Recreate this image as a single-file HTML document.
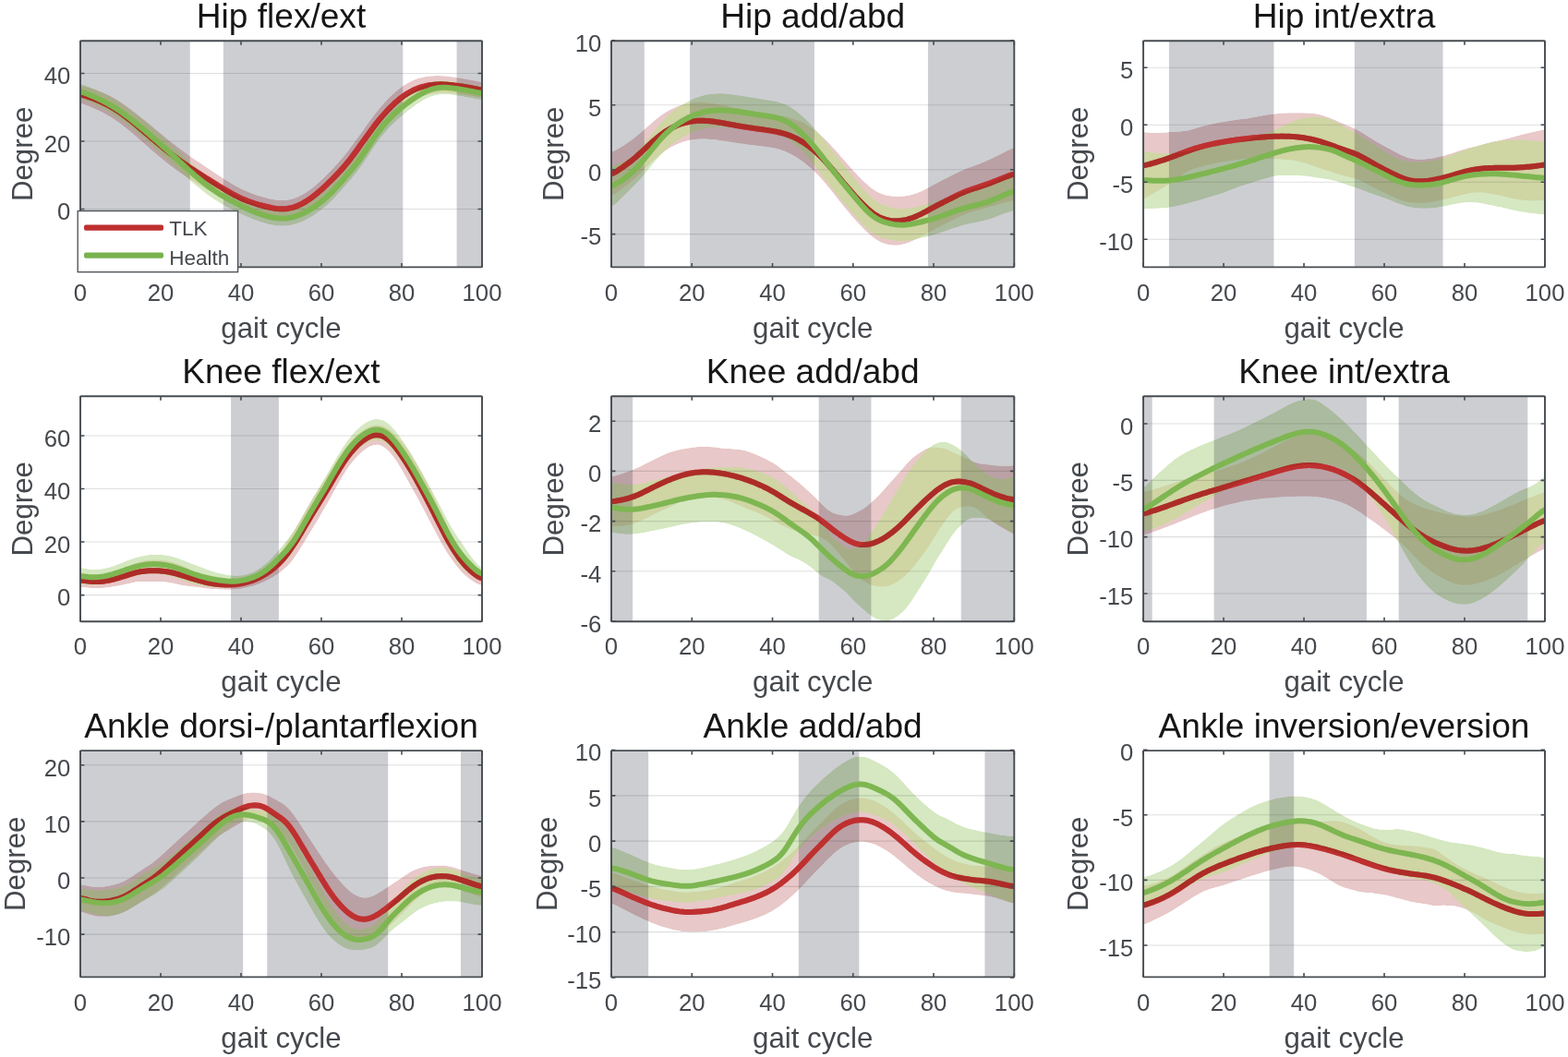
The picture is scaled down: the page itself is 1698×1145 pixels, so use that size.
<!DOCTYPE html><html><head><meta charset="utf-8"><title>Gait kinematics</title>
<style>html,body{margin:0;padding:0;background:#fff;}svg{display:block;}text{font-family:'Liberation Sans', Arial, Helvetica, sans-serif;}</style></head><body>
<svg xmlns="http://www.w3.org/2000/svg" width="1698" height="1145" viewBox="0 0 1698 1145">
<rect x="0" y="0" width="1698" height="1145" fill="#fff"/>
<clipPath id="c0"><rect x="87" y="44.3" width="435" height="245.1"/></clipPath>
<g clip-path="url(#c0)">
<rect x="87" y="44.3" width="435" height="245.1" fill="#fff"/>
<rect x="87" y="44.3" width="118.75" height="245.1" fill="rgb(205,206,210)"/>
<rect x="241.86" y="44.3" width="194.44" height="245.1" fill="rgb(205,206,210)"/>
<rect x="494.6" y="44.3" width="27.4" height="245.1" fill="rgb(205,206,210)"/>
<line x1="87" y1="226.5" x2="522" y2="226.5" stroke="#262626" stroke-opacity="0.15" stroke-width="1.1"/>
<line x1="87" y1="153" x2="522" y2="153" stroke="#262626" stroke-opacity="0.15" stroke-width="1.1"/>
<line x1="87" y1="79.5" x2="522" y2="79.5" stroke="#262626" stroke-opacity="0.15" stroke-width="1.1"/>
<defs><path id="br0" d="M87,92.93L89.17,93.24L91.35,93.68L93.53,94.23L95.7,94.83L97.88,95.48L100.05,96.15L102.22,96.86L104.4,97.6L106.58,98.38L108.75,99.2L110.92,100.07L113.1,100.99L115.28,101.97L117.45,103.01L119.62,104.11L121.8,105.27L123.97,106.5L126.15,107.8L128.32,109.15L130.5,110.56L132.68,112.02L134.85,113.52L137.03,115.06L139.2,116.64L141.38,118.25L143.55,119.89L145.72,121.56L147.9,123.26L150.07,124.97L152.25,126.7L154.43,128.45L156.6,130.21L158.78,131.99L160.95,133.77L163.12,135.56L165.3,137.35L167.47,139.15L169.65,140.95L171.82,142.75L174,144.55L176.18,146.35L178.35,148.14L180.53,149.92L182.7,151.68L184.88,153.43L187.05,155.15L189.22,156.86L191.4,158.54L193.57,160.19L195.75,161.82L197.93,163.43L200.1,165.02L202.28,166.58L204.45,168.13L206.62,169.65L208.8,171.16L210.97,172.66L213.15,174.14L215.32,175.6L217.5,177.05L219.68,178.5L221.85,179.95L224.03,181.4L226.2,182.85L228.38,184.3L230.55,185.76L232.72,187.21L234.9,188.67L237.07,190.12L239.25,191.55L241.43,192.98L243.6,194.38L245.78,195.77L247.95,197.12L250.12,198.44L252.3,199.72L254.47,200.96L256.65,202.15L258.82,203.3L261,204.38L263.18,205.42L265.35,206.41L267.52,207.36L269.7,208.26L271.88,209.12L274.05,209.94L276.23,210.71L278.4,211.46L280.57,212.16L282.75,212.83L284.93,213.47L287.1,214.08L289.27,214.65L291.45,215.19L293.62,215.68L295.8,216.12L297.98,216.49L300.15,216.78L302.32,216.99L304.5,217.09L306.68,217.08L308.85,216.95L311.02,216.7L313.2,216.33L315.38,215.83L317.55,215.2L319.73,214.46L321.9,213.59L324.07,212.6L326.25,211.49L328.43,210.28L330.6,208.95L332.77,207.53L334.95,206L337.12,204.39L339.3,202.68L341.48,200.9L343.65,199.03L345.82,197.1L348,195.11L350.18,193.05L352.35,190.93L354.52,188.76L356.7,186.54L358.88,184.27L361.05,181.96L363.23,179.61L365.4,177.22L367.57,174.77L369.75,172.26L371.93,169.68L374.1,167.02L376.27,164.28L378.45,161.46L380.62,158.56L382.8,155.61L384.98,152.6L387.15,149.56L389.32,146.5L391.5,143.44L393.68,140.38L395.85,137.34L398.02,134.31L400.2,131.32L402.38,128.38L404.55,125.51L406.73,122.7L408.9,119.96L411.07,117.31L413.25,114.74L415.43,112.25L417.6,109.86L419.77,107.55L421.95,105.34L424.12,103.22L426.3,101.19L428.48,99.27L430.65,97.44L432.82,95.71L435,94.08L437.18,92.56L439.35,91.16L441.52,89.88L443.7,88.71L445.88,87.65L448.05,86.7L450.23,85.86L452.4,85.11L454.57,84.46L456.75,83.9L458.93,83.42L461.1,83.02L463.27,82.7L465.45,82.45L467.62,82.26L469.8,82.14L471.98,82.08L474.15,82.06L476.32,82.1L478.5,82.17L480.68,82.29L482.85,82.46L485.02,82.67L487.2,82.91L489.38,83.19L491.55,83.49L493.73,83.81L495.9,84.16L498.07,84.52L500.25,84.9L502.43,85.29L504.6,85.69L506.77,86.09L508.95,86.51L511.12,86.93L513.3,87.35L515.48,87.76L517.65,88.14L519.83,88.47L522,88.73L522,105.63L519.83,105.38L517.65,105.07L515.48,104.71L513.3,104.34L511.12,103.96L508.95,103.59L506.77,103.24L504.6,102.9L502.43,102.57L500.25,102.26L498.07,101.97L495.9,101.7L493.73,101.45L491.55,101.22L489.38,101.02L487.2,100.85L485.02,100.71L482.85,100.61L480.68,100.56L478.5,100.55L476.32,100.6L474.15,100.72L471.98,100.92L469.8,101.19L467.62,101.53L465.45,101.96L463.27,102.47L461.1,103.05L458.93,103.72L456.75,104.48L454.57,105.31L452.4,106.24L450.23,107.25L448.05,108.35L445.88,109.54L443.7,110.82L441.52,112.2L439.35,113.66L437.18,115.22L435,116.86L432.82,118.6L430.65,120.44L428.48,122.38L426.3,124.41L424.12,126.54L421.95,128.77L419.77,131.08L417.6,133.48L415.43,135.96L413.25,138.53L411.07,141.18L408.9,143.91L406.73,146.71L404.55,149.58L402.38,152.51L400.2,155.5L398.02,158.52L395.85,161.57L393.68,164.63L391.5,167.7L389.32,170.74L387.15,173.74L384.98,176.69L382.8,179.57L380.62,182.37L378.45,185.09L376.27,187.72L374.1,190.25L371.93,192.68L369.75,195.02L367.57,197.29L365.4,199.49L363.23,201.64L361.05,203.74L358.88,205.81L356.7,207.85L354.52,209.86L352.35,211.84L350.18,213.78L348,215.69L345.82,217.54L343.65,219.33L341.48,221.04L339.3,222.68L337.12,224.23L334.95,225.7L332.77,227.08L330.6,228.36L328.43,229.55L326.25,230.63L324.07,231.6L321.9,232.47L319.73,233.23L317.55,233.88L315.38,234.42L313.2,234.84L311.02,235.16L308.85,235.36L306.68,235.46L304.5,235.46L302.32,235.37L300.15,235.2L297.98,234.94L295.8,234.63L293.62,234.27L291.45,233.86L289.27,233.43L287.1,232.96L284.93,232.48L282.75,231.97L280.57,231.43L278.4,230.86L276.23,230.27L274.05,229.63L271.88,228.97L269.7,228.26L267.52,227.5L265.35,226.71L263.18,225.86L261,224.96L258.82,224.02L256.65,223.03L254.47,222.01L252.3,220.95L250.12,219.85L247.95,218.72L245.78,217.57L243.6,216.39L241.43,215.19L239.25,213.97L237.07,212.74L234.9,211.5L232.72,210.24L230.55,208.99L228.38,207.72L226.2,206.46L224.03,205.18L221.85,203.9L219.68,202.61L217.5,201.31L215.32,200L213.15,198.68L210.97,197.34L208.8,196L206.62,194.64L204.45,193.26L202.28,191.87L200.1,190.44L197.93,189L195.75,187.52L193.57,186.02L191.4,184.48L189.22,182.91L187.05,181.31L184.88,179.67L182.7,178L180.53,176.3L178.35,174.56L176.18,172.8L174,171.01L171.82,169.2L169.65,167.36L167.47,165.5L165.3,163.62L163.12,161.72L160.95,159.81L158.78,157.9L156.6,155.98L154.43,154.05L152.25,152.13L150.07,150.22L147.9,148.32L145.72,146.43L143.55,144.57L141.38,142.73L139.2,140.92L137.03,139.14L134.85,137.41L132.68,135.72L130.5,134.08L128.32,132.49L126.15,130.95L123.97,129.47L121.8,128.05L119.62,126.68L117.45,125.38L115.28,124.13L113.1,122.94L110.92,121.81L108.75,120.72L106.58,119.67L104.4,118.66L102.22,117.69L100.05,116.75L97.88,115.83L95.7,114.95L93.53,114.09L91.35,113.3L89.17,112.6L87,112.04Z"/><path id="bg0" d="M87,91.22L89.17,91.7L91.35,92.33L93.53,93.09L95.7,93.91L97.88,94.77L100.05,95.65L102.22,96.56L104.4,97.49L106.58,98.45L108.75,99.44L110.92,100.46L113.1,101.53L115.28,102.63L117.45,103.78L119.62,104.98L121.8,106.22L123.97,107.51L126.15,108.85L128.32,110.24L130.5,111.67L132.68,113.14L134.85,114.64L137.03,116.18L139.2,117.75L141.38,119.35L143.55,120.97L145.72,122.63L147.9,124.31L150.07,126.02L152.25,127.74L154.43,129.49L156.6,131.26L158.78,133.06L160.95,134.87L163.12,136.7L165.3,138.55L167.47,140.42L169.65,142.31L171.82,144.22L174,146.16L176.18,148.11L178.35,150.07L180.53,152.04L182.7,154.02L184.88,156.01L187.05,158.01L189.22,160.02L191.4,162.03L193.57,164.04L195.75,166.06L197.93,168.07L200.1,170.07L202.28,172.07L204.45,174.05L206.62,176.02L208.8,177.96L210.97,179.89L213.15,181.78L215.32,183.65L217.5,185.49L219.68,187.29L221.85,189.06L224.03,190.79L226.2,192.48L228.38,194.13L230.55,195.73L232.72,197.28L234.9,198.79L237.07,200.25L239.25,201.67L241.43,203.05L243.6,204.39L245.78,205.7L247.95,206.97L250.12,208.21L252.3,209.42L254.47,210.61L256.65,211.77L258.82,212.91L261,214.03L263.18,215.14L265.35,216.22L267.52,217.29L269.7,218.33L271.88,219.34L274.05,220.33L276.23,221.28L278.4,222.19L280.57,223.05L282.75,223.87L284.93,224.64L287.1,225.36L289.27,226.01L291.45,226.6L293.62,227.12L295.8,227.57L297.98,227.93L300.15,228.22L302.32,228.41L304.5,228.51L306.68,228.51L308.85,228.4L311.02,228.19L313.2,227.88L315.38,227.45L317.55,226.92L319.73,226.27L321.9,225.52L324.07,224.66L326.25,223.71L328.43,222.65L330.6,221.5L332.77,220.27L334.95,218.95L337.12,217.56L339.3,216.1L341.48,214.56L343.65,212.96L345.82,211.28L348,209.53L350.18,207.71L352.35,205.79L354.52,203.79L356.7,201.69L358.88,199.5L361.05,197.22L363.23,194.85L365.4,192.42L367.57,189.92L369.75,187.39L371.93,184.84L374.1,182.27L376.27,179.7L378.45,177.11L380.62,174.5L382.8,171.85L384.98,169.11L387.15,166.29L389.32,163.35L391.5,160.29L393.68,157.12L395.85,153.86L398.02,150.54L400.2,147.21L402.38,143.91L404.55,140.69L406.73,137.56L408.9,134.56L411.07,131.69L413.25,128.94L415.43,126.32L417.6,123.82L419.77,121.43L421.95,119.15L424.12,116.97L426.3,114.88L428.48,112.87L430.65,110.94L432.82,109.09L435,107.29L437.18,105.57L439.35,103.92L441.52,102.34L443.7,100.82L445.88,99.37L448.05,97.99L450.23,96.67L452.4,95.43L454.57,94.27L456.75,93.19L458.93,92.2L461.1,91.29L463.27,90.47L465.45,89.74L467.62,89.12L469.8,88.59L471.98,88.17L474.15,87.84L476.32,87.62L478.5,87.48L480.68,87.44L482.85,87.48L485.02,87.6L487.2,87.79L489.38,88.03L491.55,88.31L493.73,88.62L495.9,88.95L498.07,89.3L500.25,89.67L502.43,90.05L504.6,90.44L506.77,90.84L508.95,91.25L511.12,91.67L513.3,92.09L515.48,92.5L517.65,92.89L519.83,93.23L522,93.49L522,108.19L519.83,107.93L517.65,107.59L515.48,107.2L513.3,106.79L511.12,106.37L508.95,105.95L506.77,105.54L504.6,105.14L502.43,104.75L500.25,104.37L498.07,104L495.9,103.65L493.73,103.32L491.55,103.01L489.38,102.73L487.2,102.49L485.02,102.3L482.85,102.18L480.68,102.14L478.5,102.18L476.32,102.34L474.15,102.64L471.98,103.07L469.8,103.63L467.62,104.33L465.45,105.16L463.27,106.11L461.1,107.16L458.93,108.32L456.75,109.58L454.57,110.92L452.4,112.34L450.23,113.83L448.05,115.39L445.88,117L443.7,118.66L441.52,120.36L439.35,122.09L437.18,123.86L435,125.67L432.82,127.52L430.65,129.44L428.48,131.42L426.3,133.49L424.12,135.63L421.95,137.86L419.77,140.2L417.6,142.63L415.43,145.17L413.25,147.84L411.07,150.62L408.9,153.53L406.73,156.56L404.55,159.72L402.38,162.97L400.2,166.28L398.02,169.63L395.85,172.96L393.68,176.23L391.5,179.4L389.32,182.45L387.15,185.37L384.98,188.16L382.8,190.85L380.62,193.45L378.45,196L376.27,198.51L374.1,201.01L371.93,203.49L369.75,205.95L367.57,208.39L365.4,210.78L363.23,213.12L361.05,215.39L358.88,217.57L356.7,219.67L354.52,221.67L352.35,223.59L350.18,225.42L348,227.17L345.82,228.84L343.65,230.44L341.48,231.95L339.3,233.39L337.12,234.76L334.95,236.06L332.77,237.28L330.6,238.41L328.43,239.46L326.25,240.43L324.07,241.3L321.9,242.07L319.73,242.74L317.55,243.31L315.38,243.78L313.2,244.15L311.02,244.42L308.85,244.6L306.68,244.68L304.5,244.68L302.32,244.59L300.15,244.41L297.98,244.16L295.8,243.83L293.62,243.44L291.45,242.98L289.27,242.45L287.1,241.87L284.93,241.24L282.75,240.56L280.57,239.83L278.4,239.05L276.23,238.24L274.05,237.39L271.88,236.5L269.7,235.59L267.52,234.65L265.35,233.68L263.18,232.69L261,231.67L258.82,230.65L256.65,229.61L254.47,228.55L252.3,227.48L250.12,226.39L247.95,225.28L245.78,224.13L243.6,222.96L241.43,221.75L239.25,220.5L237.07,219.21L234.9,217.87L232.72,216.48L230.55,215.05L228.38,213.55L226.2,212.01L224.03,210.41L221.85,208.77L219.68,207.07L217.5,205.33L215.32,203.55L213.15,201.74L210.97,199.9L208.8,198.03L206.62,196.13L204.45,194.22L202.28,192.28L200.1,190.33L197.93,188.38L195.75,186.41L193.57,184.43L191.4,182.46L189.22,180.48L187.05,178.5L184.88,176.53L182.7,174.56L180.53,172.6L178.35,170.64L176.18,168.68L174,166.74L171.82,164.79L169.65,162.85L167.47,160.91L165.3,158.97L163.12,157.04L160.95,155.11L158.78,153.19L156.6,151.28L154.43,149.38L152.25,147.5L150.07,145.63L147.9,143.78L145.72,141.95L143.55,140.15L141.38,138.38L139.2,136.63L137.03,134.93L134.85,133.26L132.68,131.63L130.5,130.04L128.32,128.5L126.15,127.01L123.97,125.56L121.8,124.15L119.62,122.8L117.45,121.49L115.28,120.23L113.1,119.02L110.92,117.85L108.75,116.71L106.58,115.61L104.4,114.54L102.22,113.5L100.05,112.48L97.88,111.49L95.7,110.52L93.53,109.59L91.35,108.72L89.17,107.98L87,107.39Z"/>
<mask id="mA0" maskUnits="userSpaceOnUse" x="0" y="0" width="1698" height="1145"><use href="#br0" fill="#fff"/><use href="#bg0" fill="#000"/></mask>
<mask id="mB0" maskUnits="userSpaceOnUse" x="0" y="0" width="1698" height="1145"><use href="#bg0" fill="#fff"/><use href="#br0" fill="#000"/></mask>
<clipPath id="cC0"><use href="#br0"/></clipPath></defs>
<use href="#br0" fill="rgb(232,200,200)" mask="url(#mA0)" style="mix-blend-mode:multiply"/>
<path d="M87,102.48L89.17,102.92L91.35,103.49L93.53,104.16L95.7,104.89L97.88,105.66L100.05,106.45L102.22,107.28L104.4,108.13L106.58,109.02L108.75,109.96L110.92,110.94L113.1,111.97L115.28,113.05L117.45,114.19L119.62,115.4L121.8,116.66L123.97,117.99L126.15,119.38L128.32,120.82L130.5,122.32L132.68,123.87L134.85,125.46L137.03,127.1L139.2,128.78L141.38,130.49L143.55,132.23L145.72,134L147.9,135.79L150.07,137.6L152.25,139.42L154.43,141.25L156.6,143.1L158.78,144.94L160.95,146.79L163.12,148.64L165.3,150.48L167.47,152.32L169.65,154.16L171.82,155.98L174,157.78L176.18,159.58L178.35,161.35L180.53,163.11L182.7,164.84L184.88,166.55L187.05,168.23L189.22,169.88L191.4,171.51L193.57,173.11L195.75,174.67L197.93,176.21L200.1,177.73L202.28,179.22L204.45,180.7L206.62,182.15L208.8,183.58L210.97,185L213.15,186.41L215.32,187.8L217.5,189.18L219.68,190.56L221.85,191.93L224.03,193.29L226.2,194.65L228.38,196.01L230.55,197.37L232.72,198.73L234.9,200.08L237.07,201.43L239.25,202.76L241.43,204.08L243.6,205.39L245.78,206.67L247.95,207.92L250.12,209.15L252.3,210.34L254.47,211.49L256.65,212.59L258.82,213.66L261,214.67L263.18,215.64L265.35,216.56L267.52,217.43L269.7,218.26L271.88,219.04L274.05,219.78L276.23,220.49L278.4,221.16L280.57,221.79L282.75,222.4L284.93,222.97L287.1,223.52L289.27,224.04L291.45,224.52L293.62,224.97L295.8,225.37L297.98,225.72L300.15,225.99L302.32,226.18L304.5,226.28L306.68,226.27L308.85,226.16L311.02,225.93L313.2,225.58L315.38,225.12L317.55,224.54L319.73,223.85L321.9,223.03L324.07,222.1L326.25,221.06L328.43,219.91L330.6,218.66L332.77,217.3L334.95,215.85L337.12,214.31L339.3,212.68L341.48,210.97L343.65,209.18L345.82,207.32L348,205.4L350.18,203.42L352.35,201.39L354.52,199.31L356.7,197.19L358.88,195.04L361.05,192.85L363.23,190.62L365.4,188.35L367.57,186.03L369.75,183.64L371.93,181.18L374.1,178.63L376.27,176L378.45,173.27L380.62,170.47L382.8,167.59L384.98,164.64L387.15,161.65L389.32,158.62L391.5,155.57L393.68,152.51L395.85,149.45L398.02,146.42L400.2,143.41L402.38,140.45L404.55,137.54L406.73,134.7L408.9,131.94L411.07,129.24L413.25,126.64L415.43,124.11L417.6,121.67L419.77,119.32L421.95,117.05L424.12,114.88L426.3,112.8L428.48,110.82L430.65,108.94L432.82,107.15L435,105.47L437.18,103.89L439.35,102.41L441.52,101.04L443.7,99.77L445.88,98.6L448.05,97.53L450.23,96.56L452.4,95.68L454.57,94.89L456.75,94.19L458.93,93.57L461.1,93.04L463.27,92.58L465.45,92.2L467.62,91.9L469.8,91.66L471.98,91.5L474.15,91.39L476.32,91.35L478.5,91.36L480.68,91.43L482.85,91.54L485.02,91.69L487.2,91.88L489.38,92.1L491.55,92.36L493.73,92.63L495.9,92.93L498.07,93.25L500.25,93.58L502.43,93.93L504.6,94.29L506.77,94.67L508.95,95.05L511.12,95.45L513.3,95.84L515.48,96.24L517.65,96.61L519.83,96.93L522,97.18" fill="none" stroke="rgb(191,48,48)" stroke-width="6.0" stroke-linejoin="round"/>
<use href="#bg0" fill="rgb(213,232,193)" mask="url(#mB0)" style="mix-blend-mode:multiply"/>
<use href="#bg0" fill="rgb(207,213,163)" clip-path="url(#cC0)" style="mix-blend-mode:multiply"/>
<path d="M87,102.48L89.17,102.92L91.35,103.49L93.53,104.16L95.7,104.89L97.88,105.66L100.05,106.45L102.22,107.28L104.4,108.13L106.58,109.02L108.75,109.96L110.92,110.94L113.1,111.97L115.28,113.05L117.45,114.19L119.62,115.4L121.8,116.66L123.97,117.99L126.15,119.38L128.32,120.82L130.5,122.32L132.68,123.87L134.85,125.46L137.03,127.1L139.2,128.78L141.38,130.49L143.55,132.23L145.72,134L147.9,135.79L150.07,137.6L152.25,139.42L154.43,141.25L156.6,143.1L158.78,144.94L160.95,146.79L163.12,148.64L165.3,150.48L167.47,152.32L169.65,154.16L171.82,155.98L174,157.78L176.18,159.58L178.35,161.35L180.53,163.11L182.7,164.84L184.88,166.55L187.05,168.23L189.22,169.88L191.4,171.51L193.57,173.11L195.75,174.67L197.93,176.21L200.1,177.73L202.28,179.22L204.45,180.7L206.62,182.15L208.8,183.58L210.97,185L213.15,186.41L215.32,187.8L217.5,189.18L219.68,190.56L221.85,191.93L224.03,193.29L226.2,194.65L228.38,196.01L230.55,197.37L232.72,198.73L234.9,200.08L237.07,201.43L239.25,202.76L241.43,204.08L243.6,205.39L245.78,206.67L247.95,207.92L250.12,209.15L252.3,210.34L254.47,211.49L256.65,212.59L258.82,213.66L261,214.67L263.18,215.64L265.35,216.56L267.52,217.43L269.7,218.26L271.88,219.04L274.05,219.78L276.23,220.49L278.4,221.16L280.57,221.79L282.75,222.4L284.93,222.97L287.1,223.52L289.27,224.04L291.45,224.52L293.62,224.97L295.8,225.37L297.98,225.72L300.15,225.99L302.32,226.18L304.5,226.28L306.68,226.27L308.85,226.16L311.02,225.93L313.2,225.58L315.38,225.12L317.55,224.54L319.73,223.85L321.9,223.03L324.07,222.1L326.25,221.06L328.43,219.91L330.6,218.66L332.77,217.3L334.95,215.85L337.12,214.31L339.3,212.68L341.48,210.97L343.65,209.18L345.82,207.32L348,205.4L350.18,203.42L352.35,201.39L354.52,199.31L356.7,197.19L358.88,195.04L361.05,192.85L363.23,190.62L365.4,188.35L367.57,186.03L369.75,183.64L371.93,181.18L374.1,178.63L376.27,176L378.45,173.27L380.62,170.47L382.8,167.59L384.98,164.64L387.15,161.65L389.32,158.62L391.5,155.57L393.68,152.51L395.85,149.45L398.02,146.42L400.2,143.41L402.38,140.45L404.55,137.54L406.73,134.7L408.9,131.94L411.07,129.24L413.25,126.64L415.43,124.11L417.6,121.67L419.77,119.32L421.95,117.05L424.12,114.88L426.3,112.8L428.48,110.82L430.65,108.94L432.82,107.15L435,105.47L437.18,103.89L439.35,102.41L441.52,101.04L443.7,99.77L445.88,98.6L448.05,97.53L450.23,96.56L452.4,95.68L454.57,94.89L456.75,94.19L458.93,93.57L461.1,93.04L463.27,92.58L465.45,92.2L467.62,91.9L469.8,91.66L471.98,91.5L474.15,91.39L476.32,91.35L478.5,91.36L480.68,91.43L482.85,91.54L485.02,91.69L487.2,91.88L489.38,92.1L491.55,92.36L493.73,92.63L495.9,92.93L498.07,93.25L500.25,93.58L502.43,93.93L504.6,94.29L506.77,94.67L508.95,95.05L511.12,95.45L513.3,95.84L515.48,96.24L517.65,96.61L519.83,96.93L522,97.18" fill="none" stroke="rgb(191,48,48)" stroke-width="6.0" stroke-linejoin="round" stroke-opacity="0.5"/>
<path d="M87,99.3L89.17,99.84L91.35,100.53L93.53,101.34L95.7,102.21L97.88,103.13L100.05,104.07L102.22,105.03L104.4,106.01L106.58,107.03L108.75,108.07L110.92,109.15L113.1,110.27L115.28,111.43L117.45,112.64L119.62,113.89L121.8,115.19L123.97,116.54L126.15,117.93L128.32,119.37L130.5,120.86L132.68,122.38L134.85,123.95L137.03,125.55L139.2,127.19L141.38,128.86L143.55,130.56L145.72,132.29L147.9,134.04L150.07,135.82L152.25,137.62L154.43,139.44L156.6,141.27L158.78,143.12L160.95,144.99L163.12,146.87L165.3,148.76L167.47,150.66L169.65,152.58L171.82,154.51L174,156.45L176.18,158.4L178.35,160.35L180.53,162.32L182.7,164.29L184.88,166.27L187.05,168.26L189.22,170.25L191.4,172.24L193.57,174.24L195.75,176.23L197.93,178.22L200.1,180.2L202.28,182.18L204.45,184.13L206.62,186.07L208.8,187.99L210.97,189.89L213.15,191.76L215.32,193.6L217.5,195.41L219.68,197.18L221.85,198.91L224.03,200.6L226.2,202.25L228.38,203.84L230.55,205.39L232.72,206.88L234.9,208.33L237.07,209.73L239.25,211.09L241.43,212.4L243.6,213.68L245.78,214.92L247.95,216.12L250.12,217.3L252.3,218.45L254.47,219.58L256.65,220.69L258.82,221.78L261,222.85L263.18,223.91L265.35,224.95L267.52,225.97L269.7,226.96L271.88,227.92L274.05,228.86L276.23,229.76L278.4,230.62L280.57,231.44L282.75,232.21L284.93,232.94L287.1,233.61L289.27,234.23L291.45,234.79L293.62,235.28L295.8,235.7L297.98,236.05L300.15,236.32L302.32,236.5L304.5,236.59L306.68,236.6L308.85,236.5L311.02,236.31L313.2,236.01L315.38,235.62L317.55,235.11L319.73,234.51L321.9,233.79L324.07,232.98L326.25,232.07L328.43,231.06L330.6,229.96L332.77,228.77L334.95,227.51L337.12,226.16L339.3,224.74L341.48,223.26L343.65,221.7L345.82,220.06L348,218.35L350.18,216.56L352.35,214.69L354.52,212.73L356.7,210.68L358.88,208.53L361.05,206.3L363.23,203.99L365.4,201.6L367.57,199.16L369.75,196.67L371.93,194.16L374.1,191.64L376.27,189.11L378.45,186.56L380.62,183.98L382.8,181.35L384.98,178.64L387.15,175.83L389.32,172.9L391.5,169.85L393.68,166.67L395.85,163.41L398.02,160.08L400.2,156.75L402.38,153.44L404.55,150.2L406.73,147.06L408.9,144.04L411.07,141.15L413.25,138.39L415.43,135.75L417.6,133.22L419.77,130.81L421.95,128.51L424.12,126.3L426.3,124.18L428.48,122.15L430.65,120.19L432.82,118.3L435,116.48L437.18,114.72L439.35,113.01L441.52,111.35L443.7,109.74L445.88,108.18L448.05,106.69L450.23,105.25L452.4,103.89L454.57,102.6L456.75,101.38L458.93,100.26L461.1,99.22L463.27,98.29L465.45,97.45L467.62,96.73L469.8,96.11L471.98,95.62L474.15,95.24L476.32,94.98L478.5,94.83L480.68,94.79L482.85,94.83L485.02,94.95L487.2,95.14L489.38,95.38L491.55,95.66L493.73,95.97L495.9,96.3L498.07,96.65L500.25,97.02L502.43,97.4L504.6,97.79L506.77,98.19L508.95,98.6L511.12,99.02L513.3,99.44L515.48,99.85L517.65,100.24L519.83,100.58L522,100.84" fill="none" stroke="rgb(126,182,81)" stroke-width="6.0" stroke-linejoin="round"/>
</g>
<rect x="87" y="44.3" width="435" height="245.1" fill="none" stroke="#474c51" stroke-width="1.9" rx="0.8"/>
<path d="M87,289.4v-4.4M87,44.3v4.4M174,289.4v-4.4M174,44.3v4.4M261,289.4v-4.4M261,44.3v4.4M348,289.4v-4.4M348,44.3v4.4M435,289.4v-4.4M435,44.3v4.4M522,289.4v-4.4M522,44.3v4.4M87,226.5h4.4M522,226.5h-4.4M87,153h4.4M522,153h-4.4M87,79.5h4.4M522,79.5h-4.4" stroke="#474c51" stroke-width="1.6" fill="none"/>
<text x="87" y="325.5" font-size="25.7" fill="#45494e" text-anchor="middle">0</text>
<text x="174" y="325.5" font-size="25.7" fill="#45494e" text-anchor="middle">20</text>
<text x="261" y="325.5" font-size="25.7" fill="#45494e" text-anchor="middle">40</text>
<text x="348" y="325.5" font-size="25.7" fill="#45494e" text-anchor="middle">60</text>
<text x="435" y="325.5" font-size="25.7" fill="#45494e" text-anchor="middle">80</text>
<text x="522" y="325.5" font-size="25.7" fill="#45494e" text-anchor="middle">100</text>
<text x="76.3" y="238.3" font-size="25.7" fill="#45494e" text-anchor="end">0</text>
<text x="76.3" y="164.8" font-size="25.7" fill="#45494e" text-anchor="end">20</text>
<text x="76.3" y="91.3" font-size="25.7" fill="#45494e" text-anchor="end">40</text>
<text x="304.5" y="365.5" font-size="31.25" fill="#45494e" text-anchor="middle">gait cycle</text>
<text transform="translate(34.7,166.85) rotate(-90)" font-size="31.25" fill="#45494e" text-anchor="middle">Degree</text>
<text x="304.5" y="30.4" font-size="37.1" fill="#161616" text-anchor="middle">Hip flex/ext</text>
<clipPath id="c1"><rect x="662" y="44.3" width="436.3" height="245.1"/></clipPath>
<g clip-path="url(#c1)">
<rect x="662" y="44.3" width="436.3" height="245.1" fill="#fff"/>
<rect x="662" y="44.3" width="35.78" height="245.1" fill="rgb(205,206,210)"/>
<rect x="747.08" y="44.3" width="134.82" height="245.1" fill="rgb(205,206,210)"/>
<rect x="1004.93" y="44.3" width="93.37" height="245.1" fill="rgb(205,206,210)"/>
<line x1="662" y1="253.6" x2="1098.3" y2="253.6" stroke="#262626" stroke-opacity="0.15" stroke-width="1.1"/>
<line x1="662" y1="183.7" x2="1098.3" y2="183.7" stroke="#262626" stroke-opacity="0.15" stroke-width="1.1"/>
<line x1="662" y1="113.8" x2="1098.3" y2="113.8" stroke="#262626" stroke-opacity="0.15" stroke-width="1.1"/>
<defs><path id="br1" d="M662,164.55L664.18,163.83L666.36,162.85L668.54,161.68L670.73,160.4L672.91,159.06L675.09,157.67L677.27,156.24L679.45,154.76L681.63,153.23L683.82,151.64L686,149.99L688.18,148.28L690.36,146.51L692.54,144.69L694.72,142.82L696.9,140.91L699.09,138.99L701.27,137.05L703.45,135.13L705.63,133.23L707.81,131.36L709.99,129.54L712.17,127.79L714.36,126.11L716.54,124.51L718.72,123L720.9,121.59L723.08,120.28L725.26,119.07L727.44,117.95L729.63,116.92L731.81,115.97L733.99,115.12L736.17,114.35L738.35,113.66L740.53,113.05L742.72,112.52L744.9,112.07L747.08,111.68L749.26,111.37L751.44,111.14L753.62,110.97L755.8,110.88L757.99,110.85L760.17,110.89L762.35,111L764.53,111.16L766.71,111.37L768.89,111.63L771.08,111.93L773.26,112.27L775.44,112.63L777.62,113.02L779.8,113.44L781.98,113.87L784.16,114.31L786.35,114.77L788.53,115.24L790.71,115.7L792.89,116.17L795.07,116.64L797.25,117.1L799.43,117.55L801.62,117.98L803.8,118.41L805.98,118.83L808.16,119.23L810.34,119.62L812.52,120L814.7,120.37L816.89,120.73L819.07,121.08L821.25,121.43L823.43,121.76L825.61,122.1L827.79,122.43L829.98,122.76L832.16,123.1L834.34,123.44L836.52,123.8L838.7,124.17L840.88,124.53L843.06,124.89L845.25,125.27L847.43,125.67L849.61,126.11L851.79,126.59L853.97,127.12L856.15,127.72L858.33,128.38L860.52,129.11L862.7,129.91L864.88,130.79L867.06,131.76L869.24,132.8L871.42,133.93L873.61,135.16L875.79,136.48L877.97,137.9L880.15,139.43L882.33,141.06L884.51,142.78L886.69,144.59L888.88,146.49L891.06,148.49L893.24,150.57L895.42,152.74L897.6,154.98L899.78,157.28L901.96,159.65L904.15,162.06L906.33,164.51L908.51,167.01L910.69,169.53L912.87,172.06L915.05,174.58L917.24,177.09L919.42,179.57L921.6,182.01L923.78,184.42L925.96,186.79L928.14,189.11L930.32,191.38L932.51,193.59L934.69,195.74L936.87,197.81L939.05,199.79L941.23,201.65L943.41,203.4L945.6,204.99L947.78,206.44L949.96,207.71L952.14,208.82L954.32,209.77L956.5,210.55L958.68,211.2L960.87,211.71L963.05,212.1L965.23,212.39L967.41,212.57L969.59,212.67L971.77,212.71L973.95,212.69L976.14,212.6L978.32,212.43L980.5,212.18L982.68,211.85L984.86,211.43L987.04,210.93L989.22,210.33L991.41,209.64L993.59,208.86L995.77,207.98L997.95,207.01L1000.13,205.96L1002.31,204.82L1004.5,203.63L1006.68,202.44L1008.86,201.24L1011.04,200.07L1013.22,198.91L1015.4,197.77L1017.58,196.65L1019.77,195.54L1021.95,194.44L1024.13,193.34L1026.31,192.23L1028.49,191.11L1030.67,189.99L1032.86,188.88L1035.04,187.78L1037.22,186.7L1039.4,185.66L1041.58,184.67L1043.76,183.74L1045.94,182.86L1048.13,182.03L1050.31,181.22L1052.49,180.42L1054.67,179.63L1056.85,178.83L1059.03,178.02L1061.21,177.18L1063.4,176.32L1065.58,175.43L1067.76,174.51L1069.94,173.55L1072.12,172.57L1074.3,171.55L1076.48,170.5L1078.67,169.42L1080.85,168.33L1083.03,167.22L1085.21,166.1L1087.39,164.97L1089.57,163.86L1091.76,162.77L1093.94,161.74L1096.12,160.81L1098.3,160.03L1098.3,217.35L1096.12,217.59L1093.94,217.98L1091.76,218.48L1089.57,219.05L1087.39,219.66L1085.21,220.28L1083.03,220.91L1080.85,221.55L1078.67,222.19L1076.48,222.82L1074.3,223.45L1072.12,224.07L1069.94,224.68L1067.76,225.28L1065.58,225.88L1063.4,226.47L1061.21,227.06L1059.03,227.65L1056.85,228.26L1054.67,228.88L1052.49,229.53L1050.31,230.23L1048.13,230.98L1045.94,231.79L1043.76,232.67L1041.58,233.6L1039.4,234.59L1037.22,235.63L1035.04,236.71L1032.86,237.81L1030.67,238.92L1028.49,240.04L1026.31,241.16L1024.13,242.27L1021.95,243.37L1019.77,244.47L1017.58,245.58L1015.4,246.7L1013.22,247.84L1011.04,249L1008.86,250.17L1006.68,251.37L1004.5,252.56L1002.31,253.75L1000.13,254.93L997.95,256.12L995.77,257.3L993.59,258.45L991.41,259.55L989.22,260.59L987.04,261.56L984.86,262.46L982.68,263.27L980.5,263.98L978.32,264.58L976.14,265.06L973.95,265.43L971.77,265.66L969.59,265.75L967.41,265.69L965.23,265.5L963.05,265.18L960.87,264.72L958.68,264.13L956.5,263.39L954.32,262.5L952.14,261.43L949.96,260.2L947.78,258.79L945.6,257.22L943.41,255.49L941.23,253.62L939.05,251.63L936.87,249.53L934.69,247.36L932.51,245.11L930.32,242.8L928.14,240.44L925.96,238.02L923.78,235.56L921.6,233.04L919.42,230.48L917.24,227.87L915.05,225.23L912.87,222.55L910.69,219.85L908.51,217.13L906.33,214.37L904.15,211.6L901.96,208.84L899.78,206.08L897.6,203.36L895.42,200.67L893.24,198.05L891.06,195.49L888.88,193.02L886.69,190.65L884.51,188.38L882.33,186.22L880.15,184.16L877.97,182.2L875.79,180.31L873.61,178.5L871.42,176.75L869.24,175.08L867.06,173.48L864.88,171.96L862.7,170.52L860.52,169.16L858.33,167.9L856.15,166.72L853.97,165.64L851.79,164.65L849.61,163.76L847.43,162.95L845.25,162.23L843.06,161.59L840.88,161.04L838.7,160.56L836.52,160.15L834.34,159.8L832.16,159.47L829.98,159.16L827.79,158.87L825.61,158.58L823.43,158.31L821.25,158.03L819.07,157.76L816.89,157.49L814.7,157.22L812.52,156.94L810.34,156.66L808.16,156.38L805.98,156.08L803.8,155.78L801.62,155.47L799.43,155.15L797.25,154.82L795.07,154.49L792.89,154.15L790.71,153.8L788.53,153.46L786.35,153.12L784.16,152.78L781.98,152.46L779.8,152.14L777.62,151.85L775.44,151.57L773.26,151.31L771.08,151.08L768.89,150.88L766.71,150.72L764.53,150.6L762.35,150.53L760.17,150.52L757.99,150.57L755.8,150.69L753.62,150.88L751.44,151.14L749.26,151.47L747.08,151.87L744.9,152.35L742.72,152.91L740.53,153.54L738.35,154.25L736.17,155.04L733.99,155.92L731.81,156.89L729.63,157.94L727.44,159.09L725.26,160.33L723.08,161.67L720.9,163.11L718.72,164.66L716.54,166.3L714.36,168.05L712.17,169.88L709.99,171.8L707.81,173.78L705.63,175.83L703.45,177.92L701.27,180.04L699.09,182.17L696.9,184.31L694.72,186.43L692.54,188.52L690.36,190.58L688.18,192.58L686,194.54L683.82,196.43L681.63,198.27L679.45,200.06L677.27,201.8L675.09,203.5L672.91,205.17L670.73,206.79L668.54,208.35L666.36,209.8L664.18,211.07L662,212.08Z"/><path id="bg1" d="M662,179.29L664.18,179.08L666.36,178.64L668.54,178.02L670.73,177.27L672.91,176.41L675.09,175.44L677.27,174.35L679.45,173.1L681.63,171.68L683.82,170.05L686,168.2L688.18,166.1L690.36,163.81L692.54,161.4L694.72,158.88L696.9,156.27L699.09,153.6L701.27,150.87L703.45,148.13L705.63,145.38L707.81,142.65L709.99,139.96L712.17,137.33L714.36,134.78L716.54,132.33L718.72,129.98L720.9,127.75L723.08,125.62L725.26,123.61L727.44,121.71L729.63,119.91L731.81,118.21L733.99,116.61L736.17,115.1L738.35,113.68L740.53,112.35L742.72,111.1L744.9,109.92L747.08,108.83L749.26,107.81L751.44,106.86L753.62,106L755.8,105.2L757.99,104.48L760.17,103.83L762.35,103.26L764.53,102.77L766.71,102.34L768.89,102L771.08,101.72L773.26,101.52L775.44,101.38L777.62,101.31L779.8,101.3L781.98,101.34L784.16,101.44L786.35,101.58L788.53,101.77L790.71,101.99L792.89,102.24L795.07,102.52L797.25,102.82L799.43,103.14L801.62,103.48L803.8,103.82L805.98,104.18L808.16,104.54L810.34,104.9L812.52,105.27L814.7,105.64L816.89,106.01L819.07,106.37L821.25,106.72L823.43,107.07L825.61,107.41L827.79,107.75L829.98,108.09L832.16,108.43L834.34,108.8L836.52,109.19L838.7,109.63L840.88,110.1L843.06,110.64L845.25,111.26L847.43,111.97L849.61,112.79L851.79,113.73L853.97,114.81L856.15,116.03L858.33,117.4L860.52,118.91L862.7,120.54L864.88,122.29L867.06,124.14L869.24,126.09L871.42,128.12L873.61,130.23L875.79,132.42L877.97,134.7L880.15,137.06L882.33,139.5L884.51,142.03L886.69,144.62L888.88,147.27L891.06,149.98L893.24,152.71L895.42,155.47L897.6,158.23L899.78,161L901.96,163.75L904.15,166.5L906.33,169.25L908.51,171.98L910.69,174.72L912.87,177.45L915.05,180.19L917.24,182.94L919.42,185.69L921.6,188.44L923.78,191.19L925.96,193.92L928.14,196.64L930.32,199.32L932.51,201.95L934.69,204.51L936.87,206.99L939.05,209.35L941.23,211.57L943.41,213.62L945.6,215.49L947.78,217.16L949.96,218.64L952.14,219.94L954.32,221.06L956.5,222.03L958.68,222.87L960.87,223.6L963.05,224.23L965.23,224.78L967.41,225.24L969.59,225.63L971.77,225.93L973.95,226.13L976.14,226.22L978.32,226.21L980.5,226.09L982.68,225.88L984.86,225.57L987.04,225.19L989.22,224.75L991.41,224.26L993.59,223.75L995.77,223.23L997.95,222.7L1000.13,222.17L1002.31,221.63L1004.5,221.07L1006.68,220.49L1008.86,219.88L1011.04,219.24L1013.22,218.55L1015.4,217.82L1017.58,217.05L1019.77,216.25L1021.95,215.42L1024.13,214.58L1026.31,213.73L1028.49,212.87L1030.67,212.03L1032.86,211.19L1035.04,210.37L1037.22,209.58L1039.4,208.81L1041.58,208.07L1043.76,207.37L1045.94,206.69L1048.13,206.05L1050.31,205.42L1052.49,204.81L1054.67,204.21L1056.85,203.6L1059.03,202.98L1061.21,202.33L1063.4,201.66L1065.58,200.95L1067.76,200.18L1069.94,199.36L1072.12,198.48L1074.3,197.53L1076.48,196.52L1078.67,195.46L1080.85,194.35L1083.03,193.23L1085.21,192.11L1087.39,191L1089.57,189.93L1091.76,188.92L1093.94,188L1096.12,187.2L1098.3,186.55L1098.3,228.49L1096.12,228.81L1093.94,229.3L1091.76,229.92L1089.57,230.63L1087.39,231.42L1085.21,232.24L1083.03,233.1L1080.85,233.96L1078.67,234.82L1076.48,235.64L1074.3,236.42L1072.12,237.15L1069.94,237.82L1067.76,238.43L1065.58,238.99L1063.4,239.52L1061.21,240.01L1059.03,240.48L1056.85,240.93L1054.67,241.38L1052.49,241.83L1050.31,242.3L1048.13,242.78L1045.94,243.29L1043.76,243.84L1041.58,244.43L1039.4,245.05L1037.22,245.71L1035.04,246.4L1032.86,247.12L1030.67,247.87L1028.49,248.63L1026.31,249.41L1024.13,250.18L1021.95,250.96L1019.77,251.72L1017.58,252.46L1015.4,253.17L1013.22,253.85L1011.04,254.49L1008.86,255.1L1006.68,255.67L1004.5,256.21L1002.31,256.73L1000.13,257.25L997.95,257.76L995.77,258.26L993.59,258.77L991.41,259.26L989.22,259.73L987.04,260.16L984.86,260.54L982.68,260.83L980.5,261.04L978.32,261.16L976.14,261.17L973.95,261.1L971.77,260.95L969.59,260.74L967.41,260.46L965.23,260.14L963.05,259.75L960.87,259.31L958.68,258.8L956.5,258.19L954.32,257.47L952.14,256.61L949.96,255.59L947.78,254.4L945.6,253.02L943.41,251.45L941.23,249.7L939.05,247.79L936.87,245.74L934.69,243.57L932.51,241.31L930.32,238.97L928.14,236.58L925.96,234.14L923.78,231.67L921.6,229.17L919.42,226.65L917.24,224.11L915.05,221.56L912.87,218.98L910.69,216.39L908.51,213.77L906.33,211.12L904.15,208.43L901.96,205.69L899.78,202.91L897.6,200.08L895.42,197.21L893.24,194.31L891.06,191.4L888.88,188.49L886.69,185.59L884.51,182.74L882.33,179.93L880.15,177.19L877.97,174.51L875.79,171.9L873.61,169.37L871.42,166.91L869.24,164.53L867.06,162.24L864.88,160.04L862.7,157.95L860.52,155.99L858.33,154.16L856.15,152.49L853.97,150.99L851.79,149.64L849.61,148.46L847.43,147.43L845.25,146.55L843.06,145.79L840.88,145.14L838.7,144.6L836.52,144.14L834.34,143.75L832.16,143.4L829.98,143.08L827.79,142.77L825.61,142.47L823.43,142.17L821.25,141.87L819.07,141.56L816.89,141.26L814.7,140.95L812.52,140.65L810.34,140.35L808.16,140.05L805.98,139.76L803.8,139.47L801.62,139.2L799.43,138.93L797.25,138.68L795.07,138.44L792.89,138.23L790.71,138.03L788.53,137.87L786.35,137.74L784.16,137.64L781.98,137.59L779.8,137.58L777.62,137.62L775.44,137.71L773.26,137.86L771.08,138.07L768.89,138.34L766.71,138.67L764.53,139.06L762.35,139.52L760.17,140.05L757.99,140.64L755.8,141.3L753.62,142.02L751.44,142.82L749.26,143.68L747.08,144.61L744.9,145.61L742.72,146.69L740.53,147.84L738.35,149.07L736.17,150.38L733.99,151.78L731.81,153.27L729.63,154.86L727.44,156.55L725.26,158.34L723.08,160.24L720.9,162.26L718.72,164.39L716.54,166.64L714.36,168.99L712.17,171.45L709.99,173.99L707.81,176.59L705.63,179.25L703.45,181.93L701.27,184.61L699.09,187.28L696.9,189.91L694.72,192.48L692.54,194.97L690.36,197.37L688.18,199.65L686,201.88L683.82,204.11L681.63,206.32L679.45,208.51L677.27,210.68L675.09,212.83L672.91,214.94L670.73,217.02L668.54,219.03L666.36,220.92L664.18,222.61L662,224.03Z"/>
<mask id="mA1" maskUnits="userSpaceOnUse" x="0" y="0" width="1698" height="1145"><use href="#br1" fill="#fff"/><use href="#bg1" fill="#000"/></mask>
<mask id="mB1" maskUnits="userSpaceOnUse" x="0" y="0" width="1698" height="1145"><use href="#bg1" fill="#fff"/><use href="#br1" fill="#000"/></mask>
<clipPath id="cC1"><use href="#br1"/></clipPath></defs>
<use href="#br1" fill="rgb(232,200,200)" mask="url(#mA1)" style="mix-blend-mode:multiply"/>
<path d="M662,188.31L664.18,187.45L666.36,186.33L668.54,185.02L670.73,183.6L672.91,182.11L675.09,180.59L677.27,179.02L679.45,177.41L681.63,175.75L683.82,174.04L686,172.26L688.18,170.43L690.36,168.54L692.54,166.6L694.72,164.62L696.9,162.61L699.09,160.58L701.27,158.55L703.45,156.53L705.63,154.53L707.81,152.57L709.99,150.67L712.17,148.83L714.36,147.08L716.54,145.41L718.72,143.83L720.9,142.35L723.08,140.98L725.26,139.7L727.44,138.52L729.63,137.43L731.81,136.43L733.99,135.52L736.17,134.7L738.35,133.96L740.53,133.3L742.72,132.72L744.9,132.21L747.08,131.78L749.26,131.42L751.44,131.14L753.62,130.93L755.8,130.78L757.99,130.71L760.17,130.71L762.35,130.77L764.53,130.88L766.71,131.05L768.89,131.26L771.08,131.51L773.26,131.79L775.44,132.1L777.62,132.44L779.8,132.79L781.98,133.16L784.16,133.55L786.35,133.94L788.53,134.35L790.71,134.75L792.89,135.16L795.07,135.56L797.25,135.96L799.43,136.35L801.62,136.73L803.8,137.1L805.98,137.45L808.16,137.8L810.34,138.14L812.52,138.47L814.7,138.79L816.89,139.11L819.07,139.42L821.25,139.73L823.43,140.04L825.61,140.34L827.79,140.65L829.98,140.96L832.16,141.28L834.34,141.62L836.52,141.98L838.7,142.36L840.88,142.78L843.06,143.24L845.25,143.75L847.43,144.31L849.61,144.93L851.79,145.62L853.97,146.38L856.15,147.22L858.33,148.14L860.52,149.13L862.7,150.21L864.88,151.38L867.06,152.62L869.24,153.94L871.42,155.34L873.61,156.83L875.79,158.39L877.97,160.05L880.15,161.8L882.33,163.64L884.51,165.58L886.69,167.62L888.88,169.76L891.06,171.99L893.24,174.31L895.42,176.71L897.6,179.17L899.78,181.68L901.96,184.24L904.15,186.83L906.33,189.44L908.51,192.07L910.69,194.69L912.87,197.31L915.05,199.91L917.24,202.48L919.42,205.02L921.6,207.53L923.78,209.99L925.96,212.41L928.14,214.77L930.32,217.09L932.51,219.35L934.69,221.55L936.87,223.67L939.05,225.71L941.23,227.63L943.41,229.44L945.6,231.11L947.78,232.61L949.96,233.96L952.14,235.13L954.32,236.13L956.5,236.97L958.68,237.67L960.87,238.22L963.05,238.64L965.23,238.94L967.41,239.13L969.59,239.21L971.77,239.19L973.95,239.06L976.14,238.83L978.32,238.5L980.5,238.08L982.68,237.56L984.86,236.95L987.04,236.25L989.22,235.46L991.41,234.59L993.59,233.65L995.77,232.64L997.95,231.57L1000.13,230.44L1002.31,229.28L1004.5,228.1L1006.68,226.9L1008.86,225.71L1011.04,224.53L1013.22,223.37L1015.4,222.23L1017.58,221.11L1019.77,220L1021.95,218.9L1024.13,217.8L1026.31,216.69L1028.49,215.58L1030.67,214.46L1032.86,213.34L1035.04,212.24L1037.22,211.17L1039.4,210.13L1041.58,209.14L1043.76,208.21L1045.94,207.33L1048.13,206.5L1050.31,205.72L1052.49,204.98L1054.67,204.26L1056.85,203.54L1059.03,202.84L1061.21,202.12L1063.4,201.39L1065.58,200.65L1067.76,199.89L1069.94,199.12L1072.12,198.32L1074.3,197.5L1076.48,196.66L1078.67,195.81L1080.85,194.94L1083.03,194.06L1085.21,193.19L1087.39,192.32L1089.57,191.46L1091.76,190.63L1093.94,189.86L1096.12,189.2L1098.3,188.69" fill="none" stroke="rgb(191,48,48)" stroke-width="6.0" stroke-linejoin="round"/>
<use href="#bg1" fill="rgb(213,232,193)" mask="url(#mB1)" style="mix-blend-mode:multiply"/>
<use href="#bg1" fill="rgb(207,213,163)" clip-path="url(#cC1)" style="mix-blend-mode:multiply"/>
<path d="M662,188.31L664.18,187.45L666.36,186.33L668.54,185.02L670.73,183.6L672.91,182.11L675.09,180.59L677.27,179.02L679.45,177.41L681.63,175.75L683.82,174.04L686,172.26L688.18,170.43L690.36,168.54L692.54,166.6L694.72,164.62L696.9,162.61L699.09,160.58L701.27,158.55L703.45,156.53L705.63,154.53L707.81,152.57L709.99,150.67L712.17,148.83L714.36,147.08L716.54,145.41L718.72,143.83L720.9,142.35L723.08,140.98L725.26,139.7L727.44,138.52L729.63,137.43L731.81,136.43L733.99,135.52L736.17,134.7L738.35,133.96L740.53,133.3L742.72,132.72L744.9,132.21L747.08,131.78L749.26,131.42L751.44,131.14L753.62,130.93L755.8,130.78L757.99,130.71L760.17,130.71L762.35,130.77L764.53,130.88L766.71,131.05L768.89,131.26L771.08,131.51L773.26,131.79L775.44,132.1L777.62,132.44L779.8,132.79L781.98,133.16L784.16,133.55L786.35,133.94L788.53,134.35L790.71,134.75L792.89,135.16L795.07,135.56L797.25,135.96L799.43,136.35L801.62,136.73L803.8,137.1L805.98,137.45L808.16,137.8L810.34,138.14L812.52,138.47L814.7,138.79L816.89,139.11L819.07,139.42L821.25,139.73L823.43,140.04L825.61,140.34L827.79,140.65L829.98,140.96L832.16,141.28L834.34,141.62L836.52,141.98L838.7,142.36L840.88,142.78L843.06,143.24L845.25,143.75L847.43,144.31L849.61,144.93L851.79,145.62L853.97,146.38L856.15,147.22L858.33,148.14L860.52,149.13L862.7,150.21L864.88,151.38L867.06,152.62L869.24,153.94L871.42,155.34L873.61,156.83L875.79,158.39L877.97,160.05L880.15,161.8L882.33,163.64L884.51,165.58L886.69,167.62L888.88,169.76L891.06,171.99L893.24,174.31L895.42,176.71L897.6,179.17L899.78,181.68L901.96,184.24L904.15,186.83L906.33,189.44L908.51,192.07L910.69,194.69L912.87,197.31L915.05,199.91L917.24,202.48L919.42,205.02L921.6,207.53L923.78,209.99L925.96,212.41L928.14,214.77L930.32,217.09L932.51,219.35L934.69,221.55L936.87,223.67L939.05,225.71L941.23,227.63L943.41,229.44L945.6,231.11L947.78,232.61L949.96,233.96L952.14,235.13L954.32,236.13L956.5,236.97L958.68,237.67L960.87,238.22L963.05,238.64L965.23,238.94L967.41,239.13L969.59,239.21L971.77,239.19L973.95,239.06L976.14,238.83L978.32,238.5L980.5,238.08L982.68,237.56L984.86,236.95L987.04,236.25L989.22,235.46L991.41,234.59L993.59,233.65L995.77,232.64L997.95,231.57L1000.13,230.44L1002.31,229.28L1004.5,228.1L1006.68,226.9L1008.86,225.71L1011.04,224.53L1013.22,223.37L1015.4,222.23L1017.58,221.11L1019.77,220L1021.95,218.9L1024.13,217.8L1026.31,216.69L1028.49,215.58L1030.67,214.46L1032.86,213.34L1035.04,212.24L1037.22,211.17L1039.4,210.13L1041.58,209.14L1043.76,208.21L1045.94,207.33L1048.13,206.5L1050.31,205.72L1052.49,204.98L1054.67,204.26L1056.85,203.54L1059.03,202.84L1061.21,202.12L1063.4,201.39L1065.58,200.65L1067.76,199.89L1069.94,199.12L1072.12,198.32L1074.3,197.5L1076.48,196.66L1078.67,195.81L1080.85,194.94L1083.03,194.06L1085.21,193.19L1087.39,192.32L1089.57,191.46L1091.76,190.63L1093.94,189.86L1096.12,189.2L1098.3,188.69" fill="none" stroke="rgb(191,48,48)" stroke-width="6.0" stroke-linejoin="round" stroke-opacity="0.5"/>
<path d="M662,201.66L664.18,200.85L666.36,199.78L668.54,198.52L670.73,197.14L672.91,195.68L675.09,194.14L677.27,192.52L679.45,190.81L681.63,189L683.82,187.08L686,185.04L688.18,182.87L690.36,180.59L692.54,178.18L694.72,175.68L696.9,173.09L699.09,170.44L701.27,167.74L703.45,165.03L705.63,162.31L707.81,159.62L709.99,156.97L712.17,154.39L714.36,151.89L716.54,149.48L718.72,147.19L720.9,145L723.08,142.93L725.26,140.98L727.44,139.13L729.63,137.38L731.81,135.74L733.99,134.2L736.17,132.74L738.35,131.38L740.53,130.09L742.72,128.89L744.9,127.77L747.08,126.72L749.26,125.74L751.44,124.84L753.62,124.01L755.8,123.25L757.99,122.56L760.17,121.94L762.35,121.39L764.53,120.91L766.71,120.51L768.89,120.17L771.08,119.89L773.26,119.69L775.44,119.55L777.62,119.46L779.8,119.44L781.98,119.47L784.16,119.54L786.35,119.66L788.53,119.82L790.71,120.01L792.89,120.23L795.07,120.48L797.25,120.75L799.43,121.04L801.62,121.34L803.8,121.65L805.98,121.97L808.16,122.29L810.34,122.63L812.52,122.96L814.7,123.3L816.89,123.63L819.07,123.96L821.25,124.29L823.43,124.62L825.61,124.94L827.79,125.26L829.98,125.58L832.16,125.92L834.34,126.27L836.52,126.67L838.7,127.11L840.88,127.62L843.06,128.21L845.25,128.9L847.43,129.7L849.61,130.62L851.79,131.69L853.97,132.9L856.15,134.26L858.33,135.78L860.52,137.45L862.7,139.25L864.88,141.17L867.06,143.19L869.24,145.31L871.42,147.51L873.61,149.8L875.79,152.16L877.97,154.61L880.15,157.12L882.33,159.72L884.51,162.38L886.69,165.11L888.88,167.88L891.06,170.69L893.24,173.51L895.42,176.34L897.6,179.16L899.78,181.96L901.96,184.72L904.15,187.47L906.33,190.18L908.51,192.87L910.69,195.55L912.87,198.22L915.05,200.88L917.24,203.53L919.42,206.17L921.6,208.81L923.78,211.43L925.96,214.03L928.14,216.61L930.32,219.14L932.51,221.63L934.69,224.04L936.87,226.36L939.05,228.57L941.23,230.63L943.41,232.54L945.6,234.25L947.78,235.78L949.96,237.12L952.14,238.27L954.32,239.26L956.5,240.11L958.68,240.83L960.87,241.45L963.05,241.99L965.23,242.46L967.41,242.85L969.59,243.18L971.77,243.44L973.95,243.61L976.14,243.7L978.32,243.68L980.5,243.57L982.68,243.36L984.86,243.05L987.04,242.68L989.22,242.24L991.41,241.76L993.59,241.26L995.77,240.75L997.95,240.23L1000.13,239.71L1002.31,239.18L1004.5,238.64L1006.68,238.08L1008.86,237.49L1011.04,236.86L1013.22,236.2L1015.4,235.49L1017.58,234.75L1019.77,233.98L1021.95,233.19L1024.13,232.38L1026.31,231.57L1028.49,230.75L1030.67,229.95L1032.86,229.16L1035.04,228.39L1037.22,227.64L1039.4,226.93L1041.58,226.25L1043.76,225.6L1045.94,224.99L1048.13,224.41L1050.31,223.86L1052.49,223.32L1054.67,222.79L1056.85,222.26L1059.03,221.73L1061.21,221.17L1063.4,220.59L1065.58,219.97L1067.76,219.31L1069.94,218.59L1072.12,217.82L1074.3,216.98L1076.48,216.08L1078.67,215.14L1080.85,214.16L1083.03,213.17L1085.21,212.18L1087.39,211.21L1089.57,210.28L1091.76,209.42L1093.94,208.65L1096.12,208.01L1098.3,207.52" fill="none" stroke="rgb(126,182,81)" stroke-width="6.0" stroke-linejoin="round"/>
</g>
<rect x="662" y="44.3" width="436.3" height="245.1" fill="none" stroke="#474c51" stroke-width="1.9" rx="0.8"/>
<path d="M662,289.4v-4.4M662,44.3v4.4M749.26,289.4v-4.4M749.26,44.3v4.4M836.52,289.4v-4.4M836.52,44.3v4.4M923.78,289.4v-4.4M923.78,44.3v4.4M1011.04,289.4v-4.4M1011.04,44.3v4.4M1098.3,289.4v-4.4M1098.3,44.3v4.4M662,253.6h4.4M1098.3,253.6h-4.4M662,183.7h4.4M1098.3,183.7h-4.4M662,113.8h4.4M1098.3,113.8h-4.4M662,43.9h4.4M1098.3,43.9h-4.4" stroke="#474c51" stroke-width="1.6" fill="none"/>
<text x="662" y="325.5" font-size="25.7" fill="#45494e" text-anchor="middle">0</text>
<text x="749.26" y="325.5" font-size="25.7" fill="#45494e" text-anchor="middle">20</text>
<text x="836.52" y="325.5" font-size="25.7" fill="#45494e" text-anchor="middle">40</text>
<text x="923.78" y="325.5" font-size="25.7" fill="#45494e" text-anchor="middle">60</text>
<text x="1011.04" y="325.5" font-size="25.7" fill="#45494e" text-anchor="middle">80</text>
<text x="1098.3" y="325.5" font-size="25.7" fill="#45494e" text-anchor="middle">100</text>
<text x="651.3" y="265.4" font-size="25.7" fill="#45494e" text-anchor="end">-5</text>
<text x="651.3" y="195.5" font-size="25.7" fill="#45494e" text-anchor="end">0</text>
<text x="651.3" y="125.6" font-size="25.7" fill="#45494e" text-anchor="end">5</text>
<text x="651.3" y="55.7" font-size="25.7" fill="#45494e" text-anchor="end">10</text>
<text x="880.15" y="365.5" font-size="31.25" fill="#45494e" text-anchor="middle">gait cycle</text>
<text transform="translate(610.1,166.85) rotate(-90)" font-size="31.25" fill="#45494e" text-anchor="middle">Degree</text>
<text x="880.15" y="30.4" font-size="37.1" fill="#161616" text-anchor="middle">Hip add/abd</text>
<clipPath id="c2"><rect x="1238.1" y="44.3" width="434.9" height="245.1"/></clipPath>
<g clip-path="url(#c2)">
<rect x="1238.1" y="44.3" width="434.9" height="245.1" fill="#fff"/>
<rect x="1265.93" y="44.3" width="113.51" height="245.1" fill="rgb(205,206,210)"/>
<rect x="1466.86" y="44.3" width="95.68" height="245.1" fill="rgb(205,206,210)"/>
<line x1="1238.1" y1="259.3" x2="1673" y2="259.3" stroke="#262626" stroke-opacity="0.15" stroke-width="1.1"/>
<line x1="1238.1" y1="197.3" x2="1673" y2="197.3" stroke="#262626" stroke-opacity="0.15" stroke-width="1.1"/>
<line x1="1238.1" y1="135.3" x2="1673" y2="135.3" stroke="#262626" stroke-opacity="0.15" stroke-width="1.1"/>
<line x1="1238.1" y1="73.3" x2="1673" y2="73.3" stroke="#262626" stroke-opacity="0.15" stroke-width="1.1"/>
<defs><path id="br2" d="M1238.1,142.89L1240.27,143.24L1242.45,143.46L1244.62,143.6L1246.8,143.69L1248.97,143.74L1251.15,143.76L1253.32,143.76L1255.5,143.72L1257.67,143.66L1259.84,143.57L1262.02,143.44L1264.19,143.28L1266.37,143.12L1268.54,142.99L1270.72,142.88L1272.89,142.76L1275.07,142.64L1277.24,142.49L1279.42,142.3L1281.59,142.06L1283.76,141.76L1285.94,141.39L1288.11,140.93L1290.29,140.36L1292.46,139.68L1294.64,138.99L1296.81,138.32L1298.99,137.69L1301.16,137.08L1303.34,136.5L1305.51,135.95L1307.68,135.42L1309.86,134.92L1312.03,134.44L1314.21,133.97L1316.38,133.53L1318.56,133.1L1320.73,132.68L1322.91,132.29L1325.08,131.9L1327.25,131.53L1329.43,131.17L1331.6,130.82L1333.78,130.49L1335.95,130.16L1338.13,129.85L1340.3,129.55L1342.48,129.27L1344.65,128.99L1346.82,128.73L1349,128.45L1351.17,128.14L1353.35,127.79L1355.52,127.43L1357.7,127.04L1359.87,126.64L1362.05,126.24L1364.22,125.84L1366.4,125.44L1368.57,125.05L1370.74,124.68L1372.92,124.33L1375.09,124.01L1377.27,123.73L1379.44,123.48L1381.62,123.25L1383.79,123.04L1385.97,122.85L1388.14,122.68L1390.32,122.54L1392.49,122.42L1394.66,122.32L1396.84,122.25L1399.01,122.2L1401.19,122.18L1403.36,122.19L1405.54,122.21L1407.71,122.24L1409.89,122.27L1412.06,122.32L1414.23,122.39L1416.41,122.49L1418.58,122.63L1420.76,122.82L1422.93,123.06L1425.11,123.36L1427.28,123.74L1429.46,124.2L1431.63,124.75L1433.8,125.4L1435.98,126.14L1438.15,126.94L1440.33,127.78L1442.5,128.67L1444.68,129.59L1446.85,130.53L1449.03,131.48L1451.2,132.43L1453.38,133.38L1455.55,134.3L1457.72,135.22L1459.9,136.13L1462.07,137.06L1464.25,138.01L1466.42,139.03L1468.6,140.11L1470.77,141.27L1472.95,142.51L1475.12,143.82L1477.3,145.17L1479.47,146.54L1481.64,147.91L1483.82,149.27L1485.99,150.61L1488.17,151.93L1490.34,153.23L1492.52,154.5L1494.69,155.76L1496.87,156.99L1499.04,158.22L1501.21,159.43L1503.39,160.62L1505.56,161.81L1507.74,162.97L1509.91,164.12L1512.09,165.25L1514.26,166.34L1516.44,167.41L1518.61,168.41L1520.78,169.34L1522.96,170.18L1525.13,170.91L1527.31,171.52L1529.48,172L1531.66,172.37L1533.83,172.61L1536.01,172.74L1538.18,172.76L1540.36,172.69L1542.53,172.55L1544.7,172.34L1546.88,172.08L1549.05,171.77L1551.23,171.42L1553.4,171.01L1555.58,170.57L1557.75,170.09L1559.93,169.57L1562.1,169.01L1564.28,168.41L1566.45,167.78L1568.62,167.12L1570.8,166.43L1572.97,165.73L1575.15,165.01L1577.32,164.29L1579.5,163.57L1581.67,162.87L1583.85,162.18L1586.02,161.52L1588.19,160.89L1590.37,160.29L1592.54,159.72L1594.72,159.2L1596.89,158.68L1599.07,158.13L1601.24,157.56L1603.42,156.98L1605.59,156.4L1607.76,155.81L1609.94,155.24L1612.11,154.68L1614.29,154.14L1616.46,153.62L1618.64,153.14L1620.81,152.69L1622.99,152.25L1625.16,151.77L1627.34,151.28L1629.51,150.76L1631.68,150.21L1633.86,149.65L1636.03,149.06L1638.21,148.47L1640.38,147.86L1642.56,147.26L1644.73,146.67L1646.91,146.09L1649.08,145.55L1651.26,145.04L1653.43,144.56L1655.6,144.07L1657.78,143.57L1659.95,143.07L1662.13,142.55L1664.3,142.03L1666.48,141.51L1668.65,141.01L1670.83,140.55L1673,140.18L1673,217.06L1670.83,217.11L1668.65,217.2L1666.48,217.29L1664.3,217.36L1662.13,217.39L1659.95,217.38L1657.78,217.32L1655.6,217.23L1653.43,217.11L1651.26,216.96L1649.08,216.77L1646.91,216.51L1644.73,216.2L1642.56,215.83L1640.38,215.42L1638.21,214.97L1636.03,214.48L1633.86,213.97L1631.68,213.44L1629.51,212.9L1627.34,212.37L1625.16,211.87L1622.99,211.4L1620.81,210.97L1618.64,210.57L1616.46,210.16L1614.29,209.77L1612.11,209.4L1609.94,209.07L1607.76,208.79L1605.59,208.57L1603.42,208.43L1601.24,208.37L1599.07,208.4L1596.89,208.54L1594.72,208.8L1592.54,209.14L1590.37,209.53L1588.19,209.96L1586.02,210.43L1583.85,210.94L1581.67,211.47L1579.5,212.03L1577.32,212.62L1575.15,213.21L1572.97,213.8L1570.8,214.4L1568.62,214.98L1566.45,215.54L1564.28,216.07L1562.1,216.58L1559.93,217.06L1557.75,217.51L1555.58,217.93L1553.4,218.32L1551.23,218.67L1549.05,218.99L1546.88,219.27L1544.7,219.5L1542.53,219.68L1540.36,219.81L1538.18,219.88L1536.01,219.9L1533.83,219.86L1531.66,219.77L1529.48,219.6L1527.31,219.34L1525.13,218.98L1522.96,218.52L1520.78,217.96L1518.61,217.3L1516.44,216.56L1514.26,215.74L1512.09,214.85L1509.91,213.91L1507.74,212.94L1505.56,211.95L1503.39,210.93L1501.21,209.9L1499.04,208.85L1496.87,207.79L1494.69,206.72L1492.52,205.64L1490.34,204.53L1488.17,203.42L1485.99,202.28L1483.82,201.14L1481.64,199.99L1479.47,198.85L1477.3,197.74L1475.12,196.69L1472.95,195.71L1470.77,194.81L1468.6,194L1466.42,193.29L1464.25,192.65L1462.07,192.07L1459.9,191.53L1457.72,190.99L1455.55,190.44L1453.38,189.86L1451.2,189.25L1449.03,188.6L1446.85,187.93L1444.68,187.24L1442.5,186.53L1440.33,185.82L1438.15,185.11L1435.98,184.39L1433.8,183.68L1431.63,182.97L1429.46,182.22L1427.28,181.47L1425.11,180.71L1422.93,179.95L1420.76,179.19L1418.58,178.45L1416.41,177.73L1414.23,177.03L1412.06,176.37L1409.89,175.75L1407.71,175.19L1405.54,174.7L1403.36,174.27L1401.19,173.91L1399.01,173.59L1396.84,173.32L1394.66,173.08L1392.49,172.88L1390.32,172.71L1388.14,172.56L1385.97,172.44L1383.79,172.33L1381.62,172.24L1379.44,172.16L1377.27,172.09L1375.09,172.02L1372.92,171.93L1370.74,171.84L1368.57,171.75L1366.4,171.67L1364.22,171.6L1362.05,171.54L1359.87,171.51L1357.7,171.51L1355.52,171.54L1353.35,171.61L1351.17,171.73L1349,171.9L1346.82,172.13L1344.65,172.39L1342.48,172.67L1340.3,172.95L1338.13,173.25L1335.95,173.56L1333.78,173.89L1331.6,174.22L1329.43,174.57L1327.25,174.93L1325.08,175.3L1322.91,175.69L1320.73,176.08L1318.56,176.5L1316.38,176.93L1314.21,177.37L1312.03,177.84L1309.86,178.32L1307.68,178.82L1305.51,179.35L1303.34,179.9L1301.16,180.48L1298.99,181.09L1296.81,181.72L1294.64,182.39L1292.46,183.08L1290.29,183.86L1288.11,184.8L1285.94,185.9L1283.76,187.12L1281.59,188.46L1279.42,189.88L1277.24,191.36L1275.07,192.88L1272.89,194.42L1270.72,195.96L1268.54,197.47L1266.37,198.93L1264.19,200.32L1262.02,201.67L1259.84,203L1257.67,204.33L1255.5,205.64L1253.32,206.95L1251.15,208.25L1248.97,209.54L1246.8,210.82L1244.62,212.09L1242.45,213.33L1240.27,214.49L1238.1,215.56Z"/><path id="bg2" d="M1238.1,164.43L1240.27,164.62L1242.45,164.84L1244.62,165.07L1246.8,165.29L1248.97,165.5L1251.15,165.69L1253.32,165.86L1255.5,166L1257.67,166.1L1259.84,166.17L1262.02,166.19L1264.19,166.18L1266.37,166.12L1268.54,166.02L1270.72,165.88L1272.89,165.7L1275.07,165.49L1277.24,165.24L1279.42,164.97L1281.59,164.67L1283.76,164.34L1285.94,163.99L1288.11,163.63L1290.29,163.25L1292.46,162.86L1294.64,162.45L1296.81,162.03L1298.99,161.6L1301.16,161.16L1303.34,160.72L1305.51,160.27L1307.68,159.82L1309.86,159.36L1312.03,158.91L1314.21,158.46L1316.38,158.01L1318.56,157.57L1320.73,157.14L1322.91,156.74L1325.08,156.37L1327.25,156.03L1329.43,155.7L1331.6,155.38L1333.78,155.06L1335.95,154.71L1338.13,154.33L1340.3,153.91L1342.48,153.44L1344.65,152.9L1346.82,152.28L1349,151.61L1351.17,150.92L1353.35,150.22L1355.52,149.5L1357.7,148.76L1359.87,148.02L1362.05,147.26L1364.22,146.49L1366.4,145.72L1368.57,144.95L1370.74,144.17L1372.92,143.4L1375.09,142.62L1377.27,141.85L1379.44,141.03L1381.62,140.11L1383.79,139.1L1385.97,138.05L1388.14,136.95L1390.32,135.85L1392.49,134.76L1394.66,133.71L1396.84,132.71L1399.01,131.78L1401.19,130.95L1403.36,130.24L1405.54,129.61L1407.71,129.01L1409.89,128.45L1412.06,127.94L1414.23,127.5L1416.41,127.13L1418.58,126.83L1420.76,126.62L1422.93,126.49L1425.11,126.46L1427.28,126.52L1429.46,126.69L1431.63,126.96L1433.8,127.35L1435.98,127.86L1438.15,128.5L1440.33,129.26L1442.5,130.15L1444.68,131.16L1446.85,132.27L1449.03,133.48L1451.2,134.73L1453.38,136L1455.55,137.25L1457.72,138.47L1459.9,139.67L1462.07,140.85L1464.25,142.03L1466.42,143.22L1468.6,144.43L1470.77,145.68L1472.95,146.97L1475.12,148.29L1477.3,149.63L1479.47,150.99L1481.64,152.35L1483.82,153.73L1485.99,155.13L1488.17,156.56L1490.34,158L1492.52,159.46L1494.69,160.92L1496.87,162.39L1499.04,163.84L1501.21,165.27L1503.39,166.66L1505.56,167.98L1507.74,169.21L1509.91,170.32L1512.09,171.3L1514.26,172.15L1516.44,172.91L1518.61,173.56L1520.78,174.11L1522.96,174.55L1525.13,174.91L1527.31,175.17L1529.48,175.34L1531.66,175.44L1533.83,175.48L1536.01,175.46L1538.18,175.38L1540.36,175.27L1542.53,175.1L1544.7,174.89L1546.88,174.63L1549.05,174.32L1551.23,173.96L1553.4,173.55L1555.58,173.09L1557.75,172.57L1559.93,172L1562.1,171.37L1564.28,170.7L1566.45,169.97L1568.62,169.2L1570.8,168.4L1572.97,167.56L1575.15,166.7L1577.32,165.83L1579.5,164.98L1581.67,164.14L1583.85,163.33L1586.02,162.56L1588.19,161.82L1590.37,161.11L1592.54,160.44L1594.72,159.81L1596.89,159.18L1599.07,158.53L1601.24,157.87L1603.42,157.21L1605.59,156.56L1607.76,155.93L1609.94,155.32L1612.11,154.75L1614.29,154.22L1616.46,153.75L1618.64,153.35L1620.81,153.03L1622.99,152.76L1625.16,152.52L1627.34,152.3L1629.51,152.11L1631.68,151.94L1633.86,151.8L1636.03,151.69L1638.21,151.6L1640.38,151.53L1642.56,151.5L1644.73,151.5L1646.91,151.53L1649.08,151.6L1651.26,151.71L1653.43,151.85L1655.6,151.99L1657.78,152.13L1659.95,152.28L1662.13,152.43L1664.3,152.58L1666.48,152.74L1668.65,152.88L1670.83,153.02L1673,153.13L1673,232.49L1670.83,232.36L1668.65,232.19L1666.48,231.98L1664.3,231.75L1662.13,231.49L1659.95,231.23L1657.78,230.95L1655.6,230.67L1653.43,230.38L1651.26,230.08L1649.08,229.76L1646.91,229.4L1644.73,229.01L1642.56,228.58L1640.38,228.12L1638.21,227.64L1636.03,227.14L1633.86,226.63L1631.68,226.11L1629.51,225.6L1627.34,225.09L1625.16,224.6L1622.99,224.14L1620.81,223.71L1618.64,223.28L1616.46,222.82L1614.29,222.36L1612.11,221.89L1609.94,221.43L1607.76,220.98L1605.59,220.57L1603.42,220.19L1601.24,219.87L1599.07,219.6L1596.89,219.42L1594.72,219.33L1592.54,219.31L1590.37,219.34L1588.19,219.42L1586.02,219.56L1583.85,219.76L1581.67,220.02L1579.5,220.34L1577.32,220.71L1575.15,221.13L1572.97,221.57L1570.8,222.04L1568.62,222.52L1566.45,223L1564.28,223.45L1562.1,223.87L1559.93,224.26L1557.75,224.61L1555.58,224.91L1553.4,225.18L1551.23,225.4L1549.05,225.57L1546.88,225.7L1544.7,225.78L1542.53,225.81L1540.36,225.79L1538.18,225.73L1536.01,225.61L1533.83,225.42L1531.66,225.17L1529.48,224.84L1527.31,224.45L1525.13,223.98L1522.96,223.43L1520.78,222.81L1518.61,222.12L1516.44,221.36L1514.26,220.54L1512.09,219.66L1509.91,218.76L1507.74,217.87L1505.56,216.99L1503.39,216.12L1501.21,215.28L1499.04,214.46L1496.87,213.68L1494.69,212.92L1492.52,212.19L1490.34,211.46L1488.17,210.74L1485.99,209.99L1483.82,209.21L1481.64,208.4L1479.47,207.56L1477.3,206.72L1475.12,205.89L1472.95,205.09L1470.77,204.31L1468.6,203.57L1466.42,202.85L1464.25,202.15L1462.07,201.46L1459.9,200.75L1457.72,200.02L1455.55,199.25L1453.38,198.48L1451.2,197.72L1449.03,197L1446.85,196.34L1444.68,195.75L1442.5,195.23L1440.33,194.8L1438.15,194.41L1435.98,194.07L1433.8,193.75L1431.63,193.43L1429.46,193.09L1427.28,192.74L1425.11,192.39L1422.93,192.04L1420.76,191.7L1418.58,191.38L1416.41,191.1L1414.23,190.84L1412.06,190.63L1409.89,190.46L1407.71,190.34L1405.54,190.27L1403.36,190.26L1401.19,190.24L1399.01,190.19L1396.84,190.12L1394.66,190.04L1392.49,189.98L1390.32,189.96L1388.14,189.98L1385.97,190.07L1383.79,190.25L1381.62,190.53L1379.44,190.93L1377.27,191.45L1375.09,192.06L1372.92,192.69L1370.74,193.32L1368.57,193.97L1366.4,194.62L1364.22,195.28L1362.05,195.95L1359.87,196.62L1357.7,197.3L1355.52,197.97L1353.35,198.64L1351.17,199.31L1349,199.98L1346.82,200.64L1344.65,201.33L1342.48,202.07L1340.3,202.85L1338.13,203.67L1335.95,204.51L1333.78,205.36L1331.6,206.22L1329.43,207.07L1327.25,207.9L1325.08,208.71L1322.91,209.49L1320.73,210.21L1318.56,210.91L1316.38,211.59L1314.21,212.26L1312.03,212.93L1309.86,213.58L1307.68,214.23L1305.51,214.87L1303.34,215.5L1301.16,216.13L1298.99,216.75L1296.81,217.38L1294.64,218L1292.46,218.61L1290.29,219.22L1288.11,219.83L1285.94,220.42L1283.76,221L1281.59,221.56L1279.42,222.1L1277.24,222.61L1275.07,223.09L1272.89,223.54L1270.72,223.96L1268.54,224.33L1266.37,224.67L1264.19,224.96L1262.02,225.2L1259.84,225.4L1257.67,225.56L1255.5,225.69L1253.32,225.78L1251.15,225.84L1248.97,225.88L1246.8,225.89L1244.62,225.9L1242.45,225.9L1240.27,225.9L1238.1,225.93Z"/>
<mask id="mA2" maskUnits="userSpaceOnUse" x="0" y="0" width="1698" height="1145"><use href="#br2" fill="#fff"/><use href="#bg2" fill="#000"/></mask>
<mask id="mB2" maskUnits="userSpaceOnUse" x="0" y="0" width="1698" height="1145"><use href="#bg2" fill="#fff"/><use href="#br2" fill="#000"/></mask>
<clipPath id="cC2"><use href="#br2"/></clipPath></defs>
<use href="#br2" fill="rgb(232,200,200)" mask="url(#mA2)" style="mix-blend-mode:multiply"/>
<path d="M1238.1,179.22L1240.27,178.86L1242.45,178.39L1244.62,177.85L1246.8,177.26L1248.97,176.64L1251.15,176L1253.32,175.35L1255.5,174.68L1257.67,174L1259.84,173.29L1262.02,172.56L1264.19,171.8L1266.37,171.03L1268.54,170.23L1270.72,169.42L1272.89,168.59L1275.07,167.76L1277.24,166.92L1279.42,166.09L1281.59,165.26L1283.76,164.44L1285.94,163.64L1288.11,162.86L1290.29,162.11L1292.46,161.38L1294.64,160.69L1296.81,160.02L1298.99,159.39L1301.16,158.78L1303.34,158.2L1305.51,157.65L1307.68,157.12L1309.86,156.62L1312.03,156.14L1314.21,155.67L1316.38,155.23L1318.56,154.8L1320.73,154.38L1322.91,153.99L1325.08,153.6L1327.25,153.23L1329.43,152.87L1331.6,152.52L1333.78,152.19L1335.95,151.86L1338.13,151.55L1340.3,151.25L1342.48,150.97L1344.65,150.69L1346.82,150.43L1349,150.18L1351.17,149.93L1353.35,149.7L1355.52,149.48L1357.7,149.28L1359.87,149.08L1362.05,148.89L1364.22,148.72L1366.4,148.55L1368.57,148.4L1370.74,148.26L1372.92,148.13L1375.09,148.02L1377.27,147.91L1379.44,147.82L1381.62,147.75L1383.79,147.69L1385.97,147.65L1388.14,147.62L1390.32,147.63L1392.49,147.65L1394.66,147.7L1396.84,147.78L1399.01,147.9L1401.19,148.05L1403.36,148.23L1405.54,148.46L1407.71,148.72L1409.89,149.01L1412.06,149.34L1414.23,149.71L1416.41,150.11L1418.58,150.54L1420.76,151L1422.93,151.5L1425.11,152.03L1427.28,152.6L1429.46,153.21L1431.63,153.86L1433.8,154.54L1435.98,155.27L1438.15,156.02L1440.33,156.8L1442.5,157.6L1444.68,158.41L1446.85,159.23L1449.03,160.04L1451.2,160.84L1453.38,161.62L1455.55,162.37L1457.72,163.1L1459.9,163.83L1462.07,164.56L1464.25,165.33L1466.42,166.16L1468.6,167.06L1470.77,168.04L1472.95,169.11L1475.12,170.25L1477.3,171.46L1479.47,172.69L1481.64,173.95L1483.82,175.2L1485.99,176.45L1488.17,177.67L1490.34,178.88L1492.52,180.07L1494.69,181.24L1496.87,182.39L1499.04,183.54L1501.21,184.66L1503.39,185.78L1505.56,186.88L1507.74,187.96L1509.91,189.02L1512.09,190.05L1514.26,191.04L1516.44,191.98L1518.61,192.86L1520.78,193.65L1522.96,194.35L1525.13,194.94L1527.31,195.43L1529.48,195.8L1531.66,196.07L1533.83,196.24L1536.01,196.32L1538.18,196.32L1540.36,196.25L1542.53,196.11L1544.7,195.92L1546.88,195.68L1549.05,195.38L1551.23,195.04L1553.4,194.67L1555.58,194.25L1557.75,193.8L1559.93,193.31L1562.1,192.79L1564.28,192.24L1566.45,191.66L1568.62,191.05L1570.8,190.41L1572.97,189.77L1575.15,189.11L1577.32,188.45L1579.5,187.8L1581.67,187.17L1583.85,186.56L1586.02,185.97L1588.19,185.42L1590.37,184.91L1592.54,184.43L1594.72,184L1596.89,183.61L1599.07,183.27L1601.24,182.96L1603.42,182.7L1605.59,182.49L1607.76,182.3L1609.94,182.16L1612.11,182.04L1614.29,181.95L1616.46,181.89L1618.64,181.85L1620.81,181.83L1622.99,181.82L1625.16,181.82L1627.34,181.83L1629.51,181.83L1631.68,181.82L1633.86,181.81L1636.03,181.77L1638.21,181.72L1640.38,181.64L1642.56,181.55L1644.73,181.43L1646.91,181.3L1649.08,181.16L1651.26,181L1653.43,180.83L1655.6,180.65L1657.78,180.45L1659.95,180.22L1662.13,179.97L1664.3,179.69L1666.48,179.4L1668.65,179.1L1670.83,178.83L1673,178.62" fill="none" stroke="rgb(191,48,48)" stroke-width="6.0" stroke-linejoin="round"/>
<use href="#bg2" fill="rgb(213,232,193)" mask="url(#mB2)" style="mix-blend-mode:multiply"/>
<use href="#bg2" fill="rgb(207,213,163)" clip-path="url(#cC2)" style="mix-blend-mode:multiply"/>
<path d="M1238.1,179.22L1240.27,178.86L1242.45,178.39L1244.62,177.85L1246.8,177.26L1248.97,176.64L1251.15,176L1253.32,175.35L1255.5,174.68L1257.67,174L1259.84,173.29L1262.02,172.56L1264.19,171.8L1266.37,171.03L1268.54,170.23L1270.72,169.42L1272.89,168.59L1275.07,167.76L1277.24,166.92L1279.42,166.09L1281.59,165.26L1283.76,164.44L1285.94,163.64L1288.11,162.86L1290.29,162.11L1292.46,161.38L1294.64,160.69L1296.81,160.02L1298.99,159.39L1301.16,158.78L1303.34,158.2L1305.51,157.65L1307.68,157.12L1309.86,156.62L1312.03,156.14L1314.21,155.67L1316.38,155.23L1318.56,154.8L1320.73,154.38L1322.91,153.99L1325.08,153.6L1327.25,153.23L1329.43,152.87L1331.6,152.52L1333.78,152.19L1335.95,151.86L1338.13,151.55L1340.3,151.25L1342.48,150.97L1344.65,150.69L1346.82,150.43L1349,150.18L1351.17,149.93L1353.35,149.7L1355.52,149.48L1357.7,149.28L1359.87,149.08L1362.05,148.89L1364.22,148.72L1366.4,148.55L1368.57,148.4L1370.74,148.26L1372.92,148.13L1375.09,148.02L1377.27,147.91L1379.44,147.82L1381.62,147.75L1383.79,147.69L1385.97,147.65L1388.14,147.62L1390.32,147.63L1392.49,147.65L1394.66,147.7L1396.84,147.78L1399.01,147.9L1401.19,148.05L1403.36,148.23L1405.54,148.46L1407.71,148.72L1409.89,149.01L1412.06,149.34L1414.23,149.71L1416.41,150.11L1418.58,150.54L1420.76,151L1422.93,151.5L1425.11,152.03L1427.28,152.6L1429.46,153.21L1431.63,153.86L1433.8,154.54L1435.98,155.27L1438.15,156.02L1440.33,156.8L1442.5,157.6L1444.68,158.41L1446.85,159.23L1449.03,160.04L1451.2,160.84L1453.38,161.62L1455.55,162.37L1457.72,163.1L1459.9,163.83L1462.07,164.56L1464.25,165.33L1466.42,166.16L1468.6,167.06L1470.77,168.04L1472.95,169.11L1475.12,170.25L1477.3,171.46L1479.47,172.69L1481.64,173.95L1483.82,175.2L1485.99,176.45L1488.17,177.67L1490.34,178.88L1492.52,180.07L1494.69,181.24L1496.87,182.39L1499.04,183.54L1501.21,184.66L1503.39,185.78L1505.56,186.88L1507.74,187.96L1509.91,189.02L1512.09,190.05L1514.26,191.04L1516.44,191.98L1518.61,192.86L1520.78,193.65L1522.96,194.35L1525.13,194.94L1527.31,195.43L1529.48,195.8L1531.66,196.07L1533.83,196.24L1536.01,196.32L1538.18,196.32L1540.36,196.25L1542.53,196.11L1544.7,195.92L1546.88,195.68L1549.05,195.38L1551.23,195.04L1553.4,194.67L1555.58,194.25L1557.75,193.8L1559.93,193.31L1562.1,192.79L1564.28,192.24L1566.45,191.66L1568.62,191.05L1570.8,190.41L1572.97,189.77L1575.15,189.11L1577.32,188.45L1579.5,187.8L1581.67,187.17L1583.85,186.56L1586.02,185.97L1588.19,185.42L1590.37,184.91L1592.54,184.43L1594.72,184L1596.89,183.61L1599.07,183.27L1601.24,182.96L1603.42,182.7L1605.59,182.49L1607.76,182.3L1609.94,182.16L1612.11,182.04L1614.29,181.95L1616.46,181.89L1618.64,181.85L1620.81,181.83L1622.99,181.82L1625.16,181.82L1627.34,181.83L1629.51,181.83L1631.68,181.82L1633.86,181.81L1636.03,181.77L1638.21,181.72L1640.38,181.64L1642.56,181.55L1644.73,181.43L1646.91,181.3L1649.08,181.16L1651.26,181L1653.43,180.83L1655.6,180.65L1657.78,180.45L1659.95,180.22L1662.13,179.97L1664.3,179.69L1666.48,179.4L1668.65,179.1L1670.83,178.83L1673,178.62" fill="none" stroke="rgb(191,48,48)" stroke-width="6.0" stroke-linejoin="round" stroke-opacity="0.5"/>
<path d="M1238.1,195.18L1240.27,195.26L1242.45,195.37L1244.62,195.48L1246.8,195.59L1248.97,195.69L1251.15,195.77L1253.32,195.82L1255.5,195.84L1257.67,195.83L1259.84,195.79L1262.02,195.7L1264.19,195.57L1266.37,195.39L1268.54,195.18L1270.72,194.92L1272.89,194.62L1275.07,194.29L1277.24,193.93L1279.42,193.53L1281.59,193.11L1283.76,192.67L1285.94,192.21L1288.11,191.73L1290.29,191.24L1292.46,190.73L1294.64,190.22L1296.81,189.7L1298.99,189.18L1301.16,188.65L1303.34,188.11L1305.51,187.57L1307.68,187.02L1309.86,186.47L1312.03,185.92L1314.21,185.36L1316.38,184.8L1318.56,184.24L1320.73,183.68L1322.91,183.11L1325.08,182.54L1327.25,181.97L1329.43,181.39L1331.6,180.8L1333.78,180.21L1335.95,179.61L1338.13,179L1340.3,178.38L1342.48,177.75L1344.65,177.11L1346.82,176.46L1349,175.79L1351.17,175.12L1353.35,174.43L1355.52,173.73L1357.7,173.03L1359.87,172.32L1362.05,171.61L1364.22,170.89L1366.4,170.17L1368.57,169.46L1370.74,168.75L1372.92,168.04L1375.09,167.34L1377.27,166.65L1379.44,165.98L1381.62,165.32L1383.79,164.68L1385.97,164.06L1388.14,163.47L1390.32,162.91L1392.49,162.37L1394.66,161.88L1396.84,161.41L1399.01,160.99L1401.19,160.6L1403.36,160.25L1405.54,159.94L1407.71,159.67L1409.89,159.46L1412.06,159.29L1414.23,159.17L1416.41,159.11L1418.58,159.11L1420.76,159.16L1422.93,159.26L1425.11,159.42L1427.28,159.63L1429.46,159.89L1431.63,160.19L1433.8,160.55L1435.98,160.97L1438.15,161.46L1440.33,162.03L1442.5,162.69L1444.68,163.45L1446.85,164.31L1449.03,165.24L1451.2,166.23L1453.38,167.24L1455.55,168.25L1457.72,169.24L1459.9,170.21L1462.07,171.15L1464.25,172.09L1466.42,173.03L1468.6,174L1470.77,175L1472.95,176.03L1475.12,177.09L1477.3,178.18L1479.47,179.27L1481.64,180.37L1483.82,181.47L1485.99,182.56L1488.17,183.65L1490.34,184.73L1492.52,185.82L1494.69,186.92L1496.87,188.03L1499.04,189.15L1501.21,190.28L1503.39,191.39L1505.56,192.48L1507.74,193.54L1509.91,194.54L1512.09,195.48L1514.26,196.35L1516.44,197.13L1518.61,197.84L1520.78,198.46L1522.96,198.99L1525.13,199.44L1527.31,199.81L1529.48,200.09L1531.66,200.3L1533.83,200.45L1536.01,200.53L1538.18,200.56L1540.36,200.53L1542.53,200.46L1544.7,200.33L1546.88,200.16L1549.05,199.95L1551.23,199.68L1553.4,199.37L1555.58,199L1557.75,198.59L1559.93,198.13L1562.1,197.62L1564.28,197.07L1566.45,196.48L1568.62,195.86L1570.8,195.22L1572.97,194.57L1575.15,193.91L1577.32,193.27L1579.5,192.66L1581.67,192.08L1583.85,191.55L1586.02,191.06L1588.19,190.62L1590.37,190.23L1592.54,189.88L1594.72,189.57L1596.89,189.3L1599.07,189.07L1601.24,188.87L1603.42,188.7L1605.59,188.57L1607.76,188.46L1609.94,188.38L1612.11,188.32L1614.29,188.29L1616.46,188.29L1618.64,188.31L1620.81,188.37L1622.99,188.45L1625.16,188.56L1627.34,188.7L1629.51,188.85L1631.68,189.03L1633.86,189.22L1636.03,189.41L1638.21,189.62L1640.38,189.83L1642.56,190.04L1644.73,190.25L1646.91,190.47L1649.08,190.68L1651.26,190.9L1653.43,191.11L1655.6,191.33L1657.78,191.54L1659.95,191.75L1662.13,191.96L1664.3,192.16L1666.48,192.36L1668.65,192.54L1670.83,192.69L1673,192.81" fill="none" stroke="rgb(126,182,81)" stroke-width="6.0" stroke-linejoin="round"/>
</g>
<rect x="1238.1" y="44.3" width="434.9" height="245.1" fill="none" stroke="#474c51" stroke-width="1.9" rx="0.8"/>
<path d="M1238.1,289.4v-4.4M1238.1,44.3v4.4M1325.08,289.4v-4.4M1325.08,44.3v4.4M1412.06,289.4v-4.4M1412.06,44.3v4.4M1499.04,289.4v-4.4M1499.04,44.3v4.4M1586.02,289.4v-4.4M1586.02,44.3v4.4M1673,289.4v-4.4M1673,44.3v4.4M1238.1,259.3h4.4M1673,259.3h-4.4M1238.1,197.3h4.4M1673,197.3h-4.4M1238.1,135.3h4.4M1673,135.3h-4.4M1238.1,73.3h4.4M1673,73.3h-4.4" stroke="#474c51" stroke-width="1.6" fill="none"/>
<text x="1238.1" y="325.5" font-size="25.7" fill="#45494e" text-anchor="middle">0</text>
<text x="1325.08" y="325.5" font-size="25.7" fill="#45494e" text-anchor="middle">20</text>
<text x="1412.06" y="325.5" font-size="25.7" fill="#45494e" text-anchor="middle">40</text>
<text x="1499.04" y="325.5" font-size="25.7" fill="#45494e" text-anchor="middle">60</text>
<text x="1586.02" y="325.5" font-size="25.7" fill="#45494e" text-anchor="middle">80</text>
<text x="1673" y="325.5" font-size="25.7" fill="#45494e" text-anchor="middle">100</text>
<text x="1227.4" y="271.1" font-size="25.7" fill="#45494e" text-anchor="end">-10</text>
<text x="1227.4" y="209.1" font-size="25.7" fill="#45494e" text-anchor="end">-5</text>
<text x="1227.4" y="147.1" font-size="25.7" fill="#45494e" text-anchor="end">0</text>
<text x="1227.4" y="85.1" font-size="25.7" fill="#45494e" text-anchor="end">5</text>
<text x="1455.55" y="365.5" font-size="31.25" fill="#45494e" text-anchor="middle">gait cycle</text>
<text transform="translate(1178.4,166.85) rotate(-90)" font-size="31.25" fill="#45494e" text-anchor="middle">Degree</text>
<text x="1455.55" y="30.4" font-size="37.1" fill="#161616" text-anchor="middle">Hip int/extra</text>
<clipPath id="c3"><rect x="87" y="429.3" width="435" height="243.9"/></clipPath>
<g clip-path="url(#c3)">
<rect x="87" y="429.3" width="435" height="243.9" fill="#fff"/>
<rect x="250.12" y="429.3" width="51.76" height="243.9" fill="rgb(205,206,210)"/>
<line x1="87" y1="644.6" x2="522" y2="644.6" stroke="#262626" stroke-opacity="0.15" stroke-width="1.1"/>
<line x1="87" y1="587.07" x2="522" y2="587.07" stroke="#262626" stroke-opacity="0.15" stroke-width="1.1"/>
<line x1="87" y1="529.53" x2="522" y2="529.53" stroke="#262626" stroke-opacity="0.15" stroke-width="1.1"/>
<line x1="87" y1="472" x2="522" y2="472" stroke="#262626" stroke-opacity="0.15" stroke-width="1.1"/>
<defs><path id="br3" d="M87,621.01L89.17,621.31L91.35,621.63L93.53,621.96L95.7,622.27L97.88,622.52L100.05,622.71L102.22,622.83L104.4,622.87L106.58,622.83L108.75,622.72L110.92,622.5L113.1,622.17L115.28,621.74L117.45,621.21L119.62,620.6L121.8,619.92L123.97,619.19L126.15,618.41L128.32,617.59L130.5,616.73L132.68,615.86L134.85,614.96L137.03,614.06L139.2,613.17L141.38,612.28L143.55,611.38L145.72,610.51L147.9,609.7L150.07,608.96L152.25,608.3L154.43,607.75L156.6,607.3L158.78,606.94L160.95,606.68L163.12,606.51L165.3,606.43L167.47,606.43L169.65,606.48L171.82,606.58L174,606.74L176.18,606.97L178.35,607.26L180.53,607.62L182.7,608.05L184.88,608.55L187.05,609.11L189.22,609.73L191.4,610.4L193.57,611.16L195.75,612.04L197.93,613.01L200.1,614.04L202.28,615.11L204.45,616.2L206.62,617.29L208.8,618.37L210.97,619.41L213.15,620.41L215.32,621.34L217.5,622.2L219.68,622.99L221.85,623.77L224.03,624.51L226.2,625.19L228.38,625.83L230.55,626.39L232.72,626.89L234.9,627.32L237.07,627.67L239.25,627.95L241.43,628.16L243.6,628.28L245.78,628.32L247.95,628.31L250.12,628.23L252.3,628.09L254.47,627.86L256.65,627.57L258.82,627.19L261,626.75L263.18,626.25L265.35,625.67L267.52,625.04L269.7,624.33L271.88,623.54L274.05,622.64L276.23,621.62L278.4,620.48L280.57,619.22L282.75,617.84L284.93,616.35L287.1,614.76L289.27,613.06L291.45,611.27L293.62,609.35L295.8,607.26L297.98,604.99L300.15,602.55L302.32,599.91L304.5,597.09L306.68,593.99L308.85,590.58L311.02,586.97L313.2,583.25L315.38,579.54L317.55,575.94L319.73,572.38L321.9,568.73L324.07,565.01L326.25,561.24L328.43,557.44L330.6,553.64L332.77,549.87L334.95,546.13L337.12,542.46L339.3,538.86L341.48,535.33L343.65,531.9L345.82,528.52L348,525.18L350.18,521.84L352.35,518.48L354.52,515.09L356.7,511.64L358.88,508.15L361.05,504.63L363.23,501.12L365.4,497.68L367.57,494.33L369.75,491.1L371.93,488.01L374.1,485.07L376.27,482.29L378.45,479.67L380.62,477.19L382.8,474.85L384.98,472.68L387.15,470.67L389.32,468.83L391.5,467.17L393.68,465.66L395.85,464.33L398.02,463.17L400.2,462.2L402.38,461.44L404.55,460.89L406.73,460.59L408.9,460.54L411.07,460.71L413.25,461.13L415.43,461.8L417.6,462.75L419.77,463.99L421.95,465.5L424.12,467.29L426.3,469.35L428.48,471.57L430.65,473.88L432.82,476.28L435,478.79L437.18,481.43L439.35,484.22L441.52,487.19L443.7,490.37L445.88,493.79L448.05,497.38L450.23,501.08L452.4,504.86L454.57,508.73L456.75,512.69L458.93,516.73L461.1,520.86L463.27,525.09L465.45,529.45L467.62,533.9L469.8,538.43L471.98,543.02L474.15,547.63L476.32,552.23L478.5,556.8L480.68,561.38L482.85,565.93L485.02,570.4L487.2,574.73L489.38,578.9L491.55,582.88L493.73,586.67L495.9,590.3L498.07,593.74L500.25,596.97L502.43,599.98L504.6,602.79L506.77,605.41L508.95,607.89L511.12,610.23L513.3,612.44L515.48,614.48L517.65,616.31L519.83,617.86L522,619.09L522,634.05L519.83,633.55L517.65,632.75L515.48,631.68L513.3,630.41L511.12,628.99L508.95,627.45L506.77,625.79L504.6,624L502.43,622.04L500.25,619.88L498.07,617.52L495.9,614.97L493.73,612.24L491.55,609.35L489.38,606.35L487.2,603.24L485.02,600L482.85,596.59L480.68,592.99L478.5,589.21L476.32,585.25L474.15,581.21L471.98,577.13L469.8,573.04L467.62,568.94L465.45,564.82L463.27,560.69L461.1,556.53L458.93,552.37L456.75,548.24L454.57,544.15L452.4,540.1L450.23,536.1L448.05,532.17L445.88,528.31L443.7,524.44L441.52,520.52L439.35,516.59L437.18,512.69L435,508.85L432.82,505.14L430.65,501.59L428.48,498.27L426.3,495.24L424.12,492.47L421.95,489.95L419.77,487.71L417.6,485.8L415.43,484.23L413.25,483.05L411.07,482.25L408.9,481.87L406.73,481.89L404.55,482.25L402.38,482.92L400.2,483.87L398.02,485.07L395.85,486.5L393.68,488.14L391.5,489.96L389.32,491.97L387.15,494.15L384.98,496.5L382.8,499.02L380.62,501.71L378.45,504.6L376.27,507.68L374.1,510.95L371.93,514.4L369.75,518L367.57,521.73L365.4,525.57L363.23,529.47L361.05,533.4L358.88,537.34L356.7,541.27L354.52,545.18L352.35,549.03L350.18,552.83L348,556.56L345.82,560.24L343.65,563.88L341.48,567.49L339.3,571.07L337.12,574.65L334.95,578.25L332.77,581.85L330.6,585.45L328.43,589.03L326.25,592.56L324.07,596.03L321.9,599.42L319.73,602.7L317.55,605.85L315.38,608.72L313.2,611.21L311.02,613.38L308.85,615.34L306.68,617.17L304.5,618.95L302.32,620.66L300.15,622.21L297.98,623.62L295.8,624.93L293.62,626.18L291.45,627.38L289.27,628.54L287.1,629.62L284.93,630.63L282.75,631.57L280.57,632.43L278.4,633.23L276.23,633.96L274.05,634.63L271.88,635.25L269.7,635.84L267.52,636.38L265.35,636.87L263.18,637.3L261,637.67L258.82,637.99L256.65,638.25L254.47,638.45L252.3,638.6L250.12,638.68L247.95,638.71L245.78,638.69L243.6,638.63L241.43,638.56L239.25,638.48L237.07,638.41L234.9,638.32L232.72,638.22L230.55,638.09L228.38,637.93L226.2,637.74L224.03,637.5L221.85,637.23L219.68,636.92L217.5,636.58L215.32,636.25L213.15,635.96L210.97,635.71L208.8,635.48L206.62,635.26L204.45,635.03L202.28,634.78L200.1,634.49L197.93,634.16L195.75,633.77L193.57,633.34L191.4,632.84L189.22,632.33L187.05,631.86L184.88,631.45L182.7,631.08L180.53,630.77L178.35,630.52L176.18,630.33L174,630.18L171.82,630.08L169.65,630.03L167.47,630.01L165.3,630.02L163.12,630.03L160.95,630.03L158.78,630.01L156.6,630.01L154.43,630.04L152.25,630.12L150.07,630.28L147.9,630.51L145.72,630.82L143.55,631.2L141.38,631.65L139.2,632.16L137.03,632.68L134.85,633.17L132.68,633.64L130.5,634.08L128.32,634.5L126.15,634.89L123.97,635.25L121.8,635.6L119.62,635.92L117.45,636.22L115.28,636.49L113.1,636.73L110.92,636.93L108.75,637.1L106.58,637.22L104.4,637.26L102.22,637.23L100.05,637.13L97.88,636.98L95.7,636.77L93.53,636.54L91.35,636.31L89.17,636.11L87,635.97Z"/><path id="bg3" d="M87,615L89.17,615.35L91.35,615.72L93.53,616.09L95.7,616.42L97.88,616.68L100.05,616.84L102.22,616.9L104.4,616.87L106.58,616.74L108.75,616.52L110.92,616.21L113.1,615.82L115.28,615.33L117.45,614.77L119.62,614.13L121.8,613.42L123.97,612.66L126.15,611.85L128.32,611.01L130.5,610.15L132.68,609.28L134.85,608.41L137.03,607.55L139.2,606.73L141.38,605.93L143.55,605.17L145.72,604.46L147.9,603.79L150.07,603.18L152.25,602.63L154.43,602.15L156.6,601.74L158.78,601.39L160.95,601.11L163.12,600.9L165.3,600.75L167.47,600.67L169.65,600.66L171.82,600.71L174,600.82L176.18,601.01L178.35,601.27L180.53,601.6L182.7,602.01L184.88,602.49L187.05,603.04L189.22,603.66L191.4,604.35L193.57,605.1L195.75,605.89L197.93,606.72L200.1,607.57L202.28,608.42L204.45,609.28L206.62,610.13L208.8,610.96L210.97,611.78L213.15,612.58L215.32,613.38L217.5,614.2L219.68,615.03L221.85,615.86L224.03,616.67L226.2,617.46L228.38,618.21L230.55,618.93L232.72,619.59L234.9,620.21L237.07,620.78L239.25,621.29L241.43,621.77L243.6,622.22L245.78,622.65L247.95,623.02L250.12,623.32L252.3,623.54L254.47,623.66L256.65,623.67L258.82,623.56L261,623.34L263.18,623.01L265.35,622.57L267.52,622.01L269.7,621.34L271.88,620.55L274.05,619.64L276.23,618.6L278.4,617.43L280.57,616.11L282.75,614.64L284.93,613.03L287.1,611.27L289.27,609.38L291.45,607.37L293.62,605.2L295.8,602.87L297.98,600.42L300.15,597.88L302.32,595.31L304.5,592.71L306.68,590.1L308.85,587.47L311.02,584.8L313.2,582.04L315.38,579.11L317.55,575.98L319.73,572.64L321.9,569.12L324.07,565.44L326.25,561.64L328.43,557.76L330.6,553.85L332.77,549.95L334.95,546.09L337.12,542.29L339.3,538.57L341.48,534.9L343.65,531.28L345.82,527.67L348,524.05L350.18,520.39L352.35,516.68L354.52,512.91L356.7,509.1L358.88,505.28L361.05,501.46L363.23,497.69L365.4,493.99L367.57,490.38L369.75,486.9L371.93,483.55L374.1,480.35L376.27,477.32L378.45,474.45L380.62,471.76L382.8,469.26L384.98,466.94L387.15,464.8L389.32,462.85L391.5,461.07L393.68,459.47L395.85,458.04L398.02,456.79L400.2,455.74L402.38,454.9L404.55,454.3L406.73,453.97L408.9,453.92L411.07,454.16L413.25,454.72L415.43,455.59L417.6,456.78L419.77,458.28L421.95,460.08L424.12,462.15L426.3,464.48L428.48,467.02L430.65,469.74L432.82,472.62L435,475.63L437.18,478.77L439.35,482L441.52,485.34L443.7,488.78L445.88,492.32L448.05,495.94L450.23,499.64L452.4,503.41L454.57,507.23L456.75,511.09L458.93,514.99L461.1,518.91L463.27,522.86L465.45,526.83L467.62,530.85L469.8,534.89L471.98,538.98L474.15,543.11L476.32,547.3L478.5,551.51L480.68,555.73L482.85,559.9L485.02,563.99L487.2,567.95L489.38,571.75L491.55,575.36L493.73,578.76L495.9,581.98L498.07,585.03L500.25,588.14L502.43,591.43L504.6,594.76L506.77,598.02L508.95,601.07L511.12,603.9L513.3,606.62L515.48,609.18L517.65,611.51L519.83,613.53L522,615.19L522,627.85L519.83,627.52L517.65,626.82L515.48,625.83L513.3,624.62L511.12,623.26L508.95,621.78L506.77,620.29L504.6,618.79L502.43,617.11L500.25,615.12L498.07,612.65L495.9,609.8L493.73,606.74L491.55,603.45L489.38,599.92L487.2,596.14L485.02,592.14L482.85,587.94L480.68,583.6L478.5,579.17L476.32,574.73L474.15,570.3L471.98,565.92L469.8,561.61L467.62,557.37L465.45,553.21L463.27,549.1L461.1,545.02L458.93,540.98L456.75,536.96L454.57,532.99L452.4,529.05L450.23,525.18L448.05,521.37L445.88,517.64L443.7,513.99L441.52,510.44L439.35,506.99L437.18,503.63L435,500.37L432.82,497.23L430.65,494.2L428.48,491.32L426.3,488.62L424.12,486.13L421.95,483.89L419.77,481.93L417.6,480.28L415.43,478.95L413.25,477.96L411.07,477.3L408.9,476.97L406.73,476.96L404.55,477.24L402.38,477.78L400.2,478.57L398.02,479.58L395.85,480.78L393.68,482.16L391.5,483.72L389.32,485.46L387.15,487.38L384.98,489.49L382.8,491.78L380.62,494.26L378.45,496.93L376.27,499.78L374.1,502.8L371.93,505.99L369.75,509.33L367.57,512.82L365.4,516.42L363.23,520.13L361.05,523.9L358.88,527.72L356.7,531.54L354.52,535.35L352.35,539.12L350.18,542.83L348,546.49L345.82,550.11L343.65,553.71L341.48,557.28L339.3,560.87L337.12,564.5L334.95,568.18L332.77,571.92L330.6,575.71L328.43,579.52L326.25,583.3L324.07,587.01L321.9,590.59L319.73,594L317.55,597.2L315.38,600.19L313.2,602.95L311.02,605.51L308.85,607.86L306.68,609.98L304.5,611.95L302.32,613.8L300.15,615.58L297.98,617.32L295.8,619.02L293.62,620.69L291.45,622.33L289.27,623.89L287.1,625.31L284.93,626.6L282.75,627.76L280.57,628.79L278.4,629.7L276.23,630.51L274.05,631.22L271.88,631.86L269.7,632.44L267.52,632.98L265.35,633.5L263.18,633.99L261,634.46L258.82,634.9L256.65,635.29L254.47,635.63L252.3,635.89L250.12,636.1L247.95,636.23L245.78,636.31L243.6,636.33L241.43,636.31L239.25,636.25L237.07,636.17L234.9,636.1L232.72,636.02L230.55,635.92L228.38,635.78L226.2,635.61L224.03,635.39L221.85,635.1L219.68,634.76L217.5,634.34L215.32,633.85L213.15,633.29L210.97,632.67L208.8,632.03L206.62,631.35L204.45,630.66L202.28,629.94L200.1,629.2L197.93,628.45L195.75,627.69L193.57,626.94L191.4,626.21L189.22,625.51L187.05,624.85L184.88,624.23L182.7,623.67L180.53,623.17L178.35,622.73L176.18,622.35L174,622.04L171.82,621.79L169.65,621.61L167.47,621.5L165.3,621.46L163.12,621.49L160.95,621.58L158.78,621.73L156.6,621.94L154.43,622.21L152.25,622.55L150.07,622.95L147.9,623.41L145.72,623.92L143.55,624.48L141.38,625.08L139.2,625.71L137.03,626.36L134.85,627.02L132.68,627.67L130.5,628.31L128.32,628.94L126.15,629.55L123.97,630.13L121.8,630.68L119.62,631.2L117.45,631.68L115.28,632.12L113.1,632.53L110.92,632.9L108.75,633.21L106.58,633.45L104.4,633.62L102.22,633.72L100.05,633.73L97.88,633.67L95.7,633.53L93.53,633.35L91.35,633.14L89.17,632.96L87,632.84Z"/>
<mask id="mA3" maskUnits="userSpaceOnUse" x="0" y="0" width="1698" height="1145"><use href="#br3" fill="#fff"/><use href="#bg3" fill="#000"/></mask>
<mask id="mB3" maskUnits="userSpaceOnUse" x="0" y="0" width="1698" height="1145"><use href="#bg3" fill="#fff"/><use href="#br3" fill="#000"/></mask>
<clipPath id="cC3"><use href="#br3"/></clipPath></defs>
<use href="#br3" fill="rgb(232,200,200)" mask="url(#mA3)" style="mix-blend-mode:multiply"/>
<path d="M87,628.49L89.17,628.71L91.35,628.97L93.53,629.25L95.7,629.52L97.88,629.75L100.05,629.92L102.22,630.03L104.4,630.06L106.58,630.02L108.75,629.91L110.92,629.72L113.1,629.45L115.28,629.11L117.45,628.71L119.62,628.26L121.8,627.76L123.97,627.22L126.15,626.65L128.32,626.04L130.5,625.41L132.68,624.75L134.85,624.07L137.03,623.37L139.2,622.66L141.38,621.97L143.55,621.29L145.72,620.66L147.9,620.1L150.07,619.62L152.25,619.21L154.43,618.9L156.6,618.65L158.78,618.48L160.95,618.35L163.12,618.27L165.3,618.23L167.47,618.22L169.65,618.25L171.82,618.33L174,618.46L176.18,618.65L178.35,618.89L180.53,619.2L182.7,619.57L184.88,620L187.05,620.48L189.22,621.03L191.4,621.62L193.57,622.25L195.75,622.91L197.93,623.58L200.1,624.26L202.28,624.94L204.45,625.62L206.62,626.28L208.8,626.92L210.97,627.56L213.15,628.18L215.32,628.79L217.5,629.39L219.68,629.96L221.85,630.5L224.03,631L226.2,631.47L228.38,631.88L230.55,632.24L232.72,632.55L234.9,632.82L237.07,633.04L239.25,633.22L241.43,633.36L243.6,633.46L245.78,633.51L247.95,633.51L250.12,633.46L252.3,633.34L254.47,633.16L256.65,632.91L258.82,632.59L261,632.21L263.18,631.77L265.35,631.27L267.52,630.71L269.7,630.09L271.88,629.4L274.05,628.63L276.23,627.79L278.4,626.85L280.57,625.83L282.75,624.7L284.93,623.49L287.1,622.19L289.27,620.8L291.45,619.33L293.62,617.76L295.8,616.1L297.98,614.31L300.15,612.38L302.32,610.29L304.5,608.02L306.68,605.58L308.85,602.96L311.02,600.18L313.2,597.23L315.38,594.13L317.55,590.9L319.73,587.54L321.9,584.07L324.07,580.52L326.25,576.9L328.43,573.23L330.6,569.55L332.77,565.86L334.95,562.19L337.12,558.56L339.3,554.96L341.48,551.41L343.65,547.89L345.82,544.38L348,540.87L350.18,537.33L352.35,533.76L354.52,530.13L356.7,526.46L358.88,522.74L361.05,519.01L363.23,515.3L365.4,511.62L367.57,508.03L369.75,504.55L371.93,501.2L374.1,498.01L376.27,494.99L378.45,492.13L380.62,489.45L382.8,486.94L384.98,484.59L387.15,482.41L389.32,480.4L391.5,478.56L393.68,476.9L395.85,475.42L398.02,474.12L400.2,473.04L402.38,472.18L404.55,471.57L406.73,471.24L408.9,471.21L411.07,471.48L413.25,472.09L415.43,473.02L417.6,474.28L419.77,475.85L421.95,477.73L424.12,479.88L426.3,482.29L428.48,484.92L430.65,487.73L432.82,490.71L435,493.82L437.18,497.06L439.35,500.4L441.52,503.85L443.7,507.4L445.88,511.05L448.05,514.78L450.23,518.59L452.4,522.48L454.57,526.44L456.75,530.47L458.93,534.55L461.1,538.69L463.27,542.89L465.45,547.13L467.62,551.42L469.8,555.74L471.98,560.08L474.15,564.42L476.32,568.74L478.5,573L480.68,577.19L482.85,581.26L485.02,585.2L487.2,588.99L489.38,592.63L491.55,596.11L493.73,599.45L495.9,602.63L498.07,605.63L500.25,608.43L502.43,611.01L504.6,613.39L506.77,615.6L508.95,617.67L511.12,619.61L513.3,621.42L515.48,623.08L517.65,624.53L519.83,625.71L522,626.57" fill="none" stroke="rgb(191,48,48)" stroke-width="6.0" stroke-linejoin="round"/>
<use href="#bg3" fill="rgb(213,232,193)" mask="url(#mB3)" style="mix-blend-mode:multiply"/>
<use href="#bg3" fill="rgb(207,213,163)" clip-path="url(#cC3)" style="mix-blend-mode:multiply"/>
<path d="M87,628.49L89.17,628.71L91.35,628.97L93.53,629.25L95.7,629.52L97.88,629.75L100.05,629.92L102.22,630.03L104.4,630.06L106.58,630.02L108.75,629.91L110.92,629.72L113.1,629.45L115.28,629.11L117.45,628.71L119.62,628.26L121.8,627.76L123.97,627.22L126.15,626.65L128.32,626.04L130.5,625.41L132.68,624.75L134.85,624.07L137.03,623.37L139.2,622.66L141.38,621.97L143.55,621.29L145.72,620.66L147.9,620.1L150.07,619.62L152.25,619.21L154.43,618.9L156.6,618.65L158.78,618.48L160.95,618.35L163.12,618.27L165.3,618.23L167.47,618.22L169.65,618.25L171.82,618.33L174,618.46L176.18,618.65L178.35,618.89L180.53,619.2L182.7,619.57L184.88,620L187.05,620.48L189.22,621.03L191.4,621.62L193.57,622.25L195.75,622.91L197.93,623.58L200.1,624.26L202.28,624.94L204.45,625.62L206.62,626.28L208.8,626.92L210.97,627.56L213.15,628.18L215.32,628.79L217.5,629.39L219.68,629.96L221.85,630.5L224.03,631L226.2,631.47L228.38,631.88L230.55,632.24L232.72,632.55L234.9,632.82L237.07,633.04L239.25,633.22L241.43,633.36L243.6,633.46L245.78,633.51L247.95,633.51L250.12,633.46L252.3,633.34L254.47,633.16L256.65,632.91L258.82,632.59L261,632.21L263.18,631.77L265.35,631.27L267.52,630.71L269.7,630.09L271.88,629.4L274.05,628.63L276.23,627.79L278.4,626.85L280.57,625.83L282.75,624.7L284.93,623.49L287.1,622.19L289.27,620.8L291.45,619.33L293.62,617.76L295.8,616.1L297.98,614.31L300.15,612.38L302.32,610.29L304.5,608.02L306.68,605.58L308.85,602.96L311.02,600.18L313.2,597.23L315.38,594.13L317.55,590.9L319.73,587.54L321.9,584.07L324.07,580.52L326.25,576.9L328.43,573.23L330.6,569.55L332.77,565.86L334.95,562.19L337.12,558.56L339.3,554.96L341.48,551.41L343.65,547.89L345.82,544.38L348,540.87L350.18,537.33L352.35,533.76L354.52,530.13L356.7,526.46L358.88,522.74L361.05,519.01L363.23,515.3L365.4,511.62L367.57,508.03L369.75,504.55L371.93,501.2L374.1,498.01L376.27,494.99L378.45,492.13L380.62,489.45L382.8,486.94L384.98,484.59L387.15,482.41L389.32,480.4L391.5,478.56L393.68,476.9L395.85,475.42L398.02,474.12L400.2,473.04L402.38,472.18L404.55,471.57L406.73,471.24L408.9,471.21L411.07,471.48L413.25,472.09L415.43,473.02L417.6,474.28L419.77,475.85L421.95,477.73L424.12,479.88L426.3,482.29L428.48,484.92L430.65,487.73L432.82,490.71L435,493.82L437.18,497.06L439.35,500.4L441.52,503.85L443.7,507.4L445.88,511.05L448.05,514.78L450.23,518.59L452.4,522.48L454.57,526.44L456.75,530.47L458.93,534.55L461.1,538.69L463.27,542.89L465.45,547.13L467.62,551.42L469.8,555.74L471.98,560.08L474.15,564.42L476.32,568.74L478.5,573L480.68,577.19L482.85,581.26L485.02,585.2L487.2,588.99L489.38,592.63L491.55,596.11L493.73,599.45L495.9,602.63L498.07,605.63L500.25,608.43L502.43,611.01L504.6,613.39L506.77,615.6L508.95,617.67L511.12,619.61L513.3,621.42L515.48,623.08L517.65,624.53L519.83,625.71L522,626.57" fill="none" stroke="rgb(191,48,48)" stroke-width="6.0" stroke-linejoin="round" stroke-opacity="0.5"/>
<path d="M87,623.92L89.17,624.15L91.35,624.43L93.53,624.72L95.7,624.98L97.88,625.17L100.05,625.29L102.22,625.31L104.4,625.25L106.58,625.09L108.75,624.86L110.92,624.55L113.1,624.17L115.28,623.73L117.45,623.22L119.62,622.66L121.8,622.05L123.97,621.39L126.15,620.7L128.32,619.98L130.5,619.23L132.68,618.47L134.85,617.71L137.03,616.96L139.2,616.22L141.38,615.51L143.55,614.83L145.72,614.19L147.9,613.6L150.07,613.07L152.25,612.59L154.43,612.18L156.6,611.84L158.78,611.56L160.95,611.34L163.12,611.19L165.3,611.11L167.47,611.09L169.65,611.14L171.82,611.25L174,611.43L176.18,611.68L178.35,612L180.53,612.39L182.7,612.84L184.88,613.36L187.05,613.94L189.22,614.59L191.4,615.28L193.57,616.02L195.75,616.79L197.93,617.58L200.1,618.38L202.28,619.18L204.45,619.97L206.62,620.74L208.8,621.49L210.97,622.22L213.15,622.93L215.32,623.62L217.5,624.27L219.68,624.89L221.85,625.48L224.03,626.03L226.2,626.53L228.38,627L230.55,627.42L232.72,627.81L234.9,628.16L237.07,628.48L239.25,628.77L241.43,629.04L243.6,629.28L245.78,629.48L247.95,629.63L250.12,629.71L252.3,629.72L254.47,629.64L256.65,629.48L258.82,629.23L261,628.9L263.18,628.5L265.35,628.03L267.52,627.49L269.7,626.89L271.88,626.2L274.05,625.43L276.23,624.55L278.4,623.56L280.57,622.45L282.75,621.2L284.93,619.81L287.1,618.29L289.27,616.63L291.45,614.85L293.62,612.95L295.8,610.95L297.98,608.87L300.15,606.73L302.32,604.55L304.5,602.33L306.68,600.04L308.85,597.66L311.02,595.16L313.2,592.5L315.38,589.65L317.55,586.59L319.73,583.32L321.9,579.86L324.07,576.22L326.25,572.47L328.43,568.64L330.6,564.78L332.77,560.94L334.95,557.13L337.12,553.4L339.3,549.72L341.48,546.09L343.65,542.49L345.82,538.89L348,535.27L350.18,531.61L352.35,527.9L354.52,524.13L356.7,520.32L358.88,516.5L361.05,512.68L363.23,508.91L365.4,505.2L367.57,501.6L369.75,498.11L371.93,494.77L374.1,491.58L376.27,488.55L378.45,485.69L380.62,483.01L382.8,480.52L384.98,478.21L387.15,476.09L389.32,474.15L391.5,472.4L393.68,470.82L395.85,469.41L398.02,468.18L400.2,467.16L402.38,466.34L404.55,465.77L406.73,465.46L408.9,465.44L411.07,465.73L413.25,466.34L415.43,467.27L417.6,468.53L419.77,470.1L421.95,471.98L424.12,474.14L426.3,476.55L428.48,479.17L430.65,481.97L432.82,484.92L435,488L437.18,491.2L439.35,494.5L441.52,497.89L443.7,501.39L445.88,504.98L448.05,508.65L450.23,512.41L452.4,516.23L454.57,520.11L456.75,524.03L458.93,527.98L461.1,531.97L463.27,535.98L465.45,540.02L467.62,544.11L469.8,548.25L471.98,552.45L474.15,556.71L476.32,561.01L478.5,565.34L480.68,569.66L482.85,573.92L485.02,578.06L487.2,582.05L489.38,585.83L491.55,589.4L493.73,592.75L495.9,595.89L498.07,598.84L500.25,601.63L502.43,604.27L504.6,606.77L506.77,609.16L508.95,611.42L511.12,613.58L513.3,615.62L515.48,617.5L517.65,619.17L519.83,620.52L522,621.52" fill="none" stroke="rgb(126,182,81)" stroke-width="6.0" stroke-linejoin="round"/>
</g>
<rect x="87" y="429.3" width="435" height="243.9" fill="none" stroke="#474c51" stroke-width="1.9" rx="0.8"/>
<path d="M87,673.2v-4.4M87,429.3v4.4M174,673.2v-4.4M174,429.3v4.4M261,673.2v-4.4M261,429.3v4.4M348,673.2v-4.4M348,429.3v4.4M435,673.2v-4.4M435,429.3v4.4M522,673.2v-4.4M522,429.3v4.4M87,644.6h4.4M522,644.6h-4.4M87,587.07h4.4M522,587.07h-4.4M87,529.53h4.4M522,529.53h-4.4M87,472h4.4M522,472h-4.4" stroke="#474c51" stroke-width="1.6" fill="none"/>
<text x="87" y="709.3" font-size="25.7" fill="#45494e" text-anchor="middle">0</text>
<text x="174" y="709.3" font-size="25.7" fill="#45494e" text-anchor="middle">20</text>
<text x="261" y="709.3" font-size="25.7" fill="#45494e" text-anchor="middle">40</text>
<text x="348" y="709.3" font-size="25.7" fill="#45494e" text-anchor="middle">60</text>
<text x="435" y="709.3" font-size="25.7" fill="#45494e" text-anchor="middle">80</text>
<text x="522" y="709.3" font-size="25.7" fill="#45494e" text-anchor="middle">100</text>
<text x="76.3" y="656.4" font-size="25.7" fill="#45494e" text-anchor="end">0</text>
<text x="76.3" y="598.87" font-size="25.7" fill="#45494e" text-anchor="end">20</text>
<text x="76.3" y="541.33" font-size="25.7" fill="#45494e" text-anchor="end">40</text>
<text x="76.3" y="483.8" font-size="25.7" fill="#45494e" text-anchor="end">60</text>
<text x="304.5" y="749.3" font-size="31.25" fill="#45494e" text-anchor="middle">gait cycle</text>
<text transform="translate(34.7,551.25) rotate(-90)" font-size="31.25" fill="#45494e" text-anchor="middle">Degree</text>
<text x="304.5" y="415.4" font-size="37.1" fill="#161616" text-anchor="middle">Knee flex/ext</text>
<clipPath id="c4"><rect x="662" y="429.3" width="436.3" height="243.9"/></clipPath>
<g clip-path="url(#c4)">
<rect x="662" y="429.3" width="436.3" height="243.9" fill="#fff"/>
<rect x="662" y="429.3" width="23.12" height="243.9" fill="rgb(205,206,210)"/>
<rect x="886.69" y="429.3" width="56.72" height="243.9" fill="rgb(205,206,210)"/>
<rect x="1040.71" y="429.3" width="57.59" height="243.9" fill="rgb(205,206,210)"/>
<line x1="662" y1="618.8" x2="1098.3" y2="618.8" stroke="#262626" stroke-opacity="0.15" stroke-width="1.1"/>
<line x1="662" y1="564.6" x2="1098.3" y2="564.6" stroke="#262626" stroke-opacity="0.15" stroke-width="1.1"/>
<line x1="662" y1="510.4" x2="1098.3" y2="510.4" stroke="#262626" stroke-opacity="0.15" stroke-width="1.1"/>
<line x1="662" y1="456.2" x2="1098.3" y2="456.2" stroke="#262626" stroke-opacity="0.15" stroke-width="1.1"/>
<defs><path id="br4" d="M662,516.37L664.18,515.85L666.36,515.27L668.54,514.64L670.73,513.98L672.91,513.28L675.09,512.56L677.27,511.81L679.45,511.03L681.63,510.21L683.82,509.36L686,508.48L688.18,507.57L690.36,506.62L692.54,505.63L694.72,504.58L696.9,503.49L699.09,502.37L701.27,501.24L703.45,500.11L705.63,498.99L707.81,497.88L709.99,496.79L712.17,495.73L714.36,494.69L716.54,493.67L718.72,492.68L720.9,491.74L723.08,490.87L725.26,490.08L727.44,489.36L729.63,488.7L731.81,488.1L733.99,487.55L736.17,487.05L738.35,486.6L740.53,486.18L742.72,485.8L744.9,485.44L747.08,485.1L749.26,484.78L751.44,484.49L753.62,484.25L755.8,484.07L757.99,483.95L760.17,483.87L762.35,483.84L764.53,483.86L766.71,483.92L768.89,484.02L771.08,484.16L773.26,484.34L775.44,484.57L777.62,484.83L779.8,485.14L781.98,485.43L784.16,485.66L786.35,485.84L788.53,485.99L790.71,486.12L792.89,486.25L795.07,486.39L797.25,486.56L799.43,486.77L801.62,487.04L803.8,487.4L805.98,487.85L808.16,488.43L810.34,489.14L812.52,489.95L814.7,490.78L816.89,491.66L819.07,492.56L821.25,493.5L823.43,494.47L825.61,495.47L827.79,496.51L829.98,497.59L832.16,498.71L834.34,499.88L836.52,501.1L838.7,502.41L840.88,503.84L843.06,505.39L845.25,507.01L847.43,508.7L849.61,510.42L851.79,512.15L853.97,513.88L856.15,515.58L858.33,517.26L860.52,518.95L862.7,520.72L864.88,522.56L867.06,524.44L869.24,526.37L871.42,528.31L873.61,530.27L875.79,532.24L877.97,534.21L880.15,536.16L882.33,538.2L884.51,540.38L886.69,542.66L888.88,544.96L891.06,547.21L893.24,549.35L895.42,551.28L897.6,552.93L899.78,554.3L901.96,555.4L904.15,556.26L906.33,556.93L908.51,557.44L910.69,557.87L912.87,558.25L915.05,558.53L917.24,558.5L919.42,558.2L921.6,557.63L923.78,556.85L925.96,555.89L928.14,554.81L930.32,553.67L932.51,552.48L934.69,551.13L936.87,549.64L939.05,548L941.23,546.23L943.41,544.35L945.6,542.37L947.78,540.32L949.96,538.19L952.14,535.94L954.32,533.58L956.5,531.14L958.68,528.65L960.87,526.14L963.05,523.65L965.23,521.23L967.41,518.88L969.59,516.46L971.77,513.98L973.95,511.46L976.14,508.91L978.32,506.38L980.5,503.89L982.68,501.49L984.86,499.23L987.04,497.16L989.22,495.26L991.41,493.53L993.59,491.92L995.77,490.43L997.95,489.02L1000.13,487.7L1002.31,486.46L1004.5,485.54L1006.68,484.97L1008.86,484.66L1011.04,484.57L1013.22,484.64L1015.4,484.8L1017.58,485.01L1019.77,485.23L1021.95,485.66L1024.13,486.36L1026.31,487.28L1028.49,488.34L1030.67,489.47L1032.86,490.59L1035.04,491.6L1037.22,492.43L1039.4,493.28L1041.58,494.23L1043.76,495.25L1045.94,496.31L1048.13,497.37L1050.31,498.41L1052.49,499.41L1054.67,500.33L1056.85,501.11L1059.03,501.7L1061.21,502.15L1063.4,502.48L1065.58,502.74L1067.76,502.97L1069.94,503.21L1072.12,503.52L1074.3,503.85L1076.48,504.14L1078.67,504.37L1080.85,504.56L1083.03,504.7L1085.21,504.79L1087.39,504.83L1089.57,504.81L1091.76,504.74L1093.94,504.61L1096.12,504.39L1098.3,504.08L1098.3,578.34L1096.12,577.46L1093.94,576.49L1091.76,575.43L1089.57,574.29L1087.39,573.1L1085.21,571.84L1083.03,570.53L1080.85,569.16L1078.67,567.73L1076.48,566.26L1074.3,564.73L1072.12,563.14L1069.94,561.43L1067.76,559.57L1065.58,557.64L1063.4,555.7L1061.21,553.84L1059.03,552.16L1056.85,550.73L1054.67,549.65L1052.49,548.92L1050.31,548.49L1048.13,548.32L1045.94,548.38L1043.76,548.67L1041.58,549.15L1039.4,549.81L1037.22,550.63L1035.04,551.74L1032.86,553.35L1030.67,555.41L1028.49,557.85L1026.31,560.58L1024.13,563.52L1021.95,566.58L1019.77,569.67L1017.58,572.8L1015.4,576.17L1013.22,579.69L1011.04,583.28L1008.86,586.86L1006.68,590.37L1004.5,593.73L1002.31,596.86L1000.13,599.77L997.95,602.69L995.77,605.6L993.59,608.47L991.41,611.28L989.22,613.99L987.04,616.56L984.86,618.98L982.68,621.22L980.5,623.28L978.32,625.18L976.14,626.91L973.95,628.47L971.77,629.89L969.59,631.17L967.41,632.35L965.23,633.44L963.05,634.29L960.87,634.9L958.68,635.28L956.5,635.46L954.32,635.46L952.14,635.31L949.96,635.06L947.78,634.73L945.6,634.24L943.41,633.58L941.23,632.74L939.05,631.71L936.87,630.49L934.69,629.07L932.51,627.47L930.32,625.7L928.14,623.63L925.96,621.28L923.78,618.7L921.6,615.95L919.42,613.11L917.24,610.28L915.05,607.54L912.87,604.99L910.69,602.45L908.51,599.87L906.33,597.28L904.15,594.73L901.96,592.27L899.78,589.94L897.6,587.82L895.42,585.98L893.24,584.47L891.06,583.24L888.88,582.26L886.69,581.46L884.51,580.78L882.33,580.16L880.15,579.52L877.97,578.91L875.79,578.39L873.61,577.94L871.42,577.53L869.24,577.12L867.06,576.69L864.88,576.21L862.7,575.64L860.52,574.97L858.33,574.17L856.15,573.27L853.97,572.34L851.79,571.37L849.61,570.35L847.43,569.28L845.25,568.18L843.06,567.03L840.88,565.86L838.7,564.66L836.52,563.43L834.34,562.21L832.16,561.04L829.98,559.92L827.79,558.84L825.61,557.8L823.43,556.8L821.25,555.83L819.07,554.89L816.89,553.99L814.7,553.11L812.52,552.28L810.34,551.47L808.16,550.65L805.98,549.76L803.8,548.83L801.62,547.87L799.43,546.89L797.25,545.9L795.07,544.93L792.89,543.98L790.71,543.08L788.53,542.24L786.35,541.48L784.16,540.82L781.98,540.28L779.8,539.88L777.62,539.58L775.44,539.32L773.26,539.12L771.08,538.95L768.89,538.84L766.71,538.77L764.53,538.75L762.35,538.78L760.17,538.86L757.99,538.98L755.8,539.17L753.62,539.4L751.44,539.7L749.26,540.06L747.08,540.51L744.9,541.07L742.72,541.72L740.53,542.46L738.35,543.29L736.17,544.18L733.99,545.12L731.81,546.11L729.63,547.13L727.44,548.18L725.26,549.23L723.08,550.27L720.9,551.3L718.72,552.3L716.54,553.29L714.36,554.29L712.17,555.32L709.99,556.36L707.81,557.42L705.63,558.49L703.45,559.57L701.27,560.65L699.09,561.73L696.9,562.79L694.72,563.82L692.54,564.8L690.36,565.73L688.18,566.59L686,567.34L683.82,567.99L681.63,568.53L679.45,568.99L677.27,569.35L675.09,569.64L672.91,569.86L670.73,570.01L668.54,570.11L666.36,570.15L664.18,570.13L662,570.03Z"/><path id="bg4" d="M662,522.38L664.18,522.71L666.36,523.09L668.54,523.49L670.73,523.88L672.91,524.24L675.09,524.53L677.27,524.76L679.45,524.92L681.63,525L683.82,525L686,524.92L688.18,524.75L690.36,524.51L692.54,524.19L694.72,523.8L696.9,523.35L699.09,522.86L701.27,522.34L703.45,521.81L705.63,521.26L707.81,520.71L709.99,520.16L712.17,519.6L714.36,519.04L716.54,518.48L718.72,517.9L720.9,517.31L723.08,516.71L725.26,516.11L727.44,515.5L729.63,514.89L731.81,514.3L733.99,513.72L736.17,513.16L738.35,512.62L740.53,512.1L742.72,511.59L744.9,511.1L747.08,510.62L749.26,510.15L751.44,509.69L753.62,509.25L755.8,508.82L757.99,508.41L760.17,508.03L762.35,507.68L764.53,507.36L766.71,507.09L768.89,506.85L771.08,506.65L773.26,506.48L775.44,506.35L777.62,506.25L779.8,506.19L781.98,506.13L784.16,506.07L786.35,506.01L788.53,505.97L790.71,505.94L792.89,505.94L795.07,505.97L797.25,506.05L799.43,506.18L801.62,506.37L803.8,506.62L805.98,506.95L808.16,507.36L810.34,507.86L812.52,508.42L814.7,509L816.89,509.62L819.07,510.26L821.25,510.93L823.43,511.63L825.61,512.37L827.79,513.16L829.98,514.02L832.16,514.95L834.34,515.99L836.52,517.15L838.7,518.45L840.88,519.87L843.06,521.43L845.25,523.09L847.43,524.82L849.61,526.6L851.79,528.41L853.97,530.22L856.15,532.12L858.33,534.15L860.52,536.25L862.7,538.35L864.88,540.41L867.06,542.36L869.24,544.23L871.42,546.09L873.61,547.99L875.79,549.97L877.97,552.06L880.15,554.27L882.33,556.61L884.51,559.05L886.69,561.58L888.88,564.31L891.06,567.28L893.24,570.38L895.42,573.5L897.6,576.54L899.78,579.4L901.96,581.98L904.15,584.16L906.33,586.01L908.51,587.81L910.69,589.57L912.87,591.29L915.05,592.81L917.24,593.85L919.42,594.44L921.6,594.59L923.78,594.35L925.96,593.76L928.14,592.89L930.32,591.81L932.51,590.44L934.69,588.54L936.87,586.18L939.05,583.46L941.23,580.45L943.41,577.25L945.6,573.95L947.78,570.66L949.96,567.42L952.14,564.03L954.32,560.51L956.5,556.89L958.68,553.19L960.87,549.44L963.05,545.69L965.23,541.99L967.41,538.37L969.59,534.64L971.77,530.86L973.95,527.07L976.14,523.32L978.32,519.66L980.5,516.12L982.68,512.77L984.86,509.65L987.04,506.66L989.22,503.77L991.41,500.98L993.59,498.31L995.77,495.73L997.95,493.23L1000.13,490.8L1002.31,488.44L1004.5,486.33L1006.68,484.48L1008.86,482.9L1011.04,481.58L1013.22,480.53L1015.4,479.72L1017.58,479.12L1019.77,478.71L1021.95,478.6L1024.13,478.83L1026.31,479.36L1028.49,480.14L1030.67,481.15L1032.86,482.35L1035.04,483.69L1037.22,485.1L1039.4,486.7L1041.58,488.52L1043.76,490.5L1045.94,492.61L1048.13,494.82L1050.31,497.06L1052.49,499.27L1054.67,501.35L1056.85,503.38L1059.03,505.47L1061.21,507.55L1063.4,509.55L1065.58,511.43L1067.76,513.11L1069.94,514.56L1072.12,515.71L1074.3,516.63L1076.48,517.41L1078.67,518.03L1080.85,518.5L1083.03,518.8L1085.21,518.93L1087.39,518.87L1089.57,518.6L1091.76,518.12L1093.94,517.41L1096.12,516.46L1098.3,515.26L1098.3,579.21L1096.12,577.52L1093.94,575.91L1091.76,574.37L1089.57,572.9L1087.39,571.5L1085.21,570.16L1083.03,568.9L1080.85,567.69L1078.67,566.55L1076.48,565.46L1074.3,564.41L1072.12,563.41L1069.94,562.54L1067.76,561.89L1065.58,561.43L1063.4,561.12L1061.21,560.95L1059.03,560.88L1056.85,560.89L1054.67,560.97L1052.49,561.28L1050.31,562L1048.13,563.1L1045.94,564.56L1043.76,566.32L1041.58,568.31L1039.4,570.46L1037.22,572.7L1035.04,575.1L1032.86,577.83L1030.67,580.84L1028.49,584.09L1026.31,587.5L1024.13,590.99L1021.95,594.47L1019.77,597.89L1017.58,601.29L1015.4,604.84L1013.22,608.52L1011.04,612.3L1008.86,616.13L1006.68,619.95L1004.5,623.68L1002.31,627.28L1000.13,630.72L997.95,634.17L995.77,637.62L993.59,641.05L991.41,644.47L989.22,647.84L987.04,651.14L984.86,654.35L982.68,657.36L980.5,660.03L978.32,662.35L976.14,664.36L973.95,666.12L971.77,667.69L969.59,669.11L967.41,670.42L965.23,671.62L963.05,672.46L960.87,672.88L958.68,672.93L956.5,672.65L954.32,672.14L952.14,671.45L949.96,670.67L947.78,669.83L945.6,668.69L943.41,667.27L941.23,665.62L939.05,663.79L936.87,661.87L934.69,659.92L932.51,658.03L930.32,656.26L928.14,654.37L925.96,652.24L923.78,649.95L921.6,647.57L919.42,645.18L917.24,642.88L915.05,640.78L912.87,638.98L910.69,637.27L908.51,635.51L906.33,633.71L904.15,631.88L901.96,630.27L899.78,628.96L897.6,627.84L895.42,626.81L893.24,625.79L891.06,624.66L888.88,623.34L886.69,621.74L884.51,619.94L882.33,618.11L880.15,616.3L877.97,614.54L875.79,612.89L873.61,611.35L871.42,609.93L869.24,608.61L867.06,607.4L864.88,606.32L862.7,605.37L860.52,604.45L858.33,603.51L856.15,602.45L853.97,601.23L851.79,599.88L849.61,598.5L847.43,597.12L845.25,595.72L843.06,594.33L840.88,592.96L838.7,591.61L836.52,590.29L834.34,589L832.16,587.75L829.98,586.52L827.79,585.32L825.61,584.12L823.43,582.93L821.25,581.75L819.07,580.57L816.89,579.42L814.7,578.28L812.52,577.19L810.34,576.15L808.16,575.15L805.98,574.16L803.8,573.19L801.62,572.26L799.43,571.36L797.25,570.5L795.07,569.7L792.89,568.94L790.71,568.25L788.53,567.61L786.35,567.05L784.16,566.55L781.98,566.14L779.8,565.81L777.62,565.54L775.44,565.33L773.26,565.17L771.08,565.06L768.89,565L766.71,564.99L764.53,565.04L762.35,565.13L760.17,565.28L757.99,565.46L755.8,565.69L753.62,565.94L751.44,566.22L749.26,566.52L747.08,566.84L744.9,567.17L742.72,567.53L740.53,567.9L738.35,568.3L736.17,568.72L733.99,569.17L731.81,569.64L729.63,570.13L727.44,570.63L725.26,571.14L723.08,571.65L720.9,572.15L718.72,572.64L716.54,573.12L714.36,573.58L712.17,574.04L709.99,574.48L707.81,574.93L705.63,575.37L703.45,575.82L701.27,576.26L699.09,576.7L696.9,577.12L694.72,577.51L692.54,577.86L690.36,578.17L688.18,578.41L686,578.59L683.82,578.7L681.63,578.75L679.45,578.73L677.27,578.64L675.09,578.5L672.91,578.3L670.73,578.06L668.54,577.79L666.36,577.52L664.18,577.29L662,577.12Z"/>
<mask id="mA4" maskUnits="userSpaceOnUse" x="0" y="0" width="1698" height="1145"><use href="#br4" fill="#fff"/><use href="#bg4" fill="#000"/></mask>
<mask id="mB4" maskUnits="userSpaceOnUse" x="0" y="0" width="1698" height="1145"><use href="#bg4" fill="#fff"/><use href="#br4" fill="#000"/></mask>
<clipPath id="cC4"><use href="#br4"/></clipPath></defs>
<use href="#br4" fill="rgb(232,200,200)" mask="url(#mA4)" style="mix-blend-mode:multiply"/>
<path d="M662,543.2L664.18,542.99L666.36,542.71L668.54,542.38L670.73,542L672.91,541.57L675.09,541.1L677.27,540.58L679.45,540.01L681.63,539.37L683.82,538.68L686,537.91L688.18,537.08L690.36,536.18L692.54,535.22L694.72,534.2L696.9,533.14L699.09,532.05L701.27,530.95L703.45,529.84L705.63,528.74L707.81,527.65L709.99,526.58L712.17,525.52L714.36,524.49L716.54,523.48L718.72,522.49L720.9,521.52L723.08,520.57L725.26,519.65L727.44,518.77L729.63,517.92L731.81,517.1L733.99,516.34L736.17,515.61L738.35,514.94L740.53,514.32L742.72,513.76L744.9,513.25L747.08,512.81L749.26,512.42L751.44,512.09L753.62,511.83L755.8,511.62L757.99,511.47L760.17,511.36L762.35,511.31L764.53,511.3L766.71,511.34L768.89,511.43L771.08,511.56L773.26,511.73L775.44,511.95L777.62,512.21L779.8,512.51L781.98,512.85L784.16,513.24L786.35,513.66L788.53,514.11L790.71,514.6L792.89,515.12L795.07,515.66L797.25,516.23L799.43,516.83L801.62,517.45L803.8,518.12L805.98,518.81L808.16,519.54L810.34,520.31L812.52,521.11L814.7,521.95L816.89,522.82L819.07,523.73L821.25,524.67L823.43,525.64L825.61,526.64L827.79,527.67L829.98,528.75L832.16,529.87L834.34,531.04L836.52,532.26L838.7,533.53L840.88,534.85L843.06,536.21L845.25,537.59L847.43,538.99L849.61,540.38L851.79,541.76L853.97,543.11L856.15,544.43L858.33,545.71L860.52,546.96L862.7,548.18L864.88,549.38L867.06,550.57L869.24,551.74L871.42,552.92L873.61,554.11L875.79,555.32L877.97,556.56L880.15,557.84L882.33,559.18L884.51,560.58L886.69,562.06L888.88,563.61L891.06,565.23L893.24,566.91L895.42,568.63L897.6,570.38L899.78,572.12L901.96,573.83L904.15,575.5L906.33,577.11L908.51,578.66L910.69,580.16L912.87,581.62L915.05,583.04L917.24,584.39L919.42,585.65L921.6,586.79L923.78,587.77L925.96,588.58L928.14,589.22L930.32,589.68L932.51,589.98L934.69,590.1L936.87,590.07L939.05,589.86L941.23,589.49L943.41,588.97L945.6,588.31L947.78,587.52L949.96,586.63L952.14,585.63L954.32,584.52L956.5,583.3L958.68,581.96L960.87,580.52L963.05,578.97L965.23,577.34L967.41,575.62L969.59,573.82L971.77,571.93L973.95,569.96L976.14,567.91L978.32,565.78L980.5,563.58L982.68,561.35L984.86,559.11L987.04,556.86L989.22,554.63L991.41,552.4L993.59,550.2L995.77,548.01L997.95,545.86L1000.13,543.74L1002.31,541.66L1004.5,539.64L1006.68,537.67L1008.86,535.76L1011.04,533.93L1013.22,532.16L1015.4,530.49L1017.58,528.91L1019.77,527.45L1021.95,526.12L1024.13,524.94L1026.31,523.93L1028.49,523.1L1030.67,522.44L1032.86,521.97L1035.04,521.67L1037.22,521.53L1039.4,521.54L1041.58,521.69L1043.76,521.96L1045.94,522.35L1048.13,522.84L1050.31,523.45L1052.49,524.16L1054.67,524.99L1056.85,525.92L1059.03,526.93L1061.21,527.99L1063.4,529.09L1065.58,530.19L1067.76,531.27L1069.94,532.32L1072.12,533.33L1074.3,534.29L1076.48,535.2L1078.67,536.05L1080.85,536.86L1083.03,537.61L1085.21,538.31L1087.39,538.96L1089.57,539.55L1091.76,540.09L1093.94,540.55L1096.12,540.93L1098.3,541.21" fill="none" stroke="rgb(191,48,48)" stroke-width="6.0" stroke-linejoin="round"/>
<use href="#bg4" fill="rgb(213,232,193)" mask="url(#mB4)" style="mix-blend-mode:multiply"/>
<use href="#bg4" fill="rgb(207,213,163)" clip-path="url(#cC4)" style="mix-blend-mode:multiply"/>
<path d="M662,543.2L664.18,542.99L666.36,542.71L668.54,542.38L670.73,542L672.91,541.57L675.09,541.1L677.27,540.58L679.45,540.01L681.63,539.37L683.82,538.68L686,537.91L688.18,537.08L690.36,536.18L692.54,535.22L694.72,534.2L696.9,533.14L699.09,532.05L701.27,530.95L703.45,529.84L705.63,528.74L707.81,527.65L709.99,526.58L712.17,525.52L714.36,524.49L716.54,523.48L718.72,522.49L720.9,521.52L723.08,520.57L725.26,519.65L727.44,518.77L729.63,517.92L731.81,517.1L733.99,516.34L736.17,515.61L738.35,514.94L740.53,514.32L742.72,513.76L744.9,513.25L747.08,512.81L749.26,512.42L751.44,512.09L753.62,511.83L755.8,511.62L757.99,511.47L760.17,511.36L762.35,511.31L764.53,511.3L766.71,511.34L768.89,511.43L771.08,511.56L773.26,511.73L775.44,511.95L777.62,512.21L779.8,512.51L781.98,512.85L784.16,513.24L786.35,513.66L788.53,514.11L790.71,514.6L792.89,515.12L795.07,515.66L797.25,516.23L799.43,516.83L801.62,517.45L803.8,518.12L805.98,518.81L808.16,519.54L810.34,520.31L812.52,521.11L814.7,521.95L816.89,522.82L819.07,523.73L821.25,524.67L823.43,525.64L825.61,526.64L827.79,527.67L829.98,528.75L832.16,529.87L834.34,531.04L836.52,532.26L838.7,533.53L840.88,534.85L843.06,536.21L845.25,537.59L847.43,538.99L849.61,540.38L851.79,541.76L853.97,543.11L856.15,544.43L858.33,545.71L860.52,546.96L862.7,548.18L864.88,549.38L867.06,550.57L869.24,551.74L871.42,552.92L873.61,554.11L875.79,555.32L877.97,556.56L880.15,557.84L882.33,559.18L884.51,560.58L886.69,562.06L888.88,563.61L891.06,565.23L893.24,566.91L895.42,568.63L897.6,570.38L899.78,572.12L901.96,573.83L904.15,575.5L906.33,577.11L908.51,578.66L910.69,580.16L912.87,581.62L915.05,583.04L917.24,584.39L919.42,585.65L921.6,586.79L923.78,587.77L925.96,588.58L928.14,589.22L930.32,589.68L932.51,589.98L934.69,590.1L936.87,590.07L939.05,589.86L941.23,589.49L943.41,588.97L945.6,588.31L947.78,587.52L949.96,586.63L952.14,585.63L954.32,584.52L956.5,583.3L958.68,581.96L960.87,580.52L963.05,578.97L965.23,577.34L967.41,575.62L969.59,573.82L971.77,571.93L973.95,569.96L976.14,567.91L978.32,565.78L980.5,563.58L982.68,561.35L984.86,559.11L987.04,556.86L989.22,554.63L991.41,552.4L993.59,550.2L995.77,548.01L997.95,545.86L1000.13,543.74L1002.31,541.66L1004.5,539.64L1006.68,537.67L1008.86,535.76L1011.04,533.93L1013.22,532.16L1015.4,530.49L1017.58,528.91L1019.77,527.45L1021.95,526.12L1024.13,524.94L1026.31,523.93L1028.49,523.1L1030.67,522.44L1032.86,521.97L1035.04,521.67L1037.22,521.53L1039.4,521.54L1041.58,521.69L1043.76,521.96L1045.94,522.35L1048.13,522.84L1050.31,523.45L1052.49,524.16L1054.67,524.99L1056.85,525.92L1059.03,526.93L1061.21,527.99L1063.4,529.09L1065.58,530.19L1067.76,531.27L1069.94,532.32L1072.12,533.33L1074.3,534.29L1076.48,535.2L1078.67,536.05L1080.85,536.86L1083.03,537.61L1085.21,538.31L1087.39,538.96L1089.57,539.55L1091.76,540.09L1093.94,540.55L1096.12,540.93L1098.3,541.21" fill="none" stroke="rgb(191,48,48)" stroke-width="6.0" stroke-linejoin="round" stroke-opacity="0.5"/>
<path d="M662,549.75L664.18,550L666.36,550.31L668.54,550.64L670.73,550.97L672.91,551.27L675.09,551.51L677.27,551.7L679.45,551.82L681.63,551.87L683.82,551.85L686,551.75L688.18,551.58L690.36,551.34L692.54,551.02L694.72,550.65L696.9,550.24L699.09,549.78L701.27,549.3L703.45,548.81L705.63,548.32L707.81,547.82L709.99,547.32L712.17,546.82L714.36,546.31L716.54,545.8L718.72,545.27L720.9,544.73L723.08,544.18L725.26,543.62L727.44,543.06L729.63,542.51L731.81,541.97L733.99,541.45L736.17,540.94L738.35,540.46L740.53,540L742.72,539.56L744.9,539.14L747.08,538.73L749.26,538.34L751.44,537.96L753.62,537.59L755.8,537.25L757.99,536.94L760.17,536.65L762.35,536.41L764.53,536.2L766.71,536.04L768.89,535.92L771.08,535.85L773.26,535.83L775.44,535.84L777.62,535.9L779.8,536L781.98,536.13L784.16,536.31L786.35,536.53L788.53,536.79L790.71,537.09L792.89,537.44L795.07,537.84L797.25,538.28L799.43,538.77L801.62,539.31L803.8,539.91L805.98,540.55L808.16,541.25L810.34,542.01L812.52,542.8L814.7,543.64L816.89,544.52L819.07,545.42L821.25,546.34L823.43,547.28L825.61,548.25L827.79,549.24L829.98,550.27L832.16,551.35L834.34,552.5L836.52,553.72L838.7,555.03L840.88,556.42L843.06,557.88L845.25,559.4L847.43,560.97L849.61,562.55L851.79,564.14L853.97,565.72L856.15,567.29L858.33,568.83L860.52,570.35L862.7,571.86L864.88,573.37L867.06,574.88L869.24,576.42L871.42,578.01L873.61,579.67L875.79,581.43L877.97,583.3L880.15,585.29L882.33,587.36L884.51,589.5L886.69,591.66L888.88,593.83L891.06,595.97L893.24,598.08L895.42,600.16L897.6,602.19L899.78,604.18L901.96,606.12L904.15,608.02L906.33,609.86L908.51,611.66L910.69,613.42L912.87,615.14L915.05,616.79L917.24,618.37L919.42,619.81L921.6,621.08L923.78,622.15L925.96,623L928.14,623.63L930.32,624.04L932.51,624.23L934.69,624.23L936.87,624.03L939.05,623.63L941.23,623.03L943.41,622.26L945.6,621.32L947.78,620.24L949.96,619.05L952.14,617.74L954.32,616.32L956.5,614.77L958.68,613.06L960.87,611.16L963.05,609.07L965.23,606.81L967.41,604.4L969.59,601.88L971.77,599.27L973.95,596.6L976.14,593.84L978.32,591.01L980.5,588.08L982.68,585.07L984.86,582L987.04,578.9L989.22,575.8L991.41,572.73L993.59,569.68L995.77,566.67L997.95,563.7L1000.13,560.76L1002.31,557.86L1004.5,555L1006.68,552.21L1008.86,549.52L1011.04,546.94L1013.22,544.52L1015.4,542.28L1017.58,540.21L1019.77,538.3L1021.95,536.54L1024.13,534.91L1026.31,533.43L1028.49,532.11L1030.67,530.99L1032.86,530.09L1035.04,529.4L1037.22,528.9L1039.4,528.58L1041.58,528.41L1043.76,528.41L1045.94,528.59L1048.13,528.96L1050.31,529.53L1052.49,530.27L1054.67,531.16L1056.85,532.13L1059.03,533.17L1061.21,534.25L1063.4,535.34L1065.58,536.43L1067.76,537.5L1069.94,538.55L1072.12,539.56L1074.3,540.52L1076.48,541.43L1078.67,542.29L1080.85,543.1L1083.03,543.85L1085.21,544.55L1087.39,545.18L1089.57,545.75L1091.76,546.24L1093.94,546.66L1096.12,546.99L1098.3,547.23" fill="none" stroke="rgb(126,182,81)" stroke-width="6.0" stroke-linejoin="round"/>
</g>
<rect x="662" y="429.3" width="436.3" height="243.9" fill="none" stroke="#474c51" stroke-width="1.9" rx="0.8"/>
<path d="M662,673.2v-4.4M662,429.3v4.4M749.26,673.2v-4.4M749.26,429.3v4.4M836.52,673.2v-4.4M836.52,429.3v4.4M923.78,673.2v-4.4M923.78,429.3v4.4M1011.04,673.2v-4.4M1011.04,429.3v4.4M1098.3,673.2v-4.4M1098.3,429.3v4.4M662,673h4.4M1098.3,673h-4.4M662,618.8h4.4M1098.3,618.8h-4.4M662,564.6h4.4M1098.3,564.6h-4.4M662,510.4h4.4M1098.3,510.4h-4.4M662,456.2h4.4M1098.3,456.2h-4.4" stroke="#474c51" stroke-width="1.6" fill="none"/>
<text x="662" y="709.3" font-size="25.7" fill="#45494e" text-anchor="middle">0</text>
<text x="749.26" y="709.3" font-size="25.7" fill="#45494e" text-anchor="middle">20</text>
<text x="836.52" y="709.3" font-size="25.7" fill="#45494e" text-anchor="middle">40</text>
<text x="923.78" y="709.3" font-size="25.7" fill="#45494e" text-anchor="middle">60</text>
<text x="1011.04" y="709.3" font-size="25.7" fill="#45494e" text-anchor="middle">80</text>
<text x="1098.3" y="709.3" font-size="25.7" fill="#45494e" text-anchor="middle">100</text>
<text x="651.3" y="684.8" font-size="25.7" fill="#45494e" text-anchor="end">-6</text>
<text x="651.3" y="630.6" font-size="25.7" fill="#45494e" text-anchor="end">-4</text>
<text x="651.3" y="576.4" font-size="25.7" fill="#45494e" text-anchor="end">-2</text>
<text x="651.3" y="522.2" font-size="25.7" fill="#45494e" text-anchor="end">0</text>
<text x="651.3" y="468" font-size="25.7" fill="#45494e" text-anchor="end">2</text>
<text x="880.15" y="749.3" font-size="31.25" fill="#45494e" text-anchor="middle">gait cycle</text>
<text transform="translate(610.1,551.25) rotate(-90)" font-size="31.25" fill="#45494e" text-anchor="middle">Degree</text>
<text x="880.15" y="415.4" font-size="37.1" fill="#161616" text-anchor="middle">Knee add/abd</text>
<clipPath id="c5"><rect x="1238.1" y="429.3" width="434.9" height="243.9"/></clipPath>
<g clip-path="url(#c5)">
<rect x="1238.1" y="429.3" width="434.9" height="243.9" fill="#fff"/>
<rect x="1238.1" y="429.3" width="9.57" height="243.9" fill="rgb(205,206,210)"/>
<rect x="1314.64" y="429.3" width="165.26" height="243.9" fill="rgb(205,206,210)"/>
<rect x="1514.7" y="429.3" width="139.6" height="243.9" fill="rgb(205,206,210)"/>
<line x1="1238.1" y1="643" x2="1673" y2="643" stroke="#262626" stroke-opacity="0.15" stroke-width="1.1"/>
<line x1="1238.1" y1="581.67" x2="1673" y2="581.67" stroke="#262626" stroke-opacity="0.15" stroke-width="1.1"/>
<line x1="1238.1" y1="520.33" x2="1673" y2="520.33" stroke="#262626" stroke-opacity="0.15" stroke-width="1.1"/>
<line x1="1238.1" y1="459" x2="1673" y2="459" stroke="#262626" stroke-opacity="0.15" stroke-width="1.1"/>
<defs><path id="br5" d="M1238.1,532.92L1240.27,532.54L1242.45,532.04L1244.62,531.46L1246.8,530.84L1248.97,530.19L1251.15,529.53L1253.32,528.86L1255.5,528.19L1257.67,527.5L1259.84,526.81L1262.02,526.12L1264.19,525.42L1266.37,524.71L1268.54,524L1270.72,523.28L1272.89,522.57L1275.07,521.86L1277.24,521.14L1279.42,520.44L1281.59,519.76L1283.76,519.1L1285.94,518.45L1288.11,517.82L1290.29,517.2L1292.46,516.6L1294.64,516.01L1296.81,515.43L1298.99,514.87L1301.16,514.31L1303.34,513.76L1305.51,513.21L1307.68,512.67L1309.86,512.12L1312.03,511.56L1314.21,510.99L1316.38,510.4L1318.56,509.79L1320.73,509.16L1322.91,508.51L1325.08,507.82L1327.25,507.11L1329.43,506.37L1331.6,505.62L1333.78,504.85L1335.95,504.07L1338.13,503.27L1340.3,502.48L1342.48,501.68L1344.65,500.85L1346.82,499.98L1349,499.06L1351.17,498.11L1353.35,497.13L1355.52,496.12L1357.7,495.09L1359.87,494.06L1362.05,493.01L1364.22,491.96L1366.4,490.89L1368.57,489.78L1370.74,488.64L1372.92,487.48L1375.09,486.31L1377.27,485.13L1379.44,483.97L1381.62,482.82L1383.79,481.71L1385.97,480.6L1388.14,479.49L1390.32,478.38L1392.49,477.29L1394.66,476.25L1396.84,475.26L1399.01,474.35L1401.19,473.54L1403.36,472.83L1405.54,472.25L1407.71,471.75L1409.89,471.31L1412.06,470.95L1414.23,470.68L1416.41,470.49L1418.58,470.41L1420.76,470.44L1422.93,470.57L1425.11,470.78L1427.28,471.06L1429.46,471.41L1431.63,471.84L1433.8,472.33L1435.98,472.89L1438.15,473.52L1440.33,474.24L1442.5,475.07L1444.68,475.99L1446.85,477.01L1449.03,478.09L1451.2,479.22L1453.38,480.4L1455.55,481.61L1457.72,482.85L1459.9,484.14L1462.07,485.48L1464.25,486.87L1466.42,488.34L1468.6,489.87L1470.77,491.48L1472.95,493.18L1475.12,494.95L1477.3,496.81L1479.47,498.77L1481.64,500.83L1483.82,502.99L1485.99,505.22L1488.17,507.49L1490.34,509.79L1492.52,512.09L1494.69,514.38L1496.87,516.65L1499.04,518.86L1501.21,521.06L1503.39,523.26L1505.56,525.46L1507.74,527.64L1509.91,529.8L1512.09,531.92L1514.26,534L1516.44,536L1518.61,537.93L1520.78,539.71L1522.96,541.27L1525.13,542.64L1527.31,543.87L1529.48,544.96L1531.66,545.96L1533.83,546.89L1536.01,547.77L1538.18,548.64L1540.36,549.53L1542.53,550.36L1544.7,551.1L1546.88,551.79L1549.05,552.42L1551.23,553.01L1553.4,553.58L1555.58,554.13L1557.75,554.68L1559.93,555.24L1562.1,555.79L1564.28,556.28L1566.45,556.74L1568.62,557.16L1570.8,557.54L1572.97,557.89L1575.15,558.22L1577.32,558.51L1579.5,558.78L1581.67,559.03L1583.85,559.24L1586.02,559.39L1588.19,559.47L1590.37,559.48L1592.54,559.42L1594.72,559.3L1596.89,559.11L1599.07,558.85L1601.24,558.53L1603.42,558.14L1605.59,557.69L1607.76,557.2L1609.94,556.66L1612.11,556.08L1614.29,555.46L1616.46,554.8L1618.64,554.11L1620.81,553.38L1622.99,552.61L1625.16,551.82L1627.34,551L1629.51,550.18L1631.68,549.34L1633.86,548.5L1636.03,547.65L1638.21,546.79L1640.38,545.92L1642.56,545.05L1644.73,544.16L1646.91,543.26L1649.08,542.36L1651.26,541.46L1653.43,540.57L1655.6,539.68L1657.78,538.78L1659.95,537.89L1662.13,537L1664.3,536.12L1666.48,535.26L1668.65,534.46L1670.83,533.79L1673,533.31L1673,594.64L1670.83,595.43L1668.65,596.41L1666.48,597.52L1664.3,598.71L1662.13,599.93L1659.95,601.17L1657.78,602.41L1655.6,603.67L1653.43,604.93L1651.26,606.2L1649.08,607.48L1646.91,608.77L1644.73,610.07L1642.56,611.39L1640.38,612.73L1638.21,614.07L1636.03,615.41L1633.86,616.73L1631.68,618.04L1629.51,619.31L1627.34,620.55L1625.16,621.74L1622.99,622.88L1620.81,623.99L1618.64,625.05L1616.46,626.06L1614.29,627.03L1612.11,627.94L1609.94,628.79L1607.76,629.59L1605.59,630.33L1603.42,631L1601.24,631.62L1599.07,632.17L1596.89,632.66L1594.72,633.08L1592.54,633.42L1590.37,633.66L1588.19,633.82L1586.02,633.86L1583.85,633.8L1581.67,633.61L1579.5,633.29L1577.32,632.8L1575.15,632.18L1572.97,631.43L1570.8,630.57L1568.62,629.61L1566.45,628.58L1564.28,627.48L1562.1,626.34L1559.93,625.16L1557.75,623.93L1555.58,622.6L1553.4,621.2L1551.23,619.71L1549.05,618.16L1546.88,616.53L1544.7,614.83L1542.53,613.07L1540.36,611.25L1538.18,609.36L1536.01,607.3L1533.83,605.12L1531.66,602.83L1529.48,600.49L1527.31,598.14L1525.13,595.82L1522.96,593.57L1520.78,591.43L1518.61,589.45L1516.44,587.6L1514.26,585.79L1512.09,584.02L1509.91,582.29L1507.74,580.58L1505.56,578.89L1503.39,577.2L1501.21,575.52L1499.04,573.82L1496.87,572.13L1494.69,570.5L1492.52,568.9L1490.34,567.33L1488.17,565.78L1485.99,564.25L1483.82,562.73L1481.64,561.2L1479.47,559.68L1477.3,558.14L1475.12,556.61L1472.95,555.12L1470.77,553.68L1468.6,552.3L1466.42,550.97L1464.25,549.71L1462.07,548.52L1459.9,547.4L1457.72,546.36L1455.55,545.39L1453.38,544.52L1451.2,543.75L1449.03,543.05L1446.85,542.41L1444.68,541.83L1442.5,541.28L1440.33,540.76L1438.15,540.25L1435.98,539.77L1433.8,539.34L1431.63,538.97L1429.46,538.66L1427.28,538.39L1425.11,538.18L1422.93,538.02L1420.76,537.91L1418.58,537.82L1416.41,537.75L1414.23,537.7L1412.06,537.67L1409.89,537.68L1407.71,537.73L1405.54,537.83L1403.36,537.96L1401.19,538.06L1399.01,538.14L1396.84,538.22L1394.66,538.29L1392.49,538.36L1390.32,538.45L1388.14,538.56L1385.97,538.7L1383.79,538.87L1381.62,539.06L1379.44,539.22L1377.27,539.38L1375.09,539.54L1372.92,539.69L1370.74,539.87L1368.57,540.06L1366.4,540.28L1364.22,540.54L1362.05,540.81L1359.87,541.08L1357.7,541.35L1355.52,541.63L1353.35,541.93L1351.17,542.25L1349,542.59L1346.82,542.97L1344.65,543.4L1342.48,543.87L1340.3,544.38L1338.13,544.88L1335.95,545.4L1333.78,545.92L1331.6,546.46L1329.43,547.01L1327.25,547.58L1325.08,548.16L1322.91,548.77L1320.73,549.4L1318.56,550.05L1316.38,550.72L1314.21,551.42L1312.03,552.13L1309.86,552.86L1307.68,553.61L1305.51,554.38L1303.34,555.17L1301.16,555.98L1298.99,556.8L1296.81,557.64L1294.64,558.5L1292.46,559.37L1290.29,560.25L1288.11,561.14L1285.94,562.03L1283.76,562.92L1281.59,563.8L1279.42,564.68L1277.24,565.55L1275.07,566.41L1272.89,567.28L1270.72,568.14L1268.54,569L1266.37,569.85L1264.19,570.69L1262.02,571.53L1259.84,572.36L1257.67,573.17L1255.5,573.98L1253.32,574.77L1251.15,575.55L1248.97,576.32L1246.8,577.08L1244.62,577.81L1242.45,578.48L1240.27,579.07L1238.1,579.53Z"/><path id="bg5" d="M1238.1,528.16L1240.27,526.42L1242.45,524.45L1244.62,522.35L1246.8,520.18L1248.97,518.03L1251.15,515.91L1253.32,513.84L1255.5,511.83L1257.67,509.88L1259.84,507.95L1262.02,506.01L1264.19,504.1L1266.37,502.21L1268.54,500.38L1270.72,498.62L1272.89,496.95L1275.07,495.39L1277.24,493.95L1279.42,492.64L1281.59,491.4L1283.76,490.23L1285.94,489.1L1288.11,488.02L1290.29,486.98L1292.46,485.97L1294.64,484.98L1296.81,484L1298.99,483.03L1301.16,482.08L1303.34,481.17L1305.51,480.29L1307.68,479.43L1309.86,478.59L1312.03,477.76L1314.21,476.92L1316.38,476.08L1318.56,475.23L1320.73,474.36L1322.91,473.47L1325.08,472.61L1327.25,471.75L1329.43,470.89L1331.6,470.03L1333.78,469.16L1335.95,468.28L1338.13,467.37L1340.3,466.44L1342.48,465.48L1344.65,464.48L1346.82,463.45L1349,462.4L1351.17,461.32L1353.35,460.24L1355.52,459.14L1357.7,458.05L1359.87,456.95L1362.05,455.87L1364.22,454.79L1366.4,453.72L1368.57,452.63L1370.74,451.53L1372.92,450.42L1375.09,449.3L1377.27,448.17L1379.44,447.04L1381.62,445.91L1383.79,444.77L1385.97,443.62L1388.14,442.43L1390.32,441.22L1392.49,440.02L1394.66,438.85L1396.84,437.73L1399.01,436.69L1401.19,435.74L1403.36,434.92L1405.54,434.24L1407.71,433.66L1409.89,433.18L1412.06,432.79L1414.23,432.51L1416.41,432.35L1418.58,432.33L1420.76,432.43L1422.93,432.8L1425.11,433.53L1427.28,434.54L1429.46,435.79L1431.63,437.2L1433.8,438.72L1435.98,440.28L1438.15,441.82L1440.33,443.42L1442.5,445.14L1444.68,446.97L1446.85,448.88L1449.03,450.84L1451.2,452.83L1453.38,454.82L1455.55,456.78L1457.72,458.75L1459.9,460.81L1462.07,462.93L1464.25,465.13L1466.42,467.38L1468.6,469.68L1470.77,472.02L1472.95,474.39L1475.12,476.79L1477.3,479.21L1479.47,481.61L1481.64,483.97L1483.82,486.28L1485.99,488.57L1488.17,490.84L1490.34,493.12L1492.52,495.42L1494.69,497.73L1496.87,500.09L1499.04,502.49L1501.21,504.85L1503.39,507.1L1505.56,509.26L1507.74,511.36L1509.91,513.43L1512.09,515.48L1514.26,517.53L1516.44,519.62L1518.61,521.76L1520.78,523.9L1522.96,525.98L1525.13,528L1527.31,529.95L1529.48,531.83L1531.66,533.64L1533.83,535.39L1536.01,537.06L1538.18,538.67L1540.36,540.21L1542.53,541.63L1544.7,542.92L1546.88,544.12L1549.05,545.23L1551.23,546.29L1553.4,547.31L1555.58,548.33L1557.75,549.36L1559.93,550.42L1562.1,551.48L1564.28,552.48L1566.45,553.42L1568.62,554.3L1570.8,555.09L1572.97,555.8L1575.15,556.41L1577.32,556.92L1579.5,557.32L1581.67,557.59L1583.85,557.75L1586.02,557.8L1588.19,557.74L1590.37,557.57L1592.54,557.29L1594.72,556.9L1596.89,556.4L1599.07,555.8L1601.24,555.1L1603.42,554.29L1605.59,553.4L1607.76,552.45L1609.94,551.43L1612.11,550.36L1614.29,549.24L1616.46,548.08L1618.64,546.88L1620.81,545.66L1622.99,544.41L1625.16,543.15L1627.34,541.88L1629.51,540.63L1631.68,539.39L1633.86,538.17L1636.03,536.96L1638.21,535.77L1640.38,534.6L1642.56,533.45L1644.73,532.31L1646.91,531.18L1649.08,530.15L1651.26,529.24L1653.43,528.39L1655.6,527.54L1657.78,526.63L1659.95,525.59L1662.13,524.36L1664.3,522.89L1666.48,521.17L1668.65,519.36L1670.83,517.67L1673,516.2L1673,588.08L1670.83,589.09L1668.65,590.56L1666.48,592.32L1664.3,594.33L1662.13,596.59L1659.95,599L1657.78,601.49L1655.6,604.03L1653.43,606.56L1651.26,609.03L1649.08,611.4L1646.91,613.62L1644.73,615.74L1642.56,617.85L1640.38,619.95L1638.21,622.04L1636.03,624.1L1633.86,626.14L1631.68,628.15L1629.51,630.12L1627.34,632.04L1625.16,633.92L1622.99,635.75L1620.81,637.54L1618.64,639.29L1616.46,640.98L1614.29,642.6L1612.11,644.16L1609.94,645.63L1607.76,647.02L1605.59,648.3L1603.42,649.48L1601.24,650.56L1599.07,651.54L1596.89,652.41L1594.72,653.17L1592.54,653.8L1590.37,654.29L1588.19,654.64L1586.02,654.83L1583.85,654.87L1581.67,654.74L1579.5,654.46L1577.32,654.03L1575.15,653.47L1572.97,652.78L1570.8,651.97L1568.62,651.07L1566.45,650.07L1564.28,648.98L1562.1,647.82L1559.93,646.59L1557.75,645.24L1555.58,643.72L1553.4,642.05L1551.23,640.22L1549.05,638.25L1546.88,636.13L1544.7,633.88L1542.53,631.49L1540.36,628.97L1538.18,626.31L1536.01,623.46L1533.83,620.4L1531.66,617.18L1529.48,613.79L1527.31,610.27L1525.13,606.65L1522.96,602.94L1520.78,599.17L1518.61,595.36L1516.44,591.48L1514.26,587.49L1512.09,583.45L1509.91,579.38L1507.74,575.34L1505.56,571.35L1503.39,567.46L1501.21,563.71L1499.04,560.14L1496.87,556.69L1494.69,553.28L1492.52,549.94L1490.34,546.68L1488.17,543.51L1485.99,540.45L1483.82,537.5L1481.64,534.69L1479.47,532.02L1477.3,529.5L1475.12,527.11L1472.95,524.81L1470.77,522.58L1468.6,520.44L1466.42,518.39L1464.25,516.42L1462.07,514.55L1459.9,512.77L1457.72,511.1L1455.55,509.52L1453.38,508.13L1451.2,506.96L1449.03,506L1446.85,505.21L1444.68,504.57L1442.5,504.03L1440.33,503.57L1438.15,503.16L1435.98,502.87L1433.8,502.76L1431.63,502.79L1429.46,502.9L1427.28,503.04L1425.11,503.15L1422.93,503.18L1420.76,503.09L1418.58,502.96L1416.41,502.91L1414.23,502.96L1412.06,503.09L1409.89,503.3L1407.71,503.59L1405.54,503.96L1403.36,504.36L1401.19,504.75L1399.01,505.14L1396.84,505.52L1394.66,505.92L1392.49,506.33L1390.32,506.76L1388.14,507.23L1385.97,507.75L1383.79,508.32L1381.62,508.91L1379.44,509.52L1377.27,510.12L1375.09,510.74L1372.92,511.38L1370.74,512.03L1368.57,512.71L1366.4,513.42L1364.22,514.16L1362.05,514.93L1359.87,515.71L1357.7,516.5L1355.52,517.3L1353.35,518.13L1351.17,518.98L1349,519.85L1346.82,520.75L1344.65,521.68L1342.48,522.64L1340.3,523.64L1338.13,524.67L1335.95,525.74L1333.78,526.83L1331.6,527.94L1329.43,529.07L1327.25,530.22L1325.08,531.38L1322.91,532.55L1320.73,533.73L1318.56,534.93L1316.38,536.17L1314.21,537.45L1312.03,538.75L1309.86,540.07L1307.68,541.39L1305.51,542.71L1303.34,544.02L1301.16,545.31L1298.99,546.57L1296.81,547.82L1294.64,549.08L1292.46,550.35L1290.29,551.63L1288.11,552.92L1285.94,554.21L1283.76,555.52L1281.59,556.82L1279.42,558.14L1277.24,559.44L1275.07,560.69L1272.89,561.87L1270.72,563L1268.54,564.09L1266.37,565.14L1264.19,566.17L1262.02,567.18L1259.84,568.18L1257.67,569.19L1255.5,570.18L1253.32,571.09L1251.15,571.94L1248.97,572.71L1246.8,573.42L1244.62,574.04L1242.45,574.52L1240.27,574.79L1238.1,574.78Z"/>
<mask id="mA5" maskUnits="userSpaceOnUse" x="0" y="0" width="1698" height="1145"><use href="#br5" fill="#fff"/><use href="#bg5" fill="#000"/></mask>
<mask id="mB5" maskUnits="userSpaceOnUse" x="0" y="0" width="1698" height="1145"><use href="#bg5" fill="#fff"/><use href="#br5" fill="#000"/></mask>
<clipPath id="cC5"><use href="#br5"/></clipPath></defs>
<use href="#br5" fill="rgb(232,200,200)" mask="url(#mA5)" style="mix-blend-mode:multiply"/>
<path d="M1238.1,556.22L1240.27,555.8L1242.45,555.26L1244.62,554.63L1246.8,553.96L1248.97,553.25L1251.15,552.54L1253.32,551.82L1255.5,551.08L1257.67,550.34L1259.84,549.59L1262.02,548.82L1264.19,548.05L1266.37,547.28L1268.54,546.5L1270.72,545.71L1272.89,544.92L1275.07,544.13L1277.24,543.35L1279.42,542.56L1281.59,541.78L1283.76,541.01L1285.94,540.24L1288.11,539.48L1290.29,538.73L1292.46,537.99L1294.64,537.26L1296.81,536.54L1298.99,535.83L1301.16,535.14L1303.34,534.46L1305.51,533.8L1307.68,533.14L1309.86,532.49L1312.03,531.84L1314.21,531.2L1316.38,530.56L1318.56,529.92L1320.73,529.28L1322.91,528.64L1325.08,527.99L1327.25,527.34L1329.43,526.69L1331.6,526.04L1333.78,525.39L1335.95,524.73L1338.13,524.08L1340.3,523.43L1342.48,522.77L1344.65,522.12L1346.82,521.47L1349,520.83L1351.17,520.18L1353.35,519.53L1355.52,518.88L1357.7,518.22L1359.87,517.57L1362.05,516.91L1364.22,516.25L1366.4,515.59L1368.57,514.92L1370.74,514.25L1372.92,513.59L1375.09,512.92L1377.27,512.26L1379.44,511.6L1381.62,510.94L1383.79,510.29L1385.97,509.65L1388.14,509.03L1390.32,508.42L1392.49,507.83L1394.66,507.27L1396.84,506.74L1399.01,506.25L1401.19,505.8L1403.36,505.4L1405.54,505.04L1407.71,504.74L1409.89,504.5L1412.06,504.31L1414.23,504.19L1416.41,504.12L1418.58,504.12L1420.76,504.18L1422.93,504.3L1425.11,504.48L1427.28,504.73L1429.46,505.03L1431.63,505.4L1433.8,505.84L1435.98,506.33L1438.15,506.88L1440.33,507.5L1442.5,508.18L1444.68,508.91L1446.85,509.71L1449.03,510.57L1451.2,511.48L1453.38,512.46L1455.55,513.5L1457.72,514.6L1459.9,515.77L1462.07,517L1464.25,518.29L1466.42,519.65L1468.6,521.08L1470.77,522.58L1472.95,524.15L1475.12,525.78L1477.3,527.47L1479.47,529.22L1481.64,531.02L1483.82,532.86L1485.99,534.73L1488.17,536.64L1490.34,538.56L1492.52,540.49L1494.69,542.44L1496.87,544.39L1499.04,546.34L1501.21,548.29L1503.39,550.23L1505.56,552.17L1507.74,554.11L1509.91,556.04L1512.09,557.97L1514.26,559.89L1516.44,561.8L1518.61,563.69L1520.78,565.57L1522.96,567.42L1525.13,569.23L1527.31,571L1529.48,572.73L1531.66,574.4L1533.83,576L1536.01,577.54L1538.18,579L1540.36,580.39L1542.53,581.71L1544.7,582.97L1546.88,584.16L1549.05,585.29L1551.23,586.36L1553.4,587.39L1555.58,588.37L1557.75,589.3L1559.93,590.2L1562.1,591.06L1564.28,591.88L1566.45,592.66L1568.62,593.38L1570.8,594.05L1572.97,594.66L1575.15,595.2L1577.32,595.66L1579.5,596.03L1581.67,596.32L1583.85,596.52L1586.02,596.62L1588.19,596.64L1590.37,596.57L1592.54,596.42L1594.72,596.19L1596.89,595.89L1599.07,595.51L1601.24,595.07L1603.42,594.57L1605.59,594.01L1607.76,593.4L1609.94,592.73L1612.11,592.01L1614.29,591.24L1616.46,590.43L1618.64,589.58L1620.81,588.68L1622.99,587.75L1625.16,586.78L1627.34,585.77L1629.51,584.74L1631.68,583.69L1633.86,582.62L1636.03,581.53L1638.21,580.43L1640.38,579.33L1642.56,578.22L1644.73,577.12L1646.91,576.01L1649.08,574.92L1651.26,573.83L1653.43,572.75L1655.6,571.67L1657.78,570.6L1659.95,569.53L1662.13,568.47L1664.3,567.41L1666.48,566.39L1668.65,565.44L1670.83,564.61L1673,563.97" fill="none" stroke="rgb(191,48,48)" stroke-width="6.0" stroke-linejoin="round"/>
<use href="#bg5" fill="rgb(213,232,193)" mask="url(#mB5)" style="mix-blend-mode:multiply"/>
<use href="#bg5" fill="rgb(207,213,163)" clip-path="url(#cC5)" style="mix-blend-mode:multiply"/>
<path d="M1238.1,556.22L1240.27,555.8L1242.45,555.26L1244.62,554.63L1246.8,553.96L1248.97,553.25L1251.15,552.54L1253.32,551.82L1255.5,551.08L1257.67,550.34L1259.84,549.59L1262.02,548.82L1264.19,548.05L1266.37,547.28L1268.54,546.5L1270.72,545.71L1272.89,544.92L1275.07,544.13L1277.24,543.35L1279.42,542.56L1281.59,541.78L1283.76,541.01L1285.94,540.24L1288.11,539.48L1290.29,538.73L1292.46,537.99L1294.64,537.26L1296.81,536.54L1298.99,535.83L1301.16,535.14L1303.34,534.46L1305.51,533.8L1307.68,533.14L1309.86,532.49L1312.03,531.84L1314.21,531.2L1316.38,530.56L1318.56,529.92L1320.73,529.28L1322.91,528.64L1325.08,527.99L1327.25,527.34L1329.43,526.69L1331.6,526.04L1333.78,525.39L1335.95,524.73L1338.13,524.08L1340.3,523.43L1342.48,522.77L1344.65,522.12L1346.82,521.47L1349,520.83L1351.17,520.18L1353.35,519.53L1355.52,518.88L1357.7,518.22L1359.87,517.57L1362.05,516.91L1364.22,516.25L1366.4,515.59L1368.57,514.92L1370.74,514.25L1372.92,513.59L1375.09,512.92L1377.27,512.26L1379.44,511.6L1381.62,510.94L1383.79,510.29L1385.97,509.65L1388.14,509.03L1390.32,508.42L1392.49,507.83L1394.66,507.27L1396.84,506.74L1399.01,506.25L1401.19,505.8L1403.36,505.4L1405.54,505.04L1407.71,504.74L1409.89,504.5L1412.06,504.31L1414.23,504.19L1416.41,504.12L1418.58,504.12L1420.76,504.18L1422.93,504.3L1425.11,504.48L1427.28,504.73L1429.46,505.03L1431.63,505.4L1433.8,505.84L1435.98,506.33L1438.15,506.88L1440.33,507.5L1442.5,508.18L1444.68,508.91L1446.85,509.71L1449.03,510.57L1451.2,511.48L1453.38,512.46L1455.55,513.5L1457.72,514.6L1459.9,515.77L1462.07,517L1464.25,518.29L1466.42,519.65L1468.6,521.08L1470.77,522.58L1472.95,524.15L1475.12,525.78L1477.3,527.47L1479.47,529.22L1481.64,531.02L1483.82,532.86L1485.99,534.73L1488.17,536.64L1490.34,538.56L1492.52,540.49L1494.69,542.44L1496.87,544.39L1499.04,546.34L1501.21,548.29L1503.39,550.23L1505.56,552.17L1507.74,554.11L1509.91,556.04L1512.09,557.97L1514.26,559.89L1516.44,561.8L1518.61,563.69L1520.78,565.57L1522.96,567.42L1525.13,569.23L1527.31,571L1529.48,572.73L1531.66,574.4L1533.83,576L1536.01,577.54L1538.18,579L1540.36,580.39L1542.53,581.71L1544.7,582.97L1546.88,584.16L1549.05,585.29L1551.23,586.36L1553.4,587.39L1555.58,588.37L1557.75,589.3L1559.93,590.2L1562.1,591.06L1564.28,591.88L1566.45,592.66L1568.62,593.38L1570.8,594.05L1572.97,594.66L1575.15,595.2L1577.32,595.66L1579.5,596.03L1581.67,596.32L1583.85,596.52L1586.02,596.62L1588.19,596.64L1590.37,596.57L1592.54,596.42L1594.72,596.19L1596.89,595.89L1599.07,595.51L1601.24,595.07L1603.42,594.57L1605.59,594.01L1607.76,593.4L1609.94,592.73L1612.11,592.01L1614.29,591.24L1616.46,590.43L1618.64,589.58L1620.81,588.68L1622.99,587.75L1625.16,586.78L1627.34,585.77L1629.51,584.74L1631.68,583.69L1633.86,582.62L1636.03,581.53L1638.21,580.43L1640.38,579.33L1642.56,578.22L1644.73,577.12L1646.91,576.01L1649.08,574.92L1651.26,573.83L1653.43,572.75L1655.6,571.67L1657.78,570.6L1659.95,569.53L1662.13,568.47L1664.3,567.41L1666.48,566.39L1668.65,565.44L1670.83,564.61L1673,563.97" fill="none" stroke="rgb(191,48,48)" stroke-width="6.0" stroke-linejoin="round" stroke-opacity="0.5"/>
<path d="M1238.1,551.47L1240.27,550.61L1242.45,549.49L1244.62,548.19L1246.8,546.8L1248.97,545.37L1251.15,543.92L1253.32,542.46L1255.5,541L1257.67,539.53L1259.84,538.07L1262.02,536.6L1264.19,535.13L1266.37,533.68L1268.54,532.24L1270.72,530.81L1272.89,529.41L1275.07,528.04L1277.24,526.7L1279.42,525.39L1281.59,524.11L1283.76,522.87L1285.94,521.66L1288.11,520.47L1290.29,519.31L1292.46,518.16L1294.64,517.03L1296.81,515.91L1298.99,514.8L1301.16,513.69L1303.34,512.6L1305.51,511.5L1307.68,510.41L1309.86,509.33L1312.03,508.25L1314.21,507.19L1316.38,506.13L1318.56,505.08L1320.73,504.04L1322.91,503.01L1325.08,501.99L1327.25,500.98L1329.43,499.98L1331.6,498.98L1333.78,497.99L1335.95,497.01L1338.13,496.02L1340.3,495.04L1342.48,494.06L1344.65,493.08L1346.82,492.1L1349,491.12L1351.17,490.15L1353.35,489.18L1355.52,488.22L1357.7,487.27L1359.87,486.33L1362.05,485.4L1364.22,484.48L1366.4,483.57L1368.57,482.67L1370.74,481.78L1372.92,480.9L1375.09,480.02L1377.27,479.15L1379.44,478.28L1381.62,477.41L1383.79,476.55L1385.97,475.68L1388.14,474.83L1390.32,473.99L1392.49,473.17L1394.66,472.38L1396.84,471.63L1399.01,470.91L1401.19,470.25L1403.36,469.64L1405.54,469.1L1407.71,468.63L1409.89,468.24L1412.06,467.94L1414.23,467.73L1416.41,467.63L1418.58,467.64L1420.76,467.76L1422.93,467.99L1425.11,468.34L1427.28,468.79L1429.46,469.35L1431.63,470L1433.8,470.74L1435.98,471.57L1438.15,472.49L1440.33,473.49L1442.5,474.59L1444.68,475.77L1446.85,477.05L1449.03,478.42L1451.2,479.9L1453.38,481.47L1455.55,483.15L1457.72,484.92L1459.9,486.79L1462.07,488.74L1464.25,490.77L1466.42,492.88L1468.6,495.06L1470.77,497.3L1472.95,499.6L1475.12,501.95L1477.3,504.36L1479.47,506.82L1481.64,509.33L1483.82,511.89L1485.99,514.51L1488.17,517.18L1490.34,519.9L1492.52,522.68L1494.69,525.51L1496.87,528.39L1499.04,531.32L1501.21,534.28L1503.39,537.28L1505.56,540.31L1507.74,543.35L1509.91,546.4L1512.09,549.46L1514.26,552.51L1516.44,555.55L1518.61,558.56L1520.78,561.53L1522.96,564.46L1525.13,567.32L1527.31,570.11L1529.48,572.81L1531.66,575.41L1533.83,577.9L1536.01,580.26L1538.18,582.49L1540.36,584.59L1542.53,586.56L1544.7,588.4L1546.88,590.12L1549.05,591.74L1551.23,593.25L1553.4,594.68L1555.58,596.03L1557.75,597.3L1559.93,598.51L1562.1,599.65L1564.28,600.73L1566.45,601.74L1568.62,602.68L1570.8,603.53L1572.97,604.29L1575.15,604.94L1577.32,605.47L1579.5,605.89L1581.67,606.17L1583.85,606.31L1586.02,606.32L1588.19,606.19L1590.37,605.93L1592.54,605.54L1594.72,605.03L1596.89,604.41L1599.07,603.67L1601.24,602.83L1603.42,601.89L1605.59,600.85L1607.76,599.73L1609.94,598.53L1612.11,597.26L1614.29,595.92L1616.46,594.53L1618.64,593.09L1620.81,591.6L1622.99,590.08L1625.16,588.53L1627.34,586.96L1629.51,585.37L1631.68,583.77L1633.86,582.15L1636.03,580.53L1638.21,578.9L1640.38,577.28L1642.56,575.65L1644.73,574.02L1646.91,572.4L1649.08,570.77L1651.26,569.13L1653.43,567.47L1655.6,565.79L1657.78,564.06L1659.95,562.29L1662.13,560.47L1664.3,558.61L1666.48,556.74L1668.65,554.96L1670.83,553.38L1673,552.14" fill="none" stroke="rgb(126,182,81)" stroke-width="6.0" stroke-linejoin="round"/>
</g>
<rect x="1238.1" y="429.3" width="434.9" height="243.9" fill="none" stroke="#474c51" stroke-width="1.9" rx="0.8"/>
<path d="M1238.1,673.2v-4.4M1238.1,429.3v4.4M1325.08,673.2v-4.4M1325.08,429.3v4.4M1412.06,673.2v-4.4M1412.06,429.3v4.4M1499.04,673.2v-4.4M1499.04,429.3v4.4M1586.02,673.2v-4.4M1586.02,429.3v4.4M1673,673.2v-4.4M1673,429.3v4.4M1238.1,643h4.4M1673,643h-4.4M1238.1,581.67h4.4M1673,581.67h-4.4M1238.1,520.33h4.4M1673,520.33h-4.4M1238.1,459h4.4M1673,459h-4.4" stroke="#474c51" stroke-width="1.6" fill="none"/>
<text x="1238.1" y="709.3" font-size="25.7" fill="#45494e" text-anchor="middle">0</text>
<text x="1325.08" y="709.3" font-size="25.7" fill="#45494e" text-anchor="middle">20</text>
<text x="1412.06" y="709.3" font-size="25.7" fill="#45494e" text-anchor="middle">40</text>
<text x="1499.04" y="709.3" font-size="25.7" fill="#45494e" text-anchor="middle">60</text>
<text x="1586.02" y="709.3" font-size="25.7" fill="#45494e" text-anchor="middle">80</text>
<text x="1673" y="709.3" font-size="25.7" fill="#45494e" text-anchor="middle">100</text>
<text x="1227.4" y="654.8" font-size="25.7" fill="#45494e" text-anchor="end">-15</text>
<text x="1227.4" y="593.47" font-size="25.7" fill="#45494e" text-anchor="end">-10</text>
<text x="1227.4" y="532.13" font-size="25.7" fill="#45494e" text-anchor="end">-5</text>
<text x="1227.4" y="470.8" font-size="25.7" fill="#45494e" text-anchor="end">0</text>
<text x="1455.55" y="749.3" font-size="31.25" fill="#45494e" text-anchor="middle">gait cycle</text>
<text transform="translate(1178.4,551.25) rotate(-90)" font-size="31.25" fill="#45494e" text-anchor="middle">Degree</text>
<text x="1455.55" y="415.4" font-size="37.1" fill="#161616" text-anchor="middle">Knee int/extra</text>
<clipPath id="c6"><rect x="87" y="813.1" width="435" height="245.3"/></clipPath>
<g clip-path="url(#c6)">
<rect x="87" y="813.1" width="435" height="245.3" fill="#fff"/>
<rect x="87" y="813.1" width="176.18" height="245.3" fill="rgb(205,206,210)"/>
<rect x="289.27" y="813.1" width="130.94" height="245.3" fill="rgb(205,206,210)"/>
<rect x="498.94" y="813.1" width="23.06" height="245.3" fill="rgb(205,206,210)"/>
<line x1="87" y1="1012.1" x2="522" y2="1012.1" stroke="#262626" stroke-opacity="0.15" stroke-width="1.1"/>
<line x1="87" y1="951" x2="522" y2="951" stroke="#262626" stroke-opacity="0.15" stroke-width="1.1"/>
<line x1="87" y1="889.9" x2="522" y2="889.9" stroke="#262626" stroke-opacity="0.15" stroke-width="1.1"/>
<line x1="87" y1="828.8" x2="522" y2="828.8" stroke="#262626" stroke-opacity="0.15" stroke-width="1.1"/>
<defs><path id="br6" d="M87,958.29L89.17,958.56L91.35,958.94L93.53,959.37L95.7,959.81L97.88,960.2L100.05,960.51L102.22,960.74L104.4,960.87L106.58,960.89L108.75,960.82L110.92,960.66L113.1,960.41L115.28,960.1L117.45,959.72L119.62,959.28L121.8,958.79L123.97,958.23L126.15,957.61L128.32,956.91L130.5,956.11L132.68,955.21L134.85,954.2L137.03,953.07L139.2,951.83L141.38,950.49L143.55,949.08L145.72,947.61L147.9,946.11L150.07,944.62L152.25,943.15L154.43,941.71L156.6,940.28L158.78,938.86L160.95,937.42L163.12,935.94L165.3,934.39L167.47,932.75L169.65,931.03L171.82,929.22L174,927.32L176.18,925.37L178.35,923.38L180.53,921.35L182.7,919.32L184.88,917.29L187.05,915.26L189.22,913.25L191.4,911.25L193.57,909.26L195.75,907.28L197.93,905.31L200.1,903.35L202.28,901.39L204.45,899.44L206.62,897.48L208.8,895.52L210.97,893.55L213.15,891.57L215.32,889.59L217.5,887.6L219.68,885.61L221.85,883.64L224.03,881.69L226.2,879.78L228.38,877.93L230.55,876.16L232.72,874.49L234.9,872.92L237.07,871.46L239.25,870.1L241.43,868.87L243.6,867.76L245.78,866.74L247.95,865.8L250.12,864.9L252.3,864.04L254.47,863.19L256.65,862.35L258.82,861.53L261,860.74L263.18,860.04L265.35,859.48L267.52,859.05L269.7,858.75L271.88,858.58L274.05,858.52L276.23,858.55L278.4,858.68L280.57,858.89L282.75,859.23L284.93,859.73L287.1,860.42L289.27,861.29L291.45,862.32L293.62,863.46L295.8,864.67L297.98,865.87L300.15,867.03L302.32,868.2L304.5,869.44L306.68,870.85L308.85,872.51L311.02,874.46L313.2,876.72L315.38,879.26L317.55,882.05L319.73,885.04L321.9,888.19L324.07,891.44L326.25,894.76L328.43,898.09L330.6,901.43L332.77,904.75L334.95,908.04L337.12,911.32L339.3,914.6L341.48,917.9L343.65,921.21L345.82,924.52L348,927.84L350.18,931.11L352.35,934.29L354.52,937.37L356.7,940.35L358.88,943.23L361.05,946L363.23,948.69L365.4,951.31L367.57,953.85L369.75,956.31L371.93,958.67L374.1,960.92L376.27,963.03L378.45,964.97L380.62,966.72L382.8,968.24L384.98,969.53L387.15,970.62L389.32,971.47L391.5,972.06L393.68,972.38L395.85,972.42L398.02,972.18L400.2,971.71L402.38,971.02L404.55,970.13L406.73,969.08L408.9,967.88L411.07,966.57L413.25,965.18L415.43,963.76L417.6,962.35L419.77,960.93L421.95,959.49L424.12,958.05L426.3,956.61L428.48,955.17L430.65,953.73L432.82,952.26L435,950.79L437.18,949.32L439.35,947.87L441.52,946.45L443.7,945.09L445.88,943.84L448.05,942.72L450.23,941.74L452.4,940.89L454.57,940.17L456.75,939.55L458.93,939.04L461.1,938.62L463.27,938.28L465.45,938.02L467.62,937.82L469.8,937.67L471.98,937.55L474.15,937.46L476.32,937.41L478.5,937.46L480.68,937.6L482.85,937.82L485.02,938.14L487.2,938.55L489.38,939.05L491.55,939.63L493.73,940.29L495.9,940.98L498.07,941.71L500.25,942.44L502.43,943.17L504.6,943.88L506.77,944.58L508.95,945.26L511.12,945.93L513.3,946.59L515.48,947.23L517.65,947.81L519.83,948.29L522,948.63L522,971.97L519.83,971.4L517.65,970.72L515.48,969.95L513.3,969.16L511.12,968.36L508.95,967.58L506.77,966.81L504.6,966.05L502.43,965.3L500.25,964.56L498.07,963.84L495.9,963.16L493.73,962.53L491.55,961.96L489.38,961.49L487.2,961.12L485.02,960.86L482.85,960.72L480.68,960.67L478.5,960.74L476.32,960.9L474.15,961.16L471.98,961.58L469.8,962.18L467.62,962.98L465.45,963.96L463.27,965.1L461.1,966.4L458.93,967.85L456.75,969.43L454.57,971.14L452.4,972.95L450.23,974.86L448.05,976.85L445.88,978.91L443.7,981.02L441.52,983.19L439.35,985.42L437.18,987.69L435,989.97L432.82,992.23L430.65,994.46L428.48,996.64L426.3,998.77L424.12,1000.85L421.95,1002.87L419.77,1004.86L417.6,1006.8L415.43,1008.66L413.25,1010.39L411.07,1012L408.9,1013.47L406.73,1014.8L404.55,1015.97L402.38,1016.97L400.2,1017.79L398.02,1018.42L395.85,1018.85L393.68,1019.11L391.5,1019.17L389.32,1019.03L387.15,1018.65L384.98,1018.02L382.8,1017.12L380.62,1015.97L378.45,1014.63L376.27,1013.09L374.1,1011.37L371.93,1009.47L369.75,1007.39L367.57,1005.11L365.4,1002.63L363.23,999.91L361.05,996.95L358.88,993.76L356.7,990.37L354.52,986.8L352.35,983.11L350.18,979.32L348,975.5L345.82,971.65L343.65,967.77L341.48,963.87L339.3,959.97L337.12,956.06L334.95,952.14L332.77,948.19L330.6,944.2L328.43,940.15L326.25,936.06L324.07,931.96L321.9,927.9L319.73,923.95L317.55,920.17L315.38,916.63L313.2,913.38L311.02,910.45L308.85,907.85L306.68,905.56L304.5,903.54L302.32,901.69L300.15,899.94L297.98,898.2L295.8,896.44L293.62,894.64L291.45,892.84L289.27,891.13L287.1,889.6L284.93,888.31L282.75,887.3L280.57,886.59L278.4,886.19L276.23,886.09L274.05,886.26L271.88,886.68L269.7,887.31L267.52,888.12L265.35,889.09L263.18,890.16L261,891.29L258.82,892.49L256.65,893.74L254.47,895.03L252.3,896.32L250.12,897.62L247.95,898.93L245.78,900.24L243.6,901.57L241.43,902.93L239.25,904.32L237.07,905.79L234.9,907.35L232.72,909.02L230.55,910.8L228.38,912.66L226.2,914.59L224.03,916.58L221.85,918.61L219.68,920.66L217.5,922.71L215.32,924.76L213.15,926.8L210.97,928.82L208.8,930.83L206.62,932.83L204.45,934.82L202.28,936.8L200.1,938.77L197.93,940.75L195.75,942.72L193.57,944.69L191.4,946.66L189.22,948.64L187.05,950.62L184.88,952.6L182.7,954.59L180.53,956.56L178.35,958.52L176.18,960.45L174,962.33L171.82,964.15L169.65,965.88L167.47,967.53L165.3,969.08L163.12,970.55L160.95,971.95L158.78,973.31L156.6,974.65L154.43,976L152.25,977.37L150.07,978.76L147.9,980.18L145.72,981.61L143.55,983L141.38,984.35L139.2,985.61L137.03,986.77L134.85,987.81L132.68,988.74L130.5,989.54L128.32,990.24L126.15,990.84L123.97,991.35L121.8,991.78L119.62,992.14L117.45,992.43L115.28,992.65L113.1,992.78L110.92,992.83L108.75,992.79L106.58,992.64L104.4,992.39L102.22,992.02L100.05,991.54L97.88,990.96L95.7,990.3L93.53,989.59L91.35,988.86L89.17,988.19L87,987.61Z"/><path id="bg6" d="M87,962.85L89.17,962.98L91.35,963.2L93.53,963.47L95.7,963.74L97.88,964L100.05,964.22L102.22,964.39L104.4,964.5L106.58,964.53L108.75,964.46L110.92,964.31L113.1,964.08L115.28,963.81L117.45,963.49L119.62,963.14L121.8,962.78L123.97,962.39L126.15,961.96L128.32,961.44L130.5,960.84L132.68,960.12L134.85,959.29L137.03,958.31L139.2,957.2L141.38,955.94L143.55,954.57L145.72,953.13L147.9,951.65L150.07,950.18L152.25,948.73L154.43,947.34L156.6,946.02L158.78,944.75L160.95,943.49L163.12,942.22L165.3,940.93L167.47,939.6L169.65,938.22L171.82,936.77L174,935.25L176.18,933.68L178.35,932.06L180.53,930.41L182.7,928.71L184.88,926.99L187.05,925.24L189.22,923.46L191.4,921.66L193.57,919.86L195.75,918.05L197.93,916.24L200.1,914.43L202.28,912.61L204.45,910.8L206.62,908.98L208.8,907.16L210.97,905.33L213.15,903.49L215.32,901.65L217.5,899.8L219.68,897.94L221.85,896.07L224.03,894.2L226.2,892.33L228.38,890.47L230.55,888.64L232.72,886.85L234.9,885.12L237.07,883.47L239.25,881.91L241.43,880.46L243.6,879.14L245.78,878.03L247.95,877.16L250.12,876.51L252.3,876.05L254.47,875.74L256.65,875.54L258.82,875.39L261,875.25L263.18,875.17L265.35,875.23L267.52,875.41L269.7,875.71L271.88,876.12L274.05,876.63L276.23,877.12L278.4,877.5L280.57,877.81L282.75,878.08L284.93,878.38L287.1,878.79L289.27,879.32L291.45,880L293.62,880.96L295.8,882.26L297.98,883.96L300.15,886.04L302.32,888.35L304.5,890.75L306.68,893.25L308.85,895.86L311.02,898.61L313.2,901.55L315.38,904.73L317.55,908.21L319.73,911.87L321.9,915.55L324.07,919.24L326.25,922.95L328.43,926.69L330.6,930.47L332.77,934.29L334.95,938.14L337.12,942.05L339.3,946.03L341.48,950.05L343.65,954.08L345.82,958.09L348,962.04L350.18,965.89L352.35,969.6L354.52,973.25L356.7,976.89L358.88,980.45L361.05,983.88L363.23,987.13L365.4,990.12L367.57,992.87L369.75,995.41L371.93,997.7L374.1,999.72L376.27,1001.47L378.45,1002.93L380.62,1004.18L382.8,1005.23L384.98,1006.03L387.15,1006.54L389.32,1006.7L391.5,1006.56L393.68,1006.22L395.85,1005.72L398.02,1005.07L400.2,1004.25L402.38,1003.22L404.55,1001.9L406.73,1000.25L408.9,998.23L411.07,995.86L413.25,993.22L415.43,990.35L417.6,987.33L419.77,984.29L421.95,981.31L424.12,978.45L426.3,975.74L428.48,973.11L430.65,970.49L432.82,967.88L435,965.3L437.18,962.78L439.35,960.34L441.52,958.05L443.7,955.96L445.88,954.04L448.05,952.24L450.23,950.56L452.4,949.02L454.57,947.6L456.75,946.29L458.93,945.1L461.1,944.02L463.27,943.05L465.45,942.2L467.62,941.46L469.8,940.84L471.98,940.36L474.15,940.05L476.32,939.88L478.5,939.85L480.68,939.95L482.85,940.17L485.02,940.48L487.2,940.88L489.38,941.4L491.55,942.06L493.73,942.83L495.9,943.69L498.07,944.6L500.25,945.51L502.43,946.39L504.6,947.19L506.77,947.93L508.95,948.62L511.12,949.26L513.3,949.85L515.48,950.37L517.65,950.83L519.83,951.18L522,951.44L522,981.01L519.83,980.79L517.65,980.52L515.48,980.22L513.3,979.88L511.12,979.52L508.95,979.12L506.77,978.69L504.6,978.23L502.43,977.78L500.25,977.4L498.07,977.07L495.9,976.81L493.73,976.61L491.55,976.47L489.38,976.38L487.2,976.32L485.02,976.32L482.85,976.43L480.68,976.63L478.5,976.91L476.32,977.27L474.15,977.69L471.98,978.18L469.8,978.72L467.62,979.33L465.45,980.04L463.27,980.85L461.1,981.75L458.93,982.75L456.75,983.84L454.57,985.04L452.4,986.33L450.23,987.74L448.05,989.25L445.88,990.88L443.7,992.62L441.52,994.39L439.35,996.13L437.18,997.84L435,999.51L432.82,1001.16L430.65,1002.81L428.48,1004.5L426.3,1006.29L424.12,1008.17L421.95,1010.13L419.77,1012.21L417.6,1014.39L415.43,1016.64L413.25,1018.88L411.07,1020.99L408.9,1022.85L406.73,1024.42L404.55,1025.68L402.38,1026.68L400.2,1027.47L398.02,1028.1L395.85,1028.59L393.68,1028.96L391.5,1029.2L389.32,1029.3L387.15,1029.34L384.98,1029.35L382.8,1029.27L380.62,1029.04L378.45,1028.6L376.27,1027.95L374.1,1027.15L371.93,1026.15L369.75,1024.94L367.57,1023.52L365.4,1021.89L363.23,1020.12L361.05,1018.24L358.88,1016.21L356.7,1013.98L354.52,1011.5L352.35,1008.71L350.18,1005.67L348,1002.48L345.82,999.15L343.65,995.7L341.48,992.14L339.3,988.48L337.12,984.74L334.95,980.91L332.77,977.04L330.6,973.16L328.43,969.27L326.25,965.39L324.07,961.5L321.9,957.6L319.73,953.69L317.55,949.76L315.38,945.65L313.2,941.26L311.02,936.66L308.85,931.94L306.68,927.21L304.5,922.58L302.32,918.18L300.15,914.15L297.98,910.51L295.8,907.25L293.62,904.41L291.45,902.01L289.27,900.01L287.1,898.34L284.93,896.85L282.75,895.45L280.57,894.14L278.4,892.97L276.23,892L274.05,891.3L271.88,890.79L269.7,890.38L267.52,890.08L265.35,889.89L263.18,889.83L261,889.92L258.82,890.26L256.65,890.94L254.47,891.93L252.3,893.19L250.12,894.68L247.95,896.33L245.78,898.1L243.6,899.92L241.43,901.8L239.25,903.78L237.07,905.85L234.9,907.99L232.72,910.16L230.55,912.37L228.38,914.57L226.2,916.77L224.03,918.95L221.85,921.12L219.68,923.26L217.5,925.39L215.32,927.49L213.15,929.58L210.97,931.65L208.8,933.7L206.62,935.74L204.45,937.77L202.28,939.79L200.1,941.79L197.93,943.79L195.75,945.79L193.57,947.78L191.4,949.77L189.22,951.76L187.05,953.73L184.88,955.69L182.7,957.61L180.53,959.47L178.35,961.27L176.18,962.97L174,964.58L171.82,966.1L169.65,967.54L167.47,968.93L165.3,970.25L163.12,971.54L160.95,972.81L158.78,974.08L156.6,975.35L154.43,976.62L152.25,977.87L150.07,979.12L147.9,980.37L145.72,981.62L143.55,982.87L141.38,984.1L139.2,985.3L137.03,986.47L134.85,987.58L132.68,988.62L130.5,989.56L128.32,990.38L126.15,991.09L123.97,991.67L121.8,992.11L119.62,992.38L117.45,992.48L115.28,992.43L113.1,992.27L110.92,991.99L108.75,991.64L106.58,991.22L104.4,990.77L102.22,990.28L100.05,989.73L97.88,989.13L95.7,988.49L93.53,987.83L91.35,987.18L89.17,986.58L87,986.07Z"/>
<mask id="mA6" maskUnits="userSpaceOnUse" x="0" y="0" width="1698" height="1145"><use href="#br6" fill="#fff"/><use href="#bg6" fill="#000"/></mask>
<mask id="mB6" maskUnits="userSpaceOnUse" x="0" y="0" width="1698" height="1145"><use href="#bg6" fill="#fff"/><use href="#br6" fill="#000"/></mask>
<clipPath id="cC6"><use href="#br6"/></clipPath></defs>
<use href="#br6" fill="rgb(232,200,200)" mask="url(#mA6)" style="mix-blend-mode:multiply"/>
<path d="M87,972.95L89.17,973.37L91.35,973.9L93.53,974.48L95.7,975.06L97.88,975.58L100.05,976.03L102.22,976.38L104.4,976.63L106.58,976.77L108.75,976.8L110.92,976.75L113.1,976.6L115.28,976.37L117.45,976.07L119.62,975.71L121.8,975.28L123.97,974.79L126.15,974.22L128.32,973.57L130.5,972.83L132.68,971.97L134.85,971.01L137.03,969.92L139.2,968.72L141.38,967.42L143.55,966.04L145.72,964.61L147.9,963.15L150.07,961.69L152.25,960.26L154.43,958.85L156.6,957.47L158.78,956.09L160.95,954.69L163.12,953.25L165.3,951.74L167.47,950.14L169.65,948.46L171.82,946.68L174,944.83L176.18,942.91L178.35,940.95L180.53,938.96L182.7,936.95L184.88,934.94L187.05,932.94L189.22,930.94L191.4,928.96L193.57,926.97L195.75,925L197.93,923.03L200.1,921.06L202.28,919.1L204.45,917.13L206.62,915.15L208.8,913.18L210.97,911.19L213.15,909.19L215.32,907.18L217.5,905.16L219.68,903.14L221.85,901.12L224.03,899.13L226.2,897.18L228.38,895.29L230.55,893.48L232.72,891.76L234.9,890.14L237.07,888.62L239.25,887.21L241.43,885.9L243.6,884.66L245.78,883.49L247.95,882.36L250.12,881.26L252.3,880.18L254.47,879.11L256.65,878.05L258.82,877.01L261,876.02L263.18,875.1L265.35,874.28L267.52,873.59L269.7,873.03L271.88,872.63L274.05,872.39L276.23,872.32L278.4,872.43L280.57,872.74L282.75,873.27L284.93,874.02L287.1,875.01L289.27,876.21L291.45,877.58L293.62,879.05L295.8,880.55L297.98,882.03L300.15,883.48L302.32,884.94L304.5,886.49L306.68,888.21L308.85,890.18L311.02,892.46L313.2,895.05L315.38,897.95L317.55,901.11L319.73,904.5L321.9,908.05L324.07,911.7L326.25,915.41L328.43,919.12L330.6,922.81L332.77,926.47L334.95,930.09L337.12,933.69L339.3,937.29L341.48,940.88L343.65,944.49L345.82,948.09L348,951.67L350.18,955.21L352.35,958.7L354.52,962.09L356.7,965.36L358.88,968.49L361.05,971.47L363.23,974.3L365.4,976.97L367.57,979.48L369.75,981.85L371.93,984.07L374.1,986.14L376.27,988.06L378.45,989.8L380.62,991.34L382.8,992.68L384.98,993.78L387.15,994.64L389.32,995.25L391.5,995.62L393.68,995.74L395.85,995.64L398.02,995.3L400.2,994.75L402.38,994L404.55,993.05L406.73,991.94L408.9,990.68L411.07,989.28L413.25,987.79L415.43,986.21L417.6,984.57L419.77,982.89L421.95,981.18L424.12,979.45L426.3,977.69L428.48,975.91L430.65,974.09L432.82,972.25L435,970.38L437.18,968.5L439.35,966.64L441.52,964.82L443.7,963.06L445.88,961.37L448.05,959.78L450.23,958.3L452.4,956.92L454.57,955.65L456.75,954.49L458.93,953.45L461.1,952.51L463.27,951.69L465.45,950.99L467.62,950.4L469.8,949.93L471.98,949.56L474.15,949.31L476.32,949.16L478.5,949.1L480.68,949.14L482.85,949.27L485.02,949.5L487.2,949.83L489.38,950.27L491.55,950.8L493.73,951.41L495.9,952.07L498.07,952.78L500.25,953.5L502.43,954.23L504.6,954.96L506.77,955.69L508.95,956.42L511.12,957.15L513.3,957.88L515.48,958.59L517.65,959.26L519.83,959.85L522,960.3" fill="none" stroke="rgb(191,48,48)" stroke-width="6.0" stroke-linejoin="round"/>
<use href="#bg6" fill="rgb(213,232,193)" mask="url(#mB6)" style="mix-blend-mode:multiply"/>
<use href="#bg6" fill="rgb(207,213,163)" clip-path="url(#cC6)" style="mix-blend-mode:multiply"/>
<path d="M87,972.95L89.17,973.37L91.35,973.9L93.53,974.48L95.7,975.06L97.88,975.58L100.05,976.03L102.22,976.38L104.4,976.63L106.58,976.77L108.75,976.8L110.92,976.75L113.1,976.6L115.28,976.37L117.45,976.07L119.62,975.71L121.8,975.28L123.97,974.79L126.15,974.22L128.32,973.57L130.5,972.83L132.68,971.97L134.85,971.01L137.03,969.92L139.2,968.72L141.38,967.42L143.55,966.04L145.72,964.61L147.9,963.15L150.07,961.69L152.25,960.26L154.43,958.85L156.6,957.47L158.78,956.09L160.95,954.69L163.12,953.25L165.3,951.74L167.47,950.14L169.65,948.46L171.82,946.68L174,944.83L176.18,942.91L178.35,940.95L180.53,938.96L182.7,936.95L184.88,934.94L187.05,932.94L189.22,930.94L191.4,928.96L193.57,926.97L195.75,925L197.93,923.03L200.1,921.06L202.28,919.1L204.45,917.13L206.62,915.15L208.8,913.18L210.97,911.19L213.15,909.19L215.32,907.18L217.5,905.16L219.68,903.14L221.85,901.12L224.03,899.13L226.2,897.18L228.38,895.29L230.55,893.48L232.72,891.76L234.9,890.14L237.07,888.62L239.25,887.21L241.43,885.9L243.6,884.66L245.78,883.49L247.95,882.36L250.12,881.26L252.3,880.18L254.47,879.11L256.65,878.05L258.82,877.01L261,876.02L263.18,875.1L265.35,874.28L267.52,873.59L269.7,873.03L271.88,872.63L274.05,872.39L276.23,872.32L278.4,872.43L280.57,872.74L282.75,873.27L284.93,874.02L287.1,875.01L289.27,876.21L291.45,877.58L293.62,879.05L295.8,880.55L297.98,882.03L300.15,883.48L302.32,884.94L304.5,886.49L306.68,888.21L308.85,890.18L311.02,892.46L313.2,895.05L315.38,897.95L317.55,901.11L319.73,904.5L321.9,908.05L324.07,911.7L326.25,915.41L328.43,919.12L330.6,922.81L332.77,926.47L334.95,930.09L337.12,933.69L339.3,937.29L341.48,940.88L343.65,944.49L345.82,948.09L348,951.67L350.18,955.21L352.35,958.7L354.52,962.09L356.7,965.36L358.88,968.49L361.05,971.47L363.23,974.3L365.4,976.97L367.57,979.48L369.75,981.85L371.93,984.07L374.1,986.14L376.27,988.06L378.45,989.8L380.62,991.34L382.8,992.68L384.98,993.78L387.15,994.64L389.32,995.25L391.5,995.62L393.68,995.74L395.85,995.64L398.02,995.3L400.2,994.75L402.38,994L404.55,993.05L406.73,991.94L408.9,990.68L411.07,989.28L413.25,987.79L415.43,986.21L417.6,984.57L419.77,982.89L421.95,981.18L424.12,979.45L426.3,977.69L428.48,975.91L430.65,974.09L432.82,972.25L435,970.38L437.18,968.5L439.35,966.64L441.52,964.82L443.7,963.06L445.88,961.37L448.05,959.78L450.23,958.3L452.4,956.92L454.57,955.65L456.75,954.49L458.93,953.45L461.1,952.51L463.27,951.69L465.45,950.99L467.62,950.4L469.8,949.93L471.98,949.56L474.15,949.31L476.32,949.16L478.5,949.1L480.68,949.14L482.85,949.27L485.02,949.5L487.2,949.83L489.38,950.27L491.55,950.8L493.73,951.41L495.9,952.07L498.07,952.78L500.25,953.5L502.43,954.23L504.6,954.96L506.77,955.69L508.95,956.42L511.12,957.15L513.3,957.88L515.48,958.59L517.65,959.26L519.83,959.85L522,960.3" fill="none" stroke="rgb(191,48,48)" stroke-width="6.0" stroke-linejoin="round" stroke-opacity="0.5"/>
<path d="M87,974.46L89.17,974.78L91.35,975.19L93.53,975.65L95.7,976.12L97.88,976.56L100.05,976.97L102.22,977.33L104.4,977.64L106.58,977.88L108.75,978.05L110.92,978.15L113.1,978.17L115.28,978.12L117.45,977.98L119.62,977.76L121.8,977.44L123.97,977.03L126.15,976.52L128.32,975.91L130.5,975.2L132.68,974.37L134.85,973.44L137.03,972.39L139.2,971.25L141.38,970.02L143.55,968.72L145.72,967.38L147.9,966.01L150.07,964.65L152.25,963.3L154.43,961.98L156.6,960.68L158.78,959.41L160.95,958.15L163.12,956.88L165.3,955.59L167.47,954.26L169.65,952.88L171.82,951.44L174,949.92L176.18,948.33L178.35,946.67L180.53,944.94L182.7,943.16L184.88,941.34L187.05,939.48L189.22,937.61L191.4,935.72L193.57,933.82L195.75,931.92L197.93,930.02L200.1,928.11L202.28,926.2L204.45,924.28L206.62,922.36L208.8,920.43L210.97,918.49L213.15,916.54L215.32,914.57L217.5,912.59L219.68,910.6L221.85,908.6L224.03,906.58L226.2,904.55L228.38,902.52L230.55,900.5L232.72,898.51L234.9,896.56L237.07,894.66L239.25,892.85L241.43,891.13L243.6,889.53L245.78,888.06L247.95,886.74L250.12,885.59L252.3,884.62L254.47,883.83L256.65,883.24L258.82,882.82L261,882.58L263.18,882.5L265.35,882.56L267.52,882.74L269.7,883.05L271.88,883.46L274.05,883.97L276.23,884.56L278.4,885.24L280.57,885.97L282.75,886.76L284.93,887.62L287.1,888.56L289.27,889.66L291.45,891.01L293.62,892.69L295.8,894.76L297.98,897.24L300.15,900.09L302.32,903.26L304.5,906.67L306.68,910.23L308.85,913.9L311.02,917.63L313.2,921.4L315.38,925.19L317.55,928.99L319.73,932.78L321.9,936.57L324.07,940.37L326.25,944.17L328.43,947.98L330.6,951.81L332.77,955.66L334.95,959.52L337.12,963.39L339.3,967.25L341.48,971.09L343.65,974.89L345.82,978.62L348,982.26L350.18,985.78L352.35,989.15L354.52,992.38L356.7,995.43L358.88,998.33L361.05,1001.06L363.23,1003.62L365.4,1006.01L367.57,1008.2L369.75,1010.18L371.93,1011.92L374.1,1013.43L376.27,1014.71L378.45,1015.76L380.62,1016.61L382.8,1017.25L384.98,1017.69L387.15,1017.94L389.32,1018L391.5,1017.88L393.68,1017.59L395.85,1017.16L398.02,1016.59L400.2,1015.86L402.38,1014.95L404.55,1013.79L406.73,1012.33L408.9,1010.54L411.07,1008.43L413.25,1006.05L415.43,1003.49L417.6,1000.86L419.77,998.25L421.95,995.72L424.12,993.31L426.3,991.01L428.48,988.8L430.65,986.65L432.82,984.52L435,982.41L437.18,980.31L439.35,978.24L441.52,976.22L443.7,974.29L445.88,972.46L448.05,970.74L450.23,969.15L452.4,967.68L454.57,966.32L456.75,965.07L458.93,963.92L461.1,962.89L463.27,961.95L465.45,961.12L467.62,960.4L469.8,959.78L471.98,959.27L474.15,958.87L476.32,958.57L478.5,958.38L480.68,958.29L482.85,958.3L485.02,958.4L487.2,958.6L489.38,958.89L491.55,959.27L493.73,959.72L495.9,960.25L498.07,960.84L500.25,961.45L502.43,962.09L504.6,962.71L506.77,963.31L508.95,963.87L511.12,964.39L513.3,964.87L515.48,965.3L517.65,965.67L519.83,965.99L522,966.22" fill="none" stroke="rgb(126,182,81)" stroke-width="6.0" stroke-linejoin="round"/>
</g>
<rect x="87" y="813.1" width="435" height="245.3" fill="none" stroke="#474c51" stroke-width="1.9" rx="0.8"/>
<path d="M87,1058.4v-4.4M87,813.1v4.4M174,1058.4v-4.4M174,813.1v4.4M261,1058.4v-4.4M261,813.1v4.4M348,1058.4v-4.4M348,813.1v4.4M435,1058.4v-4.4M435,813.1v4.4M522,1058.4v-4.4M522,813.1v4.4M87,1012.1h4.4M522,1012.1h-4.4M87,951h4.4M522,951h-4.4M87,889.9h4.4M522,889.9h-4.4M87,828.8h4.4M522,828.8h-4.4" stroke="#474c51" stroke-width="1.6" fill="none"/>
<text x="87" y="1094.5" font-size="25.7" fill="#45494e" text-anchor="middle">0</text>
<text x="174" y="1094.5" font-size="25.7" fill="#45494e" text-anchor="middle">20</text>
<text x="261" y="1094.5" font-size="25.7" fill="#45494e" text-anchor="middle">40</text>
<text x="348" y="1094.5" font-size="25.7" fill="#45494e" text-anchor="middle">60</text>
<text x="435" y="1094.5" font-size="25.7" fill="#45494e" text-anchor="middle">80</text>
<text x="522" y="1094.5" font-size="25.7" fill="#45494e" text-anchor="middle">100</text>
<text x="76.3" y="1023.9" font-size="25.7" fill="#45494e" text-anchor="end">-10</text>
<text x="76.3" y="962.8" font-size="25.7" fill="#45494e" text-anchor="end">0</text>
<text x="76.3" y="901.7" font-size="25.7" fill="#45494e" text-anchor="end">10</text>
<text x="76.3" y="840.6" font-size="25.7" fill="#45494e" text-anchor="end">20</text>
<text x="304.5" y="1134.5" font-size="31.25" fill="#45494e" text-anchor="middle">gait cycle</text>
<text transform="translate(26.5,935.75) rotate(-90)" font-size="31.25" fill="#45494e" text-anchor="middle">Degree</text>
<text x="304.5" y="799.2" font-size="37.1" fill="#161616" text-anchor="middle">Ankle dorsi-/plantarflexion</text>
<clipPath id="c7"><rect x="662" y="813.1" width="436.3" height="245.3"/></clipPath>
<g clip-path="url(#c7)">
<rect x="662" y="813.1" width="436.3" height="245.3" fill="#fff"/>
<rect x="662" y="813.1" width="40.14" height="245.3" fill="rgb(205,206,210)"/>
<rect x="864.88" y="813.1" width="65.44" height="245.3" fill="rgb(205,206,210)"/>
<rect x="1066.45" y="813.1" width="31.85" height="245.3" fill="rgb(205,206,210)"/>
<line x1="662" y1="1009.6" x2="1098.3" y2="1009.6" stroke="#262626" stroke-opacity="0.15" stroke-width="1.1"/>
<line x1="662" y1="960.35" x2="1098.3" y2="960.35" stroke="#262626" stroke-opacity="0.15" stroke-width="1.1"/>
<line x1="662" y1="911.1" x2="1098.3" y2="911.1" stroke="#262626" stroke-opacity="0.15" stroke-width="1.1"/>
<line x1="662" y1="861.85" x2="1098.3" y2="861.85" stroke="#262626" stroke-opacity="0.15" stroke-width="1.1"/>
<defs><path id="br7" d="M662,945.37L664.18,945.8L666.36,946.41L668.54,947.14L670.73,947.93L672.91,948.75L675.09,949.58L677.27,950.41L679.45,951.23L681.63,952.05L683.82,952.87L686,953.68L688.18,954.48L690.36,955.27L692.54,956.05L694.72,956.82L696.9,957.56L699.09,958.28L701.27,958.97L703.45,959.64L705.63,960.27L707.81,960.88L709.99,961.45L712.17,961.99L714.36,962.51L716.54,962.99L718.72,963.45L720.9,963.88L723.08,964.3L725.26,964.68L727.44,965.05L729.63,965.38L731.81,965.68L733.99,965.94L736.17,966.15L738.35,966.3L740.53,966.39L742.72,966.42L744.9,966.39L747.08,966.32L749.26,966.22L751.44,966.09L753.62,965.93L755.8,965.76L757.99,965.55L760.17,965.32L762.35,965.06L764.53,964.76L766.71,964.42L768.89,964.03L771.08,963.59L773.26,963.1L775.44,962.57L777.62,962L779.8,961.38L781.98,960.74L784.16,960.07L786.35,959.38L788.53,958.67L790.71,957.96L792.89,957.25L795.07,956.54L797.25,955.82L799.43,955.11L801.62,954.39L803.8,953.67L805.98,952.94L808.16,952.19L810.34,951.44L812.52,950.66L814.7,949.86L816.89,949.04L819.07,948.18L821.25,947.3L823.43,946.36L825.61,945.39L827.79,944.36L829.98,943.27L832.16,942.12L834.34,940.91L836.52,939.62L838.7,938.26L840.88,936.82L843.06,935.31L845.25,933.72L847.43,932.07L849.61,930.35L851.79,928.55L853.97,926.7L856.15,924.78L858.33,922.8L860.52,920.75L862.7,918.65L864.88,916.48L867.06,914.26L869.24,911.99L871.42,909.68L873.61,907.34L875.79,905L877.97,902.66L880.15,900.36L882.33,898.09L884.51,895.84L886.69,893.62L888.88,891.41L891.06,889.2L893.24,886.97L895.42,884.75L897.6,882.54L899.78,880.38L901.96,878.3L904.15,876.34L906.33,874.52L908.51,872.87L910.69,871.38L912.87,870.07L915.05,868.91L917.24,867.9L919.42,867.02L921.6,866.27L923.78,865.65L925.96,865.16L928.14,864.8L930.32,864.57L932.51,864.49L934.69,864.56L936.87,864.78L939.05,865.15L941.23,865.66L943.41,866.32L945.6,867.1L947.78,868.02L949.96,869.05L952.14,870.19L954.32,871.44L956.5,872.8L958.68,874.24L960.87,875.78L963.05,877.4L965.23,879.09L967.41,880.86L969.59,882.69L971.77,884.58L973.95,886.53L976.14,888.52L978.32,890.54L980.5,892.6L982.68,894.67L984.86,896.73L987.04,898.76L989.22,900.77L991.41,902.72L993.59,904.63L995.77,906.49L997.95,908.31L1000.13,910.08L1002.31,911.82L1004.5,913.53L1006.68,915.23L1008.86,916.9L1011.04,918.55L1013.22,920.17L1015.4,921.75L1017.58,923.28L1019.77,924.76L1021.95,926.16L1024.13,927.49L1026.31,928.72L1028.49,929.85L1030.67,930.87L1032.86,931.81L1035.04,932.66L1037.22,933.43L1039.4,934.14L1041.58,934.79L1043.76,935.38L1045.94,935.91L1048.13,936.38L1050.31,936.79L1052.49,937.13L1054.67,937.41L1056.85,937.64L1059.03,937.85L1061.21,938.03L1063.4,938.2L1065.58,938.37L1067.76,938.53L1069.94,938.71L1072.12,938.9L1074.3,939.11L1076.48,939.36L1078.67,939.63L1080.85,939.94L1083.03,940.25L1085.21,940.56L1087.39,940.85L1089.57,941.09L1091.76,941.27L1093.94,941.38L1096.12,941.41L1098.3,941.34L1098.3,978.77L1096.12,978.23L1093.94,977.62L1091.76,976.97L1089.57,976.28L1087.39,975.57L1085.21,974.85L1083.03,974.14L1080.85,973.46L1078.67,972.82L1076.48,972.24L1074.3,971.73L1072.12,971.28L1069.94,970.88L1067.76,970.53L1065.58,970.22L1063.4,969.93L1061.21,969.67L1059.03,969.42L1056.85,969.17L1054.67,968.93L1052.49,968.69L1050.31,968.47L1048.13,968.26L1045.94,968.06L1043.76,967.86L1041.58,967.66L1039.4,967.44L1037.22,967.21L1035.04,966.95L1032.86,966.65L1030.67,966.29L1028.49,965.86L1026.31,965.34L1024.13,964.72L1021.95,964.01L1019.77,963.2L1017.58,962.32L1015.4,961.37L1013.22,960.34L1011.04,959.25L1008.86,958.09L1006.68,956.85L1004.5,955.55L1002.31,954.18L1000.13,952.74L997.95,951.27L995.77,949.74L993.59,948.17L991.41,946.53L989.22,944.83L987.04,943.08L984.86,941.28L982.68,939.43L980.5,937.57L978.32,935.69L976.14,933.83L973.95,931.99L971.77,930.2L969.59,928.46L967.41,926.77L965.23,925.15L963.05,923.6L960.87,922.12L958.68,920.72L956.5,919.4L954.32,918.17L952.14,917.02L949.96,915.98L947.78,915.04L945.6,914.2L943.41,913.48L941.23,912.88L939.05,912.4L936.87,912.05L934.69,911.84L932.51,911.77L930.32,911.85L928.14,912.08L925.96,912.44L923.78,912.93L921.6,913.55L919.42,914.3L917.24,915.18L915.05,916.19L912.87,917.35L910.69,918.66L908.51,920.15L906.33,921.8L904.15,923.62L901.96,925.58L899.78,927.66L897.6,929.82L895.42,932.03L893.24,934.25L891.06,936.48L888.88,938.69L886.69,940.9L884.51,943.12L882.33,945.37L880.15,947.64L877.97,949.94L875.79,952.28L873.61,954.62L871.42,956.96L869.24,959.27L867.06,961.54L864.88,963.76L862.7,965.93L860.52,968.03L858.33,970.08L856.15,972.06L853.97,973.97L851.79,975.81L849.61,977.59L847.43,979.29L845.25,980.93L843.06,982.48L840.88,983.96L838.7,985.36L836.52,986.68L834.34,987.93L832.16,989.1L829.98,990.2L827.79,991.23L825.61,992.2L823.43,993.12L821.25,993.98L819.07,994.81L816.89,995.59L814.7,996.34L812.52,997.06L810.34,997.76L808.16,998.44L805.98,999.09L803.8,999.74L801.62,1000.37L799.43,1001L797.25,1001.62L795.07,1002.24L792.89,1002.85L790.71,1003.47L788.53,1004.08L786.35,1004.67L784.16,1005.26L781.98,1005.82L779.8,1006.36L777.62,1006.86L775.44,1007.33L773.26,1007.75L771.08,1008.12L768.89,1008.44L766.71,1008.71L764.53,1008.94L762.35,1009.12L760.17,1009.27L757.99,1009.38L755.8,1009.46L753.62,1009.51L751.44,1009.55L749.26,1009.56L747.08,1009.53L744.9,1009.47L742.72,1009.35L740.53,1009.18L738.35,1008.93L736.17,1008.61L733.99,1008.23L731.81,1007.79L729.63,1007.3L727.44,1006.76L725.26,1006.2L723.08,1005.6L720.9,1004.97L718.72,1004.32L716.54,1003.63L714.36,1002.91L712.17,1002.16L709.99,1001.37L707.81,1000.55L705.63,999.68L703.45,998.79L701.27,997.86L699.09,996.89L696.9,995.9L694.72,994.87L692.54,993.83L690.36,992.76L688.18,991.68L686,990.58L683.82,989.47L681.63,988.36L679.45,987.23L677.27,986.1L675.09,984.97L672.91,983.83L670.73,982.7L668.54,981.59L666.36,980.54L664.18,979.61L662,978.86Z"/><path id="bg7" d="M662,917.51L664.18,918.13L666.36,918.86L668.54,919.66L670.73,920.52L672.91,921.4L675.09,922.29L677.27,923.2L679.45,924.13L681.63,925.08L683.82,926.04L686,927.02L688.18,928.01L690.36,929.01L692.54,930L694.72,930.98L696.9,931.93L699.09,932.84L701.27,933.72L703.45,934.54L705.63,935.3L707.81,935.99L709.99,936.63L712.17,937.21L714.36,937.74L716.54,938.23L718.72,938.69L720.9,939.12L723.08,939.53L725.26,939.93L727.44,940.32L729.63,940.7L731.81,941.05L733.99,941.38L736.17,941.65L738.35,941.87L740.53,942.01L742.72,942.06L744.9,942.04L747.08,941.93L749.26,941.74L751.44,941.49L753.62,941.17L755.8,940.8L757.99,940.38L760.17,939.93L762.35,939.45L764.53,938.95L766.71,938.44L768.89,937.92L771.08,937.4L773.26,936.86L775.44,936.32L777.62,935.78L779.8,935.22L781.98,934.65L784.16,934.08L786.35,933.48L788.53,932.88L790.71,932.25L792.89,931.61L795.07,930.95L797.25,930.26L799.43,929.55L801.62,928.81L803.8,928.05L805.98,927.25L808.16,926.41L810.34,925.54L812.52,924.64L814.7,923.69L816.89,922.69L819.07,921.65L821.25,920.57L823.43,919.44L825.61,918.27L827.79,917.05L829.98,915.78L832.16,914.47L834.34,913.1L836.52,911.64L838.7,910.07L840.88,908.32L843.06,906.34L845.25,904.06L847.43,901.44L849.61,898.45L851.79,895.13L853.97,891.55L856.15,887.82L858.33,884.03L860.52,880.32L862.7,876.74L864.88,873.35L867.06,870.15L869.24,867.15L871.42,864.33L873.61,861.66L875.79,859.12L877.97,856.7L880.15,854.36L882.33,852.11L884.51,849.92L886.69,847.8L888.88,845.72L891.06,843.69L893.24,841.72L895.42,839.79L897.6,837.93L899.78,836.13L901.96,834.39L904.15,832.72L906.33,831.09L908.51,829.51L910.69,827.99L912.87,826.54L915.05,825.17L917.24,823.89L919.42,822.72L921.6,821.69L923.78,820.81L925.96,820.12L928.14,819.66L930.32,819.43L932.51,819.43L934.69,819.66L936.87,820.1L939.05,820.71L941.23,821.5L943.41,822.41L945.6,823.43L947.78,824.52L949.96,825.67L952.14,826.85L954.32,828.06L956.5,829.31L958.68,830.62L960.87,832.02L963.05,833.53L965.23,835.16L967.41,836.93L969.59,838.84L971.77,840.91L973.95,843.11L976.14,845.42L978.32,847.81L980.5,850.23L982.68,852.67L984.86,855.08L987.04,857.44L989.22,859.72L991.41,861.9L993.59,864L995.77,866.03L997.95,868.01L1000.13,869.96L1002.31,871.9L1004.5,873.81L1006.68,875.68L1008.86,877.47L1011.04,879.16L1013.22,880.69L1015.4,882.06L1017.58,883.26L1019.77,884.33L1021.95,885.32L1024.13,886.29L1026.31,887.31L1028.49,888.41L1030.67,889.56L1032.86,890.74L1035.04,891.89L1037.22,892.96L1039.4,893.95L1041.58,894.85L1043.76,895.67L1045.94,896.43L1048.13,897.13L1050.31,897.77L1052.49,898.35L1054.67,898.87L1056.85,899.34L1059.03,899.78L1061.21,900.2L1063.4,900.63L1065.58,901.05L1067.76,901.48L1069.94,901.91L1072.12,902.34L1074.3,902.77L1076.48,903.19L1078.67,903.6L1080.85,904.01L1083.03,904.39L1085.21,904.74L1087.39,905.04L1089.57,905.3L1091.76,905.5L1093.94,905.64L1096.12,905.7L1098.3,905.67L1098.3,978.56L1096.12,978.04L1093.94,977.44L1091.76,976.77L1089.57,976.04L1087.39,975.25L1085.21,974.43L1083.03,973.57L1080.85,972.68L1078.67,971.78L1076.48,970.87L1074.3,969.96L1072.12,969.05L1069.94,968.15L1067.76,967.25L1065.58,966.35L1063.4,965.47L1061.21,964.6L1059.03,963.73L1056.85,962.85L1054.67,961.95L1052.49,961L1050.31,960L1048.13,958.95L1045.94,957.84L1043.76,956.68L1041.58,955.46L1039.4,954.18L1037.22,952.81L1035.04,951.36L1032.86,949.84L1030.67,948.28L1028.49,946.74L1026.31,945.24L1024.13,943.81L1021.95,942.41L1019.77,941L1017.58,939.52L1015.4,937.92L1013.22,936.16L1011.04,934.25L1008.86,932.21L1006.68,930.09L1004.5,927.92L1002.31,925.75L1000.13,923.59L997.95,921.45L995.77,919.33L993.59,917.22L991.41,915.09L989.22,912.96L987.04,910.81L984.86,908.66L982.68,906.52L980.5,904.39L978.32,902.3L976.14,900.27L973.95,898.32L971.77,896.47L969.59,894.71L967.41,893.07L965.23,891.57L963.05,890.21L960.87,889L958.68,887.9L956.5,886.9L954.32,885.96L952.14,885.05L949.96,884.17L947.78,883.31L945.6,882.48L943.41,881.71L941.23,881.02L939.05,880.43L936.87,879.96L934.69,879.65L932.51,879.49L930.32,879.51L928.14,879.69L925.96,880L923.78,880.45L921.6,881.01L919.42,881.67L917.24,882.41L915.05,883.23L912.87,884.11L910.69,885.05L908.51,886.07L906.33,887.15L904.15,888.31L901.96,889.55L899.78,890.86L897.6,892.22L895.42,893.63L893.24,895.09L891.06,896.59L888.88,898.14L886.69,899.73L884.51,901.39L882.33,903.1L880.15,904.89L877.97,906.78L875.79,908.78L873.61,910.91L871.42,913.18L869.24,915.61L867.06,918.22L864.88,921.03L862.7,924.04L860.52,927.24L858.33,930.59L856.15,934L853.97,937.39L851.79,940.62L849.61,943.59L847.43,946.25L845.25,948.55L843.06,950.52L840.88,952.21L838.7,953.68L836.52,954.98L834.34,956.17L832.16,957.28L829.98,958.33L827.79,959.32L825.61,960.27L823.43,961.17L821.25,962.03L819.07,962.84L816.89,963.6L814.7,964.32L812.52,965L810.34,965.65L808.16,966.25L805.98,966.82L803.8,967.36L801.62,967.87L799.43,968.36L797.25,968.83L795.07,969.27L792.89,969.7L790.71,970.12L788.53,970.52L786.35,970.92L784.16,971.31L781.98,971.69L779.8,972.07L777.62,972.45L775.44,972.83L773.26,973.21L771.08,973.6L768.89,973.99L766.71,974.39L764.53,974.79L762.35,975.19L760.17,975.59L757.99,975.97L755.8,976.33L753.62,976.66L751.44,976.95L749.26,977.2L747.08,977.39L744.9,977.52L742.72,977.58L740.53,977.57L738.35,977.49L736.17,977.35L733.99,977.16L731.81,976.94L729.63,976.7L727.44,976.44L725.26,976.19L723.08,975.94L720.9,975.69L718.72,975.44L716.54,975.17L714.36,974.88L712.17,974.55L709.99,974.2L707.81,973.79L705.63,973.34L703.45,972.84L701.27,972.29L699.09,971.7L696.9,971.08L694.72,970.43L692.54,969.77L690.36,969.1L688.18,968.45L686,967.8L683.82,967.18L681.63,966.59L679.45,966.02L677.27,965.48L675.09,964.97L672.91,964.49L670.73,964.04L668.54,963.61L666.36,963.25L664.18,962.97L662,962.82Z"/>
<mask id="mA7" maskUnits="userSpaceOnUse" x="0" y="0" width="1698" height="1145"><use href="#br7" fill="#fff"/><use href="#bg7" fill="#000"/></mask>
<mask id="mB7" maskUnits="userSpaceOnUse" x="0" y="0" width="1698" height="1145"><use href="#bg7" fill="#fff"/><use href="#br7" fill="#000"/></mask>
<clipPath id="cC7"><use href="#br7"/></clipPath></defs>
<use href="#br7" fill="rgb(232,200,200)" mask="url(#mA7)" style="mix-blend-mode:multiply"/>
<path d="M662,962.11L664.18,962.71L666.36,963.48L668.54,964.36L670.73,965.32L672.91,966.29L675.09,967.27L677.27,968.25L679.45,969.23L681.63,970.2L683.82,971.17L686,972.13L688.18,973.08L690.36,974.02L692.54,974.94L694.72,975.84L696.9,976.73L699.09,977.58L701.27,978.41L703.45,979.21L705.63,979.98L707.81,980.71L709.99,981.41L712.17,982.08L714.36,982.71L716.54,983.31L718.72,983.88L720.9,984.43L723.08,984.95L725.26,985.44L727.44,985.9L729.63,986.34L731.81,986.73L733.99,987.08L736.17,987.38L738.35,987.61L740.53,987.78L742.72,987.89L744.9,987.93L747.08,987.93L749.26,987.89L751.44,987.82L753.62,987.72L755.8,987.61L757.99,987.47L760.17,987.3L762.35,987.09L764.53,986.85L766.71,986.57L768.89,986.24L771.08,985.86L773.26,985.43L775.44,984.95L777.62,984.43L779.8,983.87L781.98,983.28L784.16,982.66L786.35,982.03L788.53,981.37L790.71,980.72L792.89,980.05L795.07,979.39L797.25,978.72L799.43,978.05L801.62,977.38L803.8,976.7L805.98,976.02L808.16,975.31L810.34,974.6L812.52,973.86L814.7,973.1L816.89,972.31L819.07,971.5L821.25,970.64L823.43,969.74L825.61,968.79L827.79,967.79L829.98,966.73L832.16,965.61L834.34,964.42L836.52,963.15L838.7,961.81L840.88,960.39L843.06,958.89L845.25,957.32L847.43,955.68L849.61,953.97L851.79,952.18L853.97,950.33L856.15,948.42L858.33,946.44L860.52,944.39L862.7,942.29L864.88,940.12L867.06,937.9L869.24,935.63L871.42,933.32L873.61,930.98L875.79,928.64L877.97,926.3L880.15,924L882.33,921.73L884.51,919.48L886.69,917.26L888.88,915.05L891.06,912.84L893.24,910.61L895.42,908.39L897.6,906.18L899.78,904.02L901.96,901.94L904.15,899.98L906.33,898.16L908.51,896.51L910.69,895.02L912.87,893.71L915.05,892.55L917.24,891.54L919.42,890.66L921.6,889.91L923.78,889.29L925.96,888.8L928.14,888.44L930.32,888.21L932.51,888.13L934.69,888.2L936.87,888.41L939.05,888.77L941.23,889.27L943.41,889.9L945.6,890.65L947.78,891.53L949.96,892.51L952.14,893.61L954.32,894.81L956.5,896.1L958.68,897.48L960.87,898.95L963.05,900.5L965.23,902.12L967.41,903.82L969.59,905.57L971.77,907.39L973.95,909.26L976.14,911.17L978.32,913.12L980.5,915.08L982.68,917.05L984.86,919L987.04,920.92L989.22,922.8L991.41,924.63L993.59,926.4L995.77,928.12L997.95,929.79L1000.13,931.41L1002.31,933L1004.5,934.54L1006.68,936.04L1008.86,937.5L1011.04,938.9L1013.22,940.25L1015.4,941.56L1017.58,942.8L1019.77,943.98L1021.95,945.09L1024.13,946.1L1026.31,947.03L1028.49,947.85L1030.67,948.58L1032.86,949.23L1035.04,949.8L1037.22,950.32L1039.4,950.79L1041.58,951.22L1043.76,951.62L1045.94,951.99L1048.13,952.32L1050.31,952.63L1052.49,952.91L1054.67,953.17L1056.85,953.41L1059.03,953.63L1061.21,953.85L1063.4,954.07L1065.58,954.29L1067.76,954.53L1069.94,954.79L1072.12,955.09L1074.3,955.42L1076.48,955.8L1078.67,956.23L1080.85,956.7L1083.03,957.2L1085.21,957.71L1087.39,958.21L1089.57,958.68L1091.76,959.12L1093.94,959.5L1096.12,959.82L1098.3,960.05" fill="none" stroke="rgb(191,48,48)" stroke-width="6.0" stroke-linejoin="round"/>
<use href="#bg7" fill="rgb(213,232,193)" mask="url(#mB7)" style="mix-blend-mode:multiply"/>
<use href="#bg7" fill="rgb(207,213,163)" clip-path="url(#cC7)" style="mix-blend-mode:multiply"/>
<path d="M662,962.11L664.18,962.71L666.36,963.48L668.54,964.36L670.73,965.32L672.91,966.29L675.09,967.27L677.27,968.25L679.45,969.23L681.63,970.2L683.82,971.17L686,972.13L688.18,973.08L690.36,974.02L692.54,974.94L694.72,975.84L696.9,976.73L699.09,977.58L701.27,978.41L703.45,979.21L705.63,979.98L707.81,980.71L709.99,981.41L712.17,982.08L714.36,982.71L716.54,983.31L718.72,983.88L720.9,984.43L723.08,984.95L725.26,985.44L727.44,985.9L729.63,986.34L731.81,986.73L733.99,987.08L736.17,987.38L738.35,987.61L740.53,987.78L742.72,987.89L744.9,987.93L747.08,987.93L749.26,987.89L751.44,987.82L753.62,987.72L755.8,987.61L757.99,987.47L760.17,987.3L762.35,987.09L764.53,986.85L766.71,986.57L768.89,986.24L771.08,985.86L773.26,985.43L775.44,984.95L777.62,984.43L779.8,983.87L781.98,983.28L784.16,982.66L786.35,982.03L788.53,981.37L790.71,980.72L792.89,980.05L795.07,979.39L797.25,978.72L799.43,978.05L801.62,977.38L803.8,976.7L805.98,976.02L808.16,975.31L810.34,974.6L812.52,973.86L814.7,973.1L816.89,972.31L819.07,971.5L821.25,970.64L823.43,969.74L825.61,968.79L827.79,967.79L829.98,966.73L832.16,965.61L834.34,964.42L836.52,963.15L838.7,961.81L840.88,960.39L843.06,958.89L845.25,957.32L847.43,955.68L849.61,953.97L851.79,952.18L853.97,950.33L856.15,948.42L858.33,946.44L860.52,944.39L862.7,942.29L864.88,940.12L867.06,937.9L869.24,935.63L871.42,933.32L873.61,930.98L875.79,928.64L877.97,926.3L880.15,924L882.33,921.73L884.51,919.48L886.69,917.26L888.88,915.05L891.06,912.84L893.24,910.61L895.42,908.39L897.6,906.18L899.78,904.02L901.96,901.94L904.15,899.98L906.33,898.16L908.51,896.51L910.69,895.02L912.87,893.71L915.05,892.55L917.24,891.54L919.42,890.66L921.6,889.91L923.78,889.29L925.96,888.8L928.14,888.44L930.32,888.21L932.51,888.13L934.69,888.2L936.87,888.41L939.05,888.77L941.23,889.27L943.41,889.9L945.6,890.65L947.78,891.53L949.96,892.51L952.14,893.61L954.32,894.81L956.5,896.1L958.68,897.48L960.87,898.95L963.05,900.5L965.23,902.12L967.41,903.82L969.59,905.57L971.77,907.39L973.95,909.26L976.14,911.17L978.32,913.12L980.5,915.08L982.68,917.05L984.86,919L987.04,920.92L989.22,922.8L991.41,924.63L993.59,926.4L995.77,928.12L997.95,929.79L1000.13,931.41L1002.31,933L1004.5,934.54L1006.68,936.04L1008.86,937.5L1011.04,938.9L1013.22,940.25L1015.4,941.56L1017.58,942.8L1019.77,943.98L1021.95,945.09L1024.13,946.1L1026.31,947.03L1028.49,947.85L1030.67,948.58L1032.86,949.23L1035.04,949.8L1037.22,950.32L1039.4,950.79L1041.58,951.22L1043.76,951.62L1045.94,951.99L1048.13,952.32L1050.31,952.63L1052.49,952.91L1054.67,953.17L1056.85,953.41L1059.03,953.63L1061.21,953.85L1063.4,954.07L1065.58,954.29L1067.76,954.53L1069.94,954.79L1072.12,955.09L1074.3,955.42L1076.48,955.8L1078.67,956.23L1080.85,956.7L1083.03,957.2L1085.21,957.71L1087.39,958.21L1089.57,958.68L1091.76,959.12L1093.94,959.5L1096.12,959.82L1098.3,960.05" fill="none" stroke="rgb(191,48,48)" stroke-width="6.0" stroke-linejoin="round" stroke-opacity="0.5"/>
<path d="M662,940.16L664.18,940.55L666.36,941.05L668.54,941.64L670.73,942.28L672.91,942.94L675.09,943.63L677.27,944.34L679.45,945.08L681.63,945.83L683.82,946.61L686,947.41L688.18,948.23L690.36,949.06L692.54,949.88L694.72,950.7L696.9,951.5L699.09,952.27L701.27,953L703.45,953.69L705.63,954.32L707.81,954.89L709.99,955.41L712.17,955.88L714.36,956.31L716.54,956.7L718.72,957.06L720.9,957.41L723.08,957.74L725.26,958.06L727.44,958.38L729.63,958.7L731.81,959L733.99,959.27L736.17,959.5L738.35,959.68L740.53,959.79L742.72,959.82L744.9,959.78L747.08,959.66L749.26,959.47L751.44,959.22L753.62,958.91L755.8,958.56L757.99,958.17L760.17,957.76L762.35,957.32L764.53,956.87L766.71,956.42L768.89,955.96L771.08,955.5L773.26,955.04L775.44,954.58L777.62,954.11L779.8,953.64L781.98,953.17L784.16,952.69L786.35,952.2L788.53,951.7L790.71,951.18L792.89,950.66L795.07,950.11L797.25,949.54L799.43,948.96L801.62,948.34L803.8,947.7L805.98,947.03L808.16,946.33L810.34,945.59L812.52,944.82L814.7,944L816.89,943.15L819.07,942.25L821.25,941.3L823.43,940.31L825.61,939.27L827.79,938.18L829.98,937.05L832.16,935.87L834.34,934.63L836.52,933.31L838.7,931.87L840.88,930.27L843.06,928.43L845.25,926.31L847.43,923.84L849.61,921.02L851.79,917.88L853.97,914.47L856.15,910.91L858.33,907.31L860.52,903.78L862.7,900.39L864.88,897.19L867.06,894.19L869.24,891.38L871.42,888.76L873.61,886.28L875.79,883.95L877.97,881.74L880.15,879.63L882.33,877.61L884.51,875.65L886.69,873.77L888.88,871.93L891.06,870.14L893.24,868.4L895.42,866.71L897.6,865.08L899.78,863.5L901.96,861.97L904.15,860.51L906.33,859.12L908.51,857.79L910.69,856.52L912.87,855.32L915.05,854.2L917.24,853.15L919.42,852.2L921.6,851.35L923.78,850.63L925.96,850.06L928.14,849.67L930.32,849.47L932.51,849.46L934.69,849.66L936.87,850.03L939.05,850.57L941.23,851.26L943.41,852.06L945.6,852.96L947.78,853.92L949.96,854.92L952.14,855.95L954.32,857.01L956.5,858.11L958.68,859.26L960.87,860.51L963.05,861.87L965.23,863.36L967.41,865L969.59,866.78L971.77,868.69L973.95,870.72L976.14,872.85L978.32,875.05L980.5,877.31L982.68,879.59L984.86,881.87L987.04,884.13L989.22,886.34L991.41,888.5L993.59,890.61L995.77,892.68L997.95,894.73L1000.13,896.78L1002.31,898.82L1004.5,900.87L1006.68,902.88L1008.86,904.84L1011.04,906.7L1013.22,908.42L1015.4,909.99L1017.58,911.39L1019.77,912.67L1021.95,913.86L1024.13,915.05L1026.31,916.28L1028.49,917.57L1030.67,918.92L1032.86,920.29L1035.04,921.62L1037.22,922.89L1039.4,924.06L1041.58,925.16L1043.76,926.18L1045.94,927.14L1048.13,928.04L1050.31,928.89L1052.49,929.68L1054.67,930.41L1056.85,931.1L1059.03,931.76L1061.21,932.4L1063.4,933.05L1065.58,933.7L1067.76,934.36L1069.94,935.03L1072.12,935.7L1074.3,936.36L1076.48,937.03L1078.67,937.69L1080.85,938.34L1083.03,938.98L1085.21,939.58L1087.39,940.15L1089.57,940.67L1091.76,941.14L1093.94,941.54L1096.12,941.87L1098.3,942.12" fill="none" stroke="rgb(126,182,81)" stroke-width="6.0" stroke-linejoin="round"/>
</g>
<rect x="662" y="813.1" width="436.3" height="245.3" fill="none" stroke="#474c51" stroke-width="1.9" rx="0.8"/>
<path d="M662,1058.4v-4.4M662,813.1v4.4M749.26,1058.4v-4.4M749.26,813.1v4.4M836.52,1058.4v-4.4M836.52,813.1v4.4M923.78,1058.4v-4.4M923.78,813.1v4.4M1011.04,1058.4v-4.4M1011.04,813.1v4.4M1098.3,1058.4v-4.4M1098.3,813.1v4.4M662,1058.85h4.4M1098.3,1058.85h-4.4M662,1009.6h4.4M1098.3,1009.6h-4.4M662,960.35h4.4M1098.3,960.35h-4.4M662,911.1h4.4M1098.3,911.1h-4.4M662,861.85h4.4M1098.3,861.85h-4.4M662,812.6h4.4M1098.3,812.6h-4.4" stroke="#474c51" stroke-width="1.6" fill="none"/>
<text x="662" y="1094.5" font-size="25.7" fill="#45494e" text-anchor="middle">0</text>
<text x="749.26" y="1094.5" font-size="25.7" fill="#45494e" text-anchor="middle">20</text>
<text x="836.52" y="1094.5" font-size="25.7" fill="#45494e" text-anchor="middle">40</text>
<text x="923.78" y="1094.5" font-size="25.7" fill="#45494e" text-anchor="middle">60</text>
<text x="1011.04" y="1094.5" font-size="25.7" fill="#45494e" text-anchor="middle">80</text>
<text x="1098.3" y="1094.5" font-size="25.7" fill="#45494e" text-anchor="middle">100</text>
<text x="651.3" y="1070.65" font-size="25.7" fill="#45494e" text-anchor="end">-15</text>
<text x="651.3" y="1021.4" font-size="25.7" fill="#45494e" text-anchor="end">-10</text>
<text x="651.3" y="972.15" font-size="25.7" fill="#45494e" text-anchor="end">-5</text>
<text x="651.3" y="922.9" font-size="25.7" fill="#45494e" text-anchor="end">0</text>
<text x="651.3" y="873.65" font-size="25.7" fill="#45494e" text-anchor="end">5</text>
<text x="651.3" y="824.4" font-size="25.7" fill="#45494e" text-anchor="end">10</text>
<text x="880.15" y="1134.5" font-size="31.25" fill="#45494e" text-anchor="middle">gait cycle</text>
<text transform="translate(603,935.75) rotate(-90)" font-size="31.25" fill="#45494e" text-anchor="middle">Degree</text>
<text x="880.15" y="799.2" font-size="37.1" fill="#161616" text-anchor="middle">Ankle add/abd</text>
<clipPath id="c8"><rect x="1238.1" y="813.1" width="434.9" height="245.3"/></clipPath>
<g clip-path="url(#c8)">
<rect x="1238.1" y="813.1" width="434.9" height="245.3" fill="#fff"/>
<rect x="1374.66" y="813.1" width="26.53" height="245.3" fill="rgb(205,206,210)"/>
<line x1="1238.1" y1="1024" x2="1673" y2="1024" stroke="#262626" stroke-opacity="0.15" stroke-width="1.1"/>
<line x1="1238.1" y1="953.4" x2="1673" y2="953.4" stroke="#262626" stroke-opacity="0.15" stroke-width="1.1"/>
<line x1="1238.1" y1="882.8" x2="1673" y2="882.8" stroke="#262626" stroke-opacity="0.15" stroke-width="1.1"/>
<defs><path id="br8" d="M1238.1,959.29L1240.27,959.07L1242.45,958.7L1244.62,958.22L1246.8,957.66L1248.97,957.04L1251.15,956.38L1253.32,955.67L1255.5,954.9L1257.67,954.07L1259.84,953.18L1262.02,952.21L1264.19,951.17L1266.37,950.04L1268.54,948.82L1270.72,947.53L1272.89,946.18L1275.07,944.77L1277.24,943.32L1279.42,941.83L1281.59,940.32L1283.76,938.79L1285.94,937.24L1288.11,935.71L1290.29,934.18L1292.46,932.68L1294.64,931.2L1296.81,929.77L1298.99,928.38L1301.16,927L1303.34,925.62L1305.51,924.24L1307.68,922.87L1309.86,921.51L1312.03,920.17L1314.21,918.86L1316.38,917.58L1318.56,916.35L1320.73,915.15L1322.91,914.01L1325.08,912.93L1327.25,911.91L1329.43,910.96L1331.6,910.05L1333.78,909.15L1335.95,908.26L1338.13,907.38L1340.3,906.51L1342.48,905.65L1344.65,904.8L1346.82,903.98L1349,903.17L1351.17,902.38L1353.35,901.62L1355.52,900.87L1357.7,900.16L1359.87,899.47L1362.05,898.82L1364.22,898.19L1366.4,897.61L1368.57,897.05L1370.74,896.53L1372.92,896.04L1375.09,895.58L1377.27,895.14L1379.44,894.73L1381.62,894.34L1383.79,893.98L1385.97,893.63L1388.14,893.31L1390.32,893L1392.49,892.72L1394.66,892.45L1396.84,892.18L1399.01,891.88L1401.19,891.57L1403.36,891.26L1405.54,890.96L1407.71,890.69L1409.89,890.46L1412.06,890.26L1414.23,890.11L1416.41,890L1418.58,889.94L1420.76,889.92L1422.93,889.94L1425.11,890.01L1427.28,890.05L1429.46,890.01L1431.63,889.91L1433.8,889.77L1435.98,889.61L1438.15,889.45L1440.33,889.32L1442.5,889.23L1444.68,889.22L1446.85,889.29L1449.03,889.47L1451.2,889.78L1453.38,890.24L1455.55,890.88L1457.72,891.65L1459.9,892.49L1462.07,893.38L1464.25,894.33L1466.42,895.31L1468.6,896.32L1470.77,897.35L1472.95,898.4L1475.12,899.55L1477.3,900.85L1479.47,902.24L1481.64,903.65L1483.82,904.99L1485.99,906.21L1488.17,907.35L1490.34,908.48L1492.52,909.58L1494.69,910.63L1496.87,911.6L1499.04,912.47L1501.21,913.22L1503.39,913.82L1505.56,914.29L1507.74,914.66L1509.91,914.95L1512.09,915.18L1514.26,915.39L1516.44,915.6L1518.61,915.78L1520.78,915.91L1522.96,916.01L1525.13,916.1L1527.31,916.19L1529.48,916.3L1531.66,916.45L1533.83,916.67L1536.01,916.91L1538.18,917.17L1540.36,917.43L1542.53,917.72L1544.7,918.04L1546.88,918.41L1549.05,918.84L1551.23,919.33L1553.4,920.09L1555.58,921.26L1557.75,922.71L1559.93,924.3L1562.1,925.92L1564.28,927.43L1566.45,928.89L1568.62,930.41L1570.8,931.96L1572.97,933.51L1575.15,935.01L1577.32,936.45L1579.5,937.78L1581.67,938.97L1583.85,940.09L1586.02,941.2L1588.19,942.31L1590.37,943.41L1592.54,944.49L1594.72,945.55L1596.89,946.54L1599.07,947.47L1601.24,948.35L1603.42,949.21L1605.59,950.08L1607.76,950.97L1609.94,951.92L1612.11,952.93L1614.29,954.01L1616.46,955.11L1618.64,956.21L1620.81,957.29L1622.99,958.35L1625.16,959.38L1627.34,960.34L1629.51,961.24L1631.68,962.08L1633.86,962.89L1636.03,963.65L1638.21,964.37L1640.38,965.03L1642.56,965.64L1644.73,966.19L1646.91,966.67L1649.08,967.08L1651.26,967.42L1653.43,967.69L1655.6,967.88L1657.78,967.99L1659.95,968.03L1662.13,968L1664.3,967.9L1666.48,967.76L1668.65,967.59L1670.83,967.42L1673,967.27L1673,1011.61L1670.83,1011.72L1668.65,1011.85L1666.48,1011.99L1664.3,1012.1L1662.13,1012.17L1659.95,1012.18L1657.78,1012.13L1655.6,1012L1653.43,1011.79L1651.26,1011.51L1649.08,1011.16L1646.91,1010.74L1644.73,1010.25L1642.56,1009.7L1640.38,1009.09L1638.21,1008.42L1636.03,1007.7L1633.86,1006.94L1631.68,1006.14L1629.51,1005.29L1627.34,1004.45L1625.16,1003.61L1622.99,1002.77L1620.81,1001.91L1618.64,1001.03L1616.46,1000.12L1614.29,999.15L1612.11,998.12L1609.94,996.99L1607.76,995.76L1605.59,994.46L1603.42,993.13L1601.24,991.8L1599.07,990.51L1596.89,989.29L1594.72,988.19L1592.54,987.19L1590.37,986.25L1588.19,985.38L1586.02,984.55L1583.85,983.77L1581.67,983.03L1579.5,982.39L1577.32,981.91L1575.15,981.57L1572.97,981.34L1570.8,981.17L1568.62,981.05L1566.45,980.94L1564.28,980.81L1562.1,980.78L1559.93,980.92L1557.75,981.12L1555.58,981.26L1553.4,981.22L1551.23,980.89L1549.05,980.4L1546.88,979.96L1544.7,979.56L1542.53,979.21L1540.36,978.88L1538.18,978.56L1536.01,978.26L1533.83,977.95L1531.66,977.59L1529.48,977.15L1527.31,976.64L1525.13,976.08L1522.96,975.5L1520.78,974.91L1518.61,974.33L1516.44,973.77L1514.26,973.22L1512.09,972.63L1509.91,972.03L1507.74,971.43L1505.56,970.85L1503.39,970.3L1501.21,969.82L1499.04,969.41L1496.87,969.05L1494.69,968.72L1492.52,968.42L1490.34,968.13L1488.17,967.82L1485.99,967.49L1483.82,967.22L1481.64,967.06L1479.47,966.95L1477.3,966.81L1475.12,966.57L1472.95,966.18L1470.77,965.67L1468.6,965.15L1466.42,964.62L1464.25,964.06L1462.07,963.47L1459.9,962.85L1457.72,962.19L1455.55,961.48L1453.38,960.67L1451.2,959.71L1449.03,958.63L1446.85,957.45L1444.68,956.19L1442.5,954.87L1440.33,953.53L1438.15,952.17L1435.98,950.82L1433.8,949.51L1431.63,948.26L1429.46,947.09L1427.28,946.02L1425.11,945.07L1422.93,944.21L1420.76,943.37L1418.58,942.56L1416.41,941.79L1414.23,941.09L1412.06,940.46L1409.89,939.92L1407.71,939.47L1405.54,939.13L1403.36,938.9L1401.19,938.77L1399.01,938.75L1396.84,938.84L1394.66,939.04L1392.49,939.33L1390.32,939.66L1388.14,940.03L1385.97,940.45L1383.79,940.9L1381.62,941.38L1379.44,941.9L1377.27,942.44L1375.09,943.01L1372.92,943.6L1370.74,944.21L1368.57,944.84L1366.4,945.49L1364.22,946.14L1362.05,946.81L1359.87,947.48L1357.7,948.16L1355.52,948.85L1353.35,949.54L1351.17,950.25L1349,950.96L1346.82,951.68L1344.65,952.4L1342.48,953.13L1340.3,953.86L1338.13,954.6L1335.95,955.33L1333.78,956.07L1331.6,956.81L1329.43,957.55L1327.25,958.27L1325.08,958.93L1322.91,959.55L1320.73,960.14L1318.56,960.73L1316.38,961.32L1314.21,961.93L1312.03,962.57L1309.86,963.26L1307.68,964.01L1305.51,964.84L1303.34,965.76L1301.16,966.78L1298.99,967.91L1296.81,969.14L1294.64,970.41L1292.46,971.73L1290.29,973.09L1288.11,974.48L1285.94,975.9L1283.76,977.32L1281.59,978.75L1279.42,980.18L1277.24,981.59L1275.07,982.98L1272.89,984.34L1270.72,985.67L1268.54,986.95L1266.37,988.19L1264.19,989.4L1262.02,990.58L1259.84,991.73L1257.67,992.85L1255.5,993.95L1253.32,995.03L1251.15,996.08L1248.97,997.12L1246.8,998.15L1244.62,999.14L1242.45,1000.09L1240.27,1000.94L1238.1,1001.65Z"/><path id="bg8" d="M1238.1,950.05L1240.27,949.67L1242.45,949.12L1244.62,948.44L1246.8,947.68L1248.97,946.86L1251.15,946L1253.32,945.1L1255.5,944.16L1257.67,943.17L1259.84,942.15L1262.02,941.07L1264.19,939.95L1266.37,938.78L1268.54,937.56L1270.72,936.26L1272.89,934.86L1275.07,933.37L1277.24,931.81L1279.42,930.17L1281.59,928.48L1283.76,926.74L1285.94,924.96L1288.11,923.17L1290.29,921.35L1292.46,919.54L1294.64,917.74L1296.81,915.96L1298.99,914.2L1301.16,912.43L1303.34,910.62L1305.51,908.77L1307.68,906.9L1309.86,905.02L1312.03,903.14L1314.21,901.27L1316.38,899.43L1318.56,897.62L1320.73,895.85L1322.91,894.15L1325.08,892.51L1327.25,890.95L1329.43,889.49L1331.6,888.08L1333.78,886.68L1335.95,885.29L1338.13,883.92L1340.3,882.56L1342.48,881.23L1344.65,879.93L1346.82,878.66L1349,877.43L1351.17,876.25L1353.35,875.11L1355.52,874.03L1357.7,873L1359.87,872.03L1362.05,871.12L1364.22,870.26L1366.4,869.45L1368.57,868.68L1370.74,867.97L1372.92,867.3L1375.09,866.67L1377.27,866.09L1379.44,865.56L1381.62,865.06L1383.79,864.6L1385.97,864.18L1388.14,863.8L1390.32,863.46L1392.49,863.15L1394.66,862.88L1396.84,862.67L1399.01,862.52L1401.19,862.45L1403.36,862.44L1405.54,862.5L1407.71,862.62L1409.89,862.81L1412.06,863.07L1414.23,863.42L1416.41,863.86L1418.58,864.39L1420.76,865.02L1422.93,865.76L1425.11,866.6L1427.28,867.55L1429.46,868.59L1431.63,869.73L1433.8,870.94L1435.98,872.21L1438.15,873.53L1440.33,874.88L1442.5,876.25L1444.68,877.61L1446.85,878.97L1449.03,880.29L1451.2,881.58L1453.38,882.81L1455.55,883.98L1457.72,885.13L1459.9,886.27L1462.07,887.39L1464.25,888.48L1466.42,889.52L1468.6,890.49L1470.77,891.39L1472.95,892.18L1475.12,892.93L1477.3,893.69L1479.47,894.45L1481.64,895.22L1483.82,895.98L1485.99,896.73L1488.17,897.38L1490.34,897.86L1492.52,898.19L1494.69,898.41L1496.87,898.55L1499.04,898.62L1501.21,898.68L1503.39,898.73L1505.56,898.68L1507.74,898.47L1509.91,898.21L1512.09,898.01L1514.26,897.98L1516.44,898.22L1518.61,898.63L1520.78,899.05L1522.96,899.48L1525.13,899.91L1527.31,900.35L1529.48,900.8L1531.66,901.27L1533.83,901.75L1536.01,902.28L1538.18,902.86L1540.36,903.49L1542.53,904.16L1544.7,904.86L1546.88,905.58L1549.05,906.31L1551.23,907.03L1553.4,907.72L1555.58,908.34L1557.75,908.93L1559.93,909.51L1562.1,910.1L1564.28,910.73L1566.45,911.31L1568.62,911.78L1570.8,912.15L1572.97,912.45L1575.15,912.73L1577.32,913L1579.5,913.29L1581.67,913.63L1583.85,914L1586.02,914.33L1588.19,914.65L1590.37,914.98L1592.54,915.33L1594.72,915.73L1596.89,916.17L1599.07,916.64L1601.24,917.14L1603.42,917.68L1605.59,918.25L1607.76,918.85L1609.94,919.46L1612.11,920.1L1614.29,920.73L1616.46,921.34L1618.64,921.93L1620.81,922.49L1622.99,923.01L1625.16,923.49L1627.34,923.91L1629.51,924.3L1631.68,924.57L1633.86,924.71L1636.03,924.79L1638.21,924.87L1640.38,925.05L1642.56,925.38L1644.73,925.79L1646.91,926.18L1649.08,926.53L1651.26,926.84L1653.43,927.1L1655.6,927.3L1657.78,927.43L1659.95,927.49L1662.13,927.58L1664.3,927.78L1666.48,928.06L1668.65,928.44L1670.83,928.9L1673,929.45L1673,1025.46L1670.83,1026.51L1668.65,1027.57L1666.48,1028.57L1664.3,1029.45L1662.13,1030.14L1659.95,1030.57L1657.78,1030.81L1655.6,1030.95L1653.43,1030.99L1651.26,1030.94L1649.08,1030.8L1646.91,1030.57L1644.73,1030.26L1642.56,1029.86L1640.38,1029.27L1638.21,1028.39L1636.03,1027.29L1633.86,1026.01L1631.68,1024.61L1629.51,1023.14L1627.34,1021.57L1625.16,1019.85L1622.99,1017.99L1620.81,1016.03L1618.64,1013.98L1616.46,1011.88L1614.29,1009.76L1612.11,1007.64L1609.94,1005.55L1607.76,1003.46L1605.59,1001.38L1603.42,999.32L1601.24,997.27L1599.07,995.22L1596.89,993.18L1594.72,991.13L1592.54,989.06L1590.37,986.98L1588.19,984.87L1586.02,982.77L1583.85,980.67L1581.67,978.58L1579.5,976.48L1577.32,974.31L1575.15,972.14L1572.97,969.99L1570.8,967.93L1568.62,966L1566.45,964.24L1564.28,962.69L1562.1,961.3L1559.93,959.98L1557.75,958.76L1555.58,957.66L1553.4,956.69L1551.23,955.89L1549.05,955.22L1546.88,954.63L1544.7,954.12L1542.53,953.67L1540.36,953.25L1538.18,952.84L1536.01,952.44L1533.83,952.02L1531.66,951.6L1529.48,951.18L1527.31,950.78L1525.13,950.38L1522.96,949.98L1520.78,949.58L1518.61,949.18L1516.44,948.77L1514.26,948.17L1512.09,947.28L1509.91,946.2L1507.74,945.02L1505.56,943.85L1503.39,942.78L1501.21,941.76L1499.04,940.68L1496.87,939.57L1494.69,938.45L1492.52,937.36L1490.34,936.33L1488.17,935.39L1485.99,934.57L1483.82,933.82L1481.64,933.06L1479.47,932.3L1477.3,931.53L1475.12,930.77L1472.95,930.03L1470.77,929.36L1468.6,928.82L1466.42,928.39L1464.25,928.01L1462.07,927.65L1459.9,927.28L1457.72,926.86L1455.55,926.34L1453.38,925.76L1451.2,925.13L1449.03,924.47L1446.85,923.77L1444.68,923.05L1442.5,922.32L1440.33,921.59L1438.15,920.86L1435.98,920.14L1433.8,919.46L1431.63,918.8L1429.46,918.2L1427.28,917.64L1425.11,917.15L1422.93,916.72L1420.76,916.37L1418.58,916.1L1416.41,915.91L1414.23,915.81L1412.06,915.78L1409.89,915.85L1407.71,916L1405.54,916.23L1403.36,916.53L1401.19,916.9L1399.01,917.31L1396.84,917.76L1394.66,918.23L1392.49,918.73L1390.32,919.26L1388.14,919.84L1385.97,920.44L1383.79,921.08L1381.62,921.74L1379.44,922.44L1377.27,923.17L1375.09,923.92L1372.92,924.7L1370.74,925.51L1368.57,926.35L1366.4,927.21L1364.22,928.09L1362.05,929L1359.87,929.92L1357.7,930.86L1355.52,931.8L1353.35,932.74L1351.17,933.68L1349,934.63L1346.82,935.57L1344.65,936.52L1342.48,937.47L1340.3,938.41L1338.13,939.36L1335.95,940.31L1333.78,941.25L1331.6,942.2L1329.43,943.15L1327.25,944.05L1325.08,944.86L1322.91,945.61L1320.73,946.31L1318.56,946.96L1316.38,947.6L1314.21,948.23L1312.03,948.86L1309.86,949.53L1307.68,950.23L1305.51,950.98L1303.34,951.81L1301.16,952.72L1298.99,953.74L1296.81,954.81L1294.64,955.9L1292.46,957L1290.29,958.12L1288.11,959.25L1285.94,960.4L1283.76,961.57L1281.59,962.74L1279.42,963.93L1277.24,965.13L1275.07,966.34L1272.89,967.56L1270.72,968.79L1268.54,970.03L1266.37,971.25L1264.19,972.43L1262.02,973.56L1259.84,974.66L1257.67,975.71L1255.5,976.74L1253.32,977.75L1251.15,978.74L1248.97,979.71L1246.8,980.67L1244.62,981.6L1242.45,982.49L1240.27,983.28L1238.1,983.94Z"/>
<mask id="mA8" maskUnits="userSpaceOnUse" x="0" y="0" width="1698" height="1145"><use href="#br8" fill="#fff"/><use href="#bg8" fill="#000"/></mask>
<mask id="mB8" maskUnits="userSpaceOnUse" x="0" y="0" width="1698" height="1145"><use href="#bg8" fill="#fff"/><use href="#br8" fill="#000"/></mask>
<clipPath id="cC8"><use href="#br8"/></clipPath></defs>
<use href="#br8" fill="rgb(232,200,200)" mask="url(#mA8)" style="mix-blend-mode:multiply"/>
<path d="M1238.1,980.47L1240.27,980L1242.45,979.39L1244.62,978.68L1246.8,977.9L1248.97,977.08L1251.15,976.23L1253.32,975.35L1255.5,974.43L1257.67,973.46L1259.84,972.46L1262.02,971.4L1264.19,970.29L1266.37,969.12L1268.54,967.89L1270.72,966.6L1272.89,965.26L1275.07,963.88L1277.24,962.46L1279.42,961L1281.59,959.53L1283.76,958.05L1285.94,956.57L1288.11,955.1L1290.29,953.64L1292.46,952.21L1294.64,950.81L1296.81,949.45L1298.99,948.15L1301.16,946.89L1303.34,945.69L1305.51,944.54L1307.68,943.44L1309.86,942.38L1312.03,941.37L1314.21,940.4L1316.38,939.45L1318.56,938.54L1320.73,937.65L1322.91,936.78L1325.08,935.93L1327.25,935.09L1329.43,934.25L1331.6,933.43L1333.78,932.61L1335.95,931.79L1338.13,930.99L1340.3,930.18L1342.48,929.39L1344.65,928.6L1346.82,927.83L1349,927.06L1351.17,926.31L1353.35,925.58L1355.52,924.86L1357.7,924.16L1359.87,923.47L1362.05,922.81L1364.22,922.17L1366.4,921.55L1368.57,920.95L1370.74,920.37L1372.92,919.82L1375.09,919.29L1377.27,918.79L1379.44,918.31L1381.62,917.86L1383.79,917.44L1385.97,917.04L1388.14,916.67L1390.32,916.33L1392.49,916.02L1394.66,915.75L1396.84,915.51L1399.01,915.31L1401.19,915.17L1403.36,915.08L1405.54,915.05L1407.71,915.08L1409.89,915.19L1412.06,915.36L1414.23,915.6L1416.41,915.9L1418.58,916.25L1420.76,916.64L1422.93,917.08L1425.11,917.54L1427.28,918.03L1429.46,918.55L1431.63,919.08L1433.8,919.64L1435.98,920.22L1438.15,920.81L1440.33,921.42L1442.5,922.05L1444.68,922.7L1446.85,923.37L1449.03,924.05L1451.2,924.74L1453.38,925.45L1455.55,926.18L1457.72,926.92L1459.9,927.67L1462.07,928.43L1464.25,929.19L1466.42,929.96L1468.6,930.74L1470.77,931.51L1472.95,932.29L1475.12,933.06L1477.3,933.83L1479.47,934.6L1481.64,935.36L1483.82,936.11L1485.99,936.85L1488.17,937.58L1490.34,938.3L1492.52,939L1494.69,939.68L1496.87,940.32L1499.04,940.94L1501.21,941.52L1503.39,942.06L1505.56,942.57L1507.74,943.05L1509.91,943.49L1512.09,943.91L1514.26,944.31L1516.44,944.69L1518.61,945.05L1520.78,945.41L1522.96,945.76L1525.13,946.09L1527.31,946.41L1529.48,946.72L1531.66,947.02L1533.83,947.31L1536.01,947.59L1538.18,947.86L1540.36,948.15L1542.53,948.46L1544.7,948.8L1546.88,949.19L1549.05,949.62L1551.23,950.11L1553.4,950.66L1555.58,951.26L1557.75,951.91L1559.93,952.61L1562.1,953.35L1564.28,954.12L1566.45,954.91L1568.62,955.73L1570.8,956.57L1572.97,957.42L1575.15,958.29L1577.32,959.18L1579.5,960.08L1581.67,961L1583.85,961.93L1586.02,962.88L1588.19,963.85L1590.37,964.83L1592.54,965.84L1594.72,966.87L1596.89,967.92L1599.07,968.99L1601.24,970.07L1603.42,971.17L1605.59,972.27L1607.76,973.37L1609.94,974.45L1612.11,975.53L1614.29,976.58L1616.46,977.61L1618.64,978.62L1620.81,979.6L1622.99,980.56L1625.16,981.49L1627.34,982.39L1629.51,983.27L1631.68,984.11L1633.86,984.91L1636.03,985.68L1638.21,986.39L1640.38,987.06L1642.56,987.67L1644.73,988.22L1646.91,988.71L1649.08,989.12L1651.26,989.47L1653.43,989.74L1655.6,989.94L1657.78,990.06L1659.95,990.11L1662.13,990.08L1664.3,990L1666.48,989.87L1668.65,989.72L1670.83,989.57L1673,989.44" fill="none" stroke="rgb(191,48,48)" stroke-width="6.0" stroke-linejoin="round"/>
<use href="#bg8" fill="rgb(213,232,193)" mask="url(#mB8)" style="mix-blend-mode:multiply"/>
<use href="#bg8" fill="rgb(207,213,163)" clip-path="url(#cC8)" style="mix-blend-mode:multiply"/>
<path d="M1238.1,980.47L1240.27,980L1242.45,979.39L1244.62,978.68L1246.8,977.9L1248.97,977.08L1251.15,976.23L1253.32,975.35L1255.5,974.43L1257.67,973.46L1259.84,972.46L1262.02,971.4L1264.19,970.29L1266.37,969.12L1268.54,967.89L1270.72,966.6L1272.89,965.26L1275.07,963.88L1277.24,962.46L1279.42,961L1281.59,959.53L1283.76,958.05L1285.94,956.57L1288.11,955.1L1290.29,953.64L1292.46,952.21L1294.64,950.81L1296.81,949.45L1298.99,948.15L1301.16,946.89L1303.34,945.69L1305.51,944.54L1307.68,943.44L1309.86,942.38L1312.03,941.37L1314.21,940.4L1316.38,939.45L1318.56,938.54L1320.73,937.65L1322.91,936.78L1325.08,935.93L1327.25,935.09L1329.43,934.25L1331.6,933.43L1333.78,932.61L1335.95,931.79L1338.13,930.99L1340.3,930.18L1342.48,929.39L1344.65,928.6L1346.82,927.83L1349,927.06L1351.17,926.31L1353.35,925.58L1355.52,924.86L1357.7,924.16L1359.87,923.47L1362.05,922.81L1364.22,922.17L1366.4,921.55L1368.57,920.95L1370.74,920.37L1372.92,919.82L1375.09,919.29L1377.27,918.79L1379.44,918.31L1381.62,917.86L1383.79,917.44L1385.97,917.04L1388.14,916.67L1390.32,916.33L1392.49,916.02L1394.66,915.75L1396.84,915.51L1399.01,915.31L1401.19,915.17L1403.36,915.08L1405.54,915.05L1407.71,915.08L1409.89,915.19L1412.06,915.36L1414.23,915.6L1416.41,915.9L1418.58,916.25L1420.76,916.64L1422.93,917.08L1425.11,917.54L1427.28,918.03L1429.46,918.55L1431.63,919.08L1433.8,919.64L1435.98,920.22L1438.15,920.81L1440.33,921.42L1442.5,922.05L1444.68,922.7L1446.85,923.37L1449.03,924.05L1451.2,924.74L1453.38,925.45L1455.55,926.18L1457.72,926.92L1459.9,927.67L1462.07,928.43L1464.25,929.19L1466.42,929.96L1468.6,930.74L1470.77,931.51L1472.95,932.29L1475.12,933.06L1477.3,933.83L1479.47,934.6L1481.64,935.36L1483.82,936.11L1485.99,936.85L1488.17,937.58L1490.34,938.3L1492.52,939L1494.69,939.68L1496.87,940.32L1499.04,940.94L1501.21,941.52L1503.39,942.06L1505.56,942.57L1507.74,943.05L1509.91,943.49L1512.09,943.91L1514.26,944.31L1516.44,944.69L1518.61,945.05L1520.78,945.41L1522.96,945.76L1525.13,946.09L1527.31,946.41L1529.48,946.72L1531.66,947.02L1533.83,947.31L1536.01,947.59L1538.18,947.86L1540.36,948.15L1542.53,948.46L1544.7,948.8L1546.88,949.19L1549.05,949.62L1551.23,950.11L1553.4,950.66L1555.58,951.26L1557.75,951.91L1559.93,952.61L1562.1,953.35L1564.28,954.12L1566.45,954.91L1568.62,955.73L1570.8,956.57L1572.97,957.42L1575.15,958.29L1577.32,959.18L1579.5,960.08L1581.67,961L1583.85,961.93L1586.02,962.88L1588.19,963.85L1590.37,964.83L1592.54,965.84L1594.72,966.87L1596.89,967.92L1599.07,968.99L1601.24,970.07L1603.42,971.17L1605.59,972.27L1607.76,973.37L1609.94,974.45L1612.11,975.53L1614.29,976.58L1616.46,977.61L1618.64,978.62L1620.81,979.6L1622.99,980.56L1625.16,981.49L1627.34,982.39L1629.51,983.27L1631.68,984.11L1633.86,984.91L1636.03,985.68L1638.21,986.39L1640.38,987.06L1642.56,987.67L1644.73,988.22L1646.91,988.71L1649.08,989.12L1651.26,989.47L1653.43,989.74L1655.6,989.94L1657.78,990.06L1659.95,990.11L1662.13,990.08L1664.3,990L1666.48,989.87L1668.65,989.72L1670.83,989.57L1673,989.44" fill="none" stroke="rgb(191,48,48)" stroke-width="6.0" stroke-linejoin="round" stroke-opacity="0.5"/>
<path d="M1238.1,966.99L1240.27,966.48L1242.45,965.81L1244.62,965.02L1246.8,964.17L1248.97,963.28L1251.15,962.37L1253.32,961.42L1255.5,960.45L1257.67,959.44L1259.84,958.4L1262.02,957.32L1264.19,956.19L1266.37,955.02L1268.54,953.79L1270.72,952.52L1272.89,951.21L1275.07,949.86L1277.24,948.47L1279.42,947.05L1281.59,945.61L1283.76,944.15L1285.94,942.68L1288.11,941.21L1290.29,939.74L1292.46,938.27L1294.64,936.82L1296.81,935.38L1298.99,933.97L1301.16,932.58L1303.34,931.22L1305.51,929.88L1307.68,928.56L1309.86,927.27L1312.03,926L1314.21,924.75L1316.38,923.51L1318.56,922.29L1320.73,921.08L1322.91,919.88L1325.08,918.69L1327.25,917.5L1329.43,916.32L1331.6,915.14L1333.78,913.97L1335.95,912.8L1338.13,911.64L1340.3,910.49L1342.48,909.35L1344.65,908.22L1346.82,907.12L1349,906.03L1351.17,904.96L1353.35,903.92L1355.52,902.91L1357.7,901.93L1359.87,900.98L1362.05,900.06L1364.22,899.17L1366.4,898.33L1368.57,897.52L1370.74,896.74L1372.92,896L1375.09,895.3L1377.27,894.63L1379.44,894L1381.62,893.4L1383.79,892.84L1385.97,892.31L1388.14,891.82L1390.32,891.36L1392.49,890.94L1394.66,890.56L1396.84,890.21L1399.01,889.92L1401.19,889.67L1403.36,889.49L1405.54,889.36L1407.71,889.31L1409.89,889.33L1412.06,889.43L1414.23,889.61L1416.41,889.88L1418.58,890.24L1420.76,890.69L1422.93,891.24L1425.11,891.87L1427.28,892.59L1429.46,893.4L1431.63,894.27L1433.8,895.2L1435.98,896.18L1438.15,897.2L1440.33,898.23L1442.5,899.28L1444.68,900.33L1446.85,901.37L1449.03,902.38L1451.2,903.36L1453.38,904.28L1455.55,905.16L1457.72,905.99L1459.9,906.78L1462.07,907.52L1464.25,908.24L1466.42,908.95L1468.6,909.66L1470.77,910.37L1472.95,911.11L1475.12,911.85L1477.3,912.61L1479.47,913.38L1481.64,914.14L1483.82,914.9L1485.99,915.65L1488.17,916.38L1490.34,917.09L1492.52,917.77L1494.69,918.43L1496.87,919.06L1499.04,919.65L1501.21,920.22L1503.39,920.76L1505.56,921.26L1507.74,921.75L1509.91,922.21L1512.09,922.65L1514.26,923.08L1516.44,923.49L1518.61,923.91L1520.78,924.32L1522.96,924.73L1525.13,925.14L1527.31,925.56L1529.48,925.99L1531.66,926.43L1533.83,926.89L1536.01,927.36L1538.18,927.85L1540.36,928.37L1542.53,928.91L1544.7,929.49L1546.88,930.11L1549.05,930.76L1551.23,931.46L1553.4,932.2L1555.58,933L1557.75,933.85L1559.93,934.75L1562.1,935.7L1564.28,936.71L1566.45,937.77L1568.62,938.89L1570.8,940.04L1572.97,941.22L1575.15,942.43L1577.32,943.66L1579.5,944.88L1581.67,946.11L1583.85,947.33L1586.02,948.55L1588.19,949.76L1590.37,950.98L1592.54,952.2L1594.72,953.43L1596.89,954.67L1599.07,955.93L1601.24,957.2L1603.42,958.5L1605.59,959.82L1607.76,961.15L1609.94,962.5L1612.11,963.87L1614.29,965.25L1616.46,966.61L1618.64,967.96L1620.81,969.26L1622.99,970.5L1625.16,971.67L1627.34,972.74L1629.51,973.72L1631.68,974.59L1633.86,975.36L1636.03,976.04L1638.21,976.63L1640.38,977.16L1642.56,977.62L1644.73,978.02L1646.91,978.37L1649.08,978.66L1651.26,978.89L1653.43,979.05L1655.6,979.13L1657.78,979.12L1659.95,979.03L1662.13,978.86L1664.3,978.62L1666.48,978.32L1668.65,978L1670.83,977.7L1673,977.46" fill="none" stroke="rgb(126,182,81)" stroke-width="6.0" stroke-linejoin="round"/>
</g>
<rect x="1238.1" y="813.1" width="434.9" height="245.3" fill="none" stroke="#474c51" stroke-width="1.9" rx="0.8"/>
<path d="M1238.1,1058.4v-4.4M1238.1,813.1v4.4M1325.08,1058.4v-4.4M1325.08,813.1v4.4M1412.06,1058.4v-4.4M1412.06,813.1v4.4M1499.04,1058.4v-4.4M1499.04,813.1v4.4M1586.02,1058.4v-4.4M1586.02,813.1v4.4M1673,1058.4v-4.4M1673,813.1v4.4M1238.1,1024h4.4M1673,1024h-4.4M1238.1,953.4h4.4M1673,953.4h-4.4M1238.1,882.8h4.4M1673,882.8h-4.4M1238.1,812.2h4.4M1673,812.2h-4.4" stroke="#474c51" stroke-width="1.6" fill="none"/>
<text x="1238.1" y="1094.5" font-size="25.7" fill="#45494e" text-anchor="middle">0</text>
<text x="1325.08" y="1094.5" font-size="25.7" fill="#45494e" text-anchor="middle">20</text>
<text x="1412.06" y="1094.5" font-size="25.7" fill="#45494e" text-anchor="middle">40</text>
<text x="1499.04" y="1094.5" font-size="25.7" fill="#45494e" text-anchor="middle">60</text>
<text x="1586.02" y="1094.5" font-size="25.7" fill="#45494e" text-anchor="middle">80</text>
<text x="1673" y="1094.5" font-size="25.7" fill="#45494e" text-anchor="middle">100</text>
<text x="1227.4" y="1035.8" font-size="25.7" fill="#45494e" text-anchor="end">-15</text>
<text x="1227.4" y="965.2" font-size="25.7" fill="#45494e" text-anchor="end">-10</text>
<text x="1227.4" y="894.6" font-size="25.7" fill="#45494e" text-anchor="end">-5</text>
<text x="1227.4" y="824" font-size="25.7" fill="#45494e" text-anchor="end">0</text>
<text x="1455.55" y="1134.5" font-size="31.25" fill="#45494e" text-anchor="middle">gait cycle</text>
<text transform="translate(1178.4,935.75) rotate(-90)" font-size="31.25" fill="#45494e" text-anchor="middle">Degree</text>
<text x="1455.55" y="799.2" font-size="37.1" fill="#161616" text-anchor="middle">Ankle inversion/eversion</text>
<rect x="84.2" y="228.5" width="173.4" height="66.2" fill="#fff" stroke="#474c51" stroke-width="1.3"/>
<rect x="91" y="243.5" width="86" height="6.3" rx="2" fill="rgb(191,48,48)"/>
<rect x="91" y="273.4" width="86" height="6.3" rx="2" fill="rgb(120,178,78)"/>
<text x="183.2" y="255.4" font-size="22.5" fill="#45494e">TLK</text>
<text x="183.2" y="286.6" font-size="22.5" fill="#45494e">Health</text>
</svg></body></html>
